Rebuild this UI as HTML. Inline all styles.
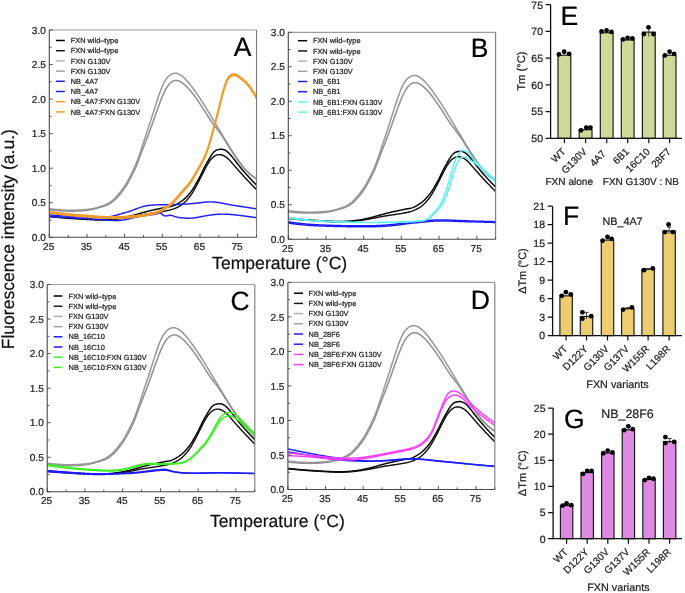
<!DOCTYPE html><html><head><meta charset="utf-8"><title>Figure</title><style>html,body{margin:0;padding:0;background:#fff;overflow:hidden}svg{display:block;filter:blur(0.35px)}text{font-family:"Liberation Sans",sans-serif;text-rendering:geometricPrecision;stroke-width:0.22px}</style></head><body>
<svg width="685" height="593" viewBox="0 0 685 593" font-family="Liberation Sans, sans-serif">
<rect width="685" height="593" fill="#fff"/>
<clipPath id="clipA"><rect x="49.3" y="30" width="207.2" height="207.3"/></clipPath>
<g clip-path="url(#clipA)">
<path d="M49.3,208.76 L50.05,208.85 L50.81,208.93 L51.56,209.01 L52.31,209.09 L53.07,209.18 L53.82,209.25 L54.57,209.33 L55.33,209.41 L56.08,209.48 L56.83,209.55 L57.59,209.62 L58.34,209.69 L59.09,209.75 L59.85,209.81 L60.6,209.87 L61.36,209.92 L62.11,209.97 L62.86,210.01 L63.62,210.05 L64.37,210.09 L65.12,210.12 L65.88,210.15 L66.63,210.17 L67.38,210.19 L68.14,210.21 L68.89,210.22 L69.64,210.23 L70.4,210.23 L71.15,210.24 L71.9,210.23 L72.66,210.23 L73.41,210.22 L74.16,210.21 L74.92,210.19 L75.67,210.17 L76.42,210.15 L77.18,210.12 L77.93,210.09 L78.68,210.06 L79.44,210.02 L80.19,209.98 L80.95,209.93 L81.7,209.89 L82.45,209.83 L83.21,209.78 L83.96,209.72 L84.71,209.66 L85.47,209.59 L86.22,209.53 L86.97,209.45 L87.73,209.38 L88.48,209.3 L89.23,209.21 L89.99,209.11 L90.74,209.01 L91.49,208.89 L92.25,208.76 L93,208.62 L93.75,208.46 L94.51,208.28 L95.26,208.08 L96.01,207.87 L96.77,207.65 L97.52,207.41 L98.27,207.17 L99.03,206.92 L99.78,206.67 L100.53,206.43 L101.29,206.18 L102.04,205.93 L102.8,205.68 L103.55,205.41 L104.3,205.13 L105.06,204.84 L105.81,204.52 L106.56,204.18 L107.32,203.8 L108.07,203.4 L108.82,202.97 L109.58,202.5 L110.33,202 L111.08,201.46 L111.84,200.89 L112.59,200.28 L113.34,199.64 L114.1,198.95 L114.85,198.22 L115.6,197.46 L116.36,196.66 L117.11,195.83 L117.86,194.96 L118.62,194.06 L119.37,193.14 L120.12,192.19 L120.88,191.22 L121.63,190.23 L122.39,189.21 L123.14,188.17 L123.89,187.09 L124.65,185.97 L125.4,184.81 L126.15,183.61 L126.91,182.34 L127.66,181.02 L128.41,179.65 L129.17,178.23 L129.92,176.78 L130.67,175.29 L131.43,173.79 L132.18,172.28 L132.93,170.75 L133.69,169.2 L134.44,167.59 L135.19,165.93 L135.95,164.18 L136.7,162.33 L137.45,160.37 L138.21,158.31 L138.96,156.17 L139.71,153.97 L140.47,151.72 L141.22,149.44 L141.97,147.14 L142.73,144.83 L143.48,142.52 L144.24,140.21 L144.99,137.92 L145.74,135.64 L146.5,133.36 L147.25,131.08 L148,128.8 L148.76,126.51 L149.51,124.22 L150.26,121.9 L151.02,119.57 L151.77,117.23 L152.52,114.87 L153.28,112.51 L154.03,110.16 L154.78,107.8 L155.54,105.46 L156.29,103.13 L157.04,100.83 L157.8,98.55 L158.55,96.31 L159.3,94.12 L160.06,92.01 L160.81,89.97 L161.56,88.04 L162.32,86.22 L163.07,84.52 L163.83,82.97 L164.58,81.57 L165.33,80.31 L166.09,79.18 L166.84,78.18 L167.59,77.29 L168.35,76.51 L169.1,75.83 L169.85,75.24 L170.61,74.72 L171.36,74.29 L172.11,73.92 L172.87,73.63 L173.62,73.42 L174.37,73.29 L175.13,73.23 L175.88,73.26 L176.63,73.36 L177.39,73.54 L178.14,73.79 L178.89,74.11 L179.65,74.5 L180.4,74.93 L181.15,75.43 L181.91,75.97 L182.66,76.57 L183.41,77.21 L184.17,77.89 L184.92,78.62 L185.68,79.38 L186.43,80.18 L187.18,81.02 L187.94,81.88 L188.69,82.77 L189.44,83.69 L190.2,84.64 L190.95,85.61 L191.7,86.6 L192.46,87.61 L193.21,88.63 L193.96,89.68 L194.72,90.73 L195.47,91.8 L196.22,92.88 L196.98,93.97 L197.73,95.07 L198.48,96.17 L199.24,97.29 L199.99,98.42 L200.74,99.55 L201.5,100.7 L202.25,101.86 L203,103.03 L203.76,104.22 L204.51,105.41 L205.27,106.62 L206.02,107.84 L206.77,109.07 L207.53,110.3 L208.28,111.55 L209.03,112.8 L209.79,114.05 L210.54,115.31 L211.29,116.56 L212.05,117.82 L212.8,119.08 L213.55,120.33 L214.31,121.58 L215.06,122.83 L215.81,124.09 L216.57,125.34 L217.32,126.59 L218.07,127.84 L218.83,129.09 L219.58,130.35 L220.33,131.61 L221.09,132.87 L221.84,134.13 L222.59,135.39 L223.35,136.66 L224.1,137.92 L224.85,139.18 L225.61,140.43 L226.36,141.68 L227.12,142.93 L227.87,144.17 L228.62,145.4 L229.38,146.62 L230.13,147.83 L230.88,149.03 L231.64,150.22 L232.39,151.4 L233.14,152.57 L233.9,153.73 L234.65,154.88 L235.4,156.02 L236.16,157.14 L236.91,158.25 L237.66,159.35 L238.42,160.43 L239.17,161.5 L239.92,162.55 L240.68,163.57 L241.43,164.58 L242.18,165.56 L242.94,166.51 L243.69,167.44 L244.44,168.33 L245.2,169.19 L245.95,170.01 L246.71,170.8 L247.46,171.55 L248.21,172.27 L248.97,172.95 L249.72,173.61 L250.47,174.24 L251.23,174.85 L251.98,175.43 L252.73,176 L253.49,176.56 L254.24,177.11 L254.99,177.64 L255.75,178.17 L256.5,178.7 L256.5,178.7" fill="none" stroke="#9a9a9a" stroke-width="1.55" stroke-linejoin="round" stroke-linecap="round"/>
<path d="M49.3,209.8 L50.05,209.88 L50.81,209.96 L51.56,210.04 L52.31,210.11 L53.07,210.19 L53.82,210.27 L54.57,210.34 L55.33,210.41 L56.08,210.48 L56.83,210.55 L57.59,210.61 L58.34,210.67 L59.09,210.73 L59.85,210.78 L60.6,210.83 L61.36,210.88 L62.11,210.92 L62.86,210.96 L63.62,210.99 L64.37,211.02 L65.12,211.05 L65.88,211.07 L66.63,211.09 L67.38,211.1 L68.14,211.12 L68.89,211.12 L69.64,211.13 L70.4,211.13 L71.15,211.13 L71.9,211.13 L72.66,211.12 L73.41,211.12 L74.16,211.11 L74.92,211.09 L75.67,211.08 L76.42,211.06 L77.18,211.04 L77.93,211.01 L78.68,210.98 L79.44,210.94 L80.19,210.91 L80.95,210.86 L81.7,210.81 L82.45,210.75 L83.21,210.69 L83.96,210.62 L84.71,210.55 L85.47,210.47 L86.22,210.38 L86.97,210.28 L87.73,210.18 L88.48,210.06 L89.23,209.94 L89.99,209.81 L90.74,209.67 L91.49,209.52 L92.25,209.37 L93,209.2 L93.75,209.02 L94.51,208.83 L95.26,208.63 L96.01,208.43 L96.77,208.21 L97.52,208 L98.27,207.78 L99.03,207.56 L99.78,207.35 L100.53,207.14 L101.29,206.93 L102.04,206.73 L102.8,206.52 L103.55,206.3 L104.3,206.07 L105.06,205.82 L105.81,205.55 L106.56,205.26 L107.32,204.93 L108.07,204.57 L108.82,204.18 L109.58,203.76 L110.33,203.3 L111.08,202.8 L111.84,202.27 L112.59,201.71 L113.34,201.11 L114.1,200.47 L114.85,199.8 L115.6,199.09 L116.36,198.34 L117.11,197.57 L117.86,196.76 L118.62,195.92 L119.37,195.04 L120.12,194.14 L120.88,193.21 L121.63,192.25 L122.39,191.26 L123.14,190.24 L123.89,189.18 L124.65,188.08 L125.4,186.95 L126.15,185.77 L126.91,184.55 L127.66,183.27 L128.41,181.95 L129.17,180.59 L129.92,179.2 L130.67,177.77 L131.43,176.33 L132.18,174.86 L132.93,173.37 L133.69,171.84 L134.44,170.26 L135.19,168.62 L135.95,166.9 L136.7,165.09 L137.45,163.18 L138.21,161.19 L138.96,159.15 L139.71,157.1 L140.47,155.05 L141.22,153.03 L141.97,151.07 L142.73,149.13 L143.48,147.22 L144.24,145.32 L144.99,143.43 L145.74,141.52 L146.5,139.59 L147.25,137.64 L148,135.66 L148.76,133.66 L149.51,131.63 L150.26,129.58 L151.02,127.51 L151.77,125.42 L152.52,123.31 L153.28,121.18 L154.03,119.04 L154.78,116.9 L155.54,114.75 L156.29,112.61 L157.04,110.48 L157.8,108.37 L158.55,106.3 L159.3,104.25 L160.06,102.25 L160.81,100.3 L161.56,98.4 L162.32,96.57 L163.07,94.82 L163.83,93.14 L164.58,91.56 L165.33,90.07 L166.09,88.69 L166.84,87.43 L167.59,86.28 L168.35,85.24 L169.1,84.32 L169.85,83.5 L170.61,82.79 L171.36,82.17 L172.11,81.65 L172.87,81.23 L173.62,80.9 L174.37,80.66 L175.13,80.51 L175.88,80.44 L176.63,80.46 L177.39,80.57 L178.14,80.74 L178.89,80.99 L179.65,81.3 L180.4,81.67 L181.15,82.1 L181.91,82.58 L182.66,83.1 L183.41,83.68 L184.17,84.3 L184.92,84.96 L185.68,85.66 L186.43,86.4 L187.18,87.17 L187.94,87.98 L188.69,88.81 L189.44,89.67 L190.2,90.55 L190.95,91.46 L191.7,92.39 L192.46,93.35 L193.21,94.32 L193.96,95.32 L194.72,96.33 L195.47,97.36 L196.22,98.41 L196.98,99.47 L197.73,100.55 L198.48,101.64 L199.24,102.74 L199.99,103.86 L200.74,104.99 L201.5,106.13 L202.25,107.28 L203,108.44 L203.76,109.62 L204.51,110.8 L205.27,111.99 L206.02,113.18 L206.77,114.38 L207.53,115.57 L208.28,116.75 L209.03,117.93 L209.79,119.08 L210.54,120.22 L211.29,121.33 L212.05,122.41 L212.8,123.46 L213.55,124.48 L214.31,125.47 L215.06,126.45 L215.81,127.42 L216.57,128.38 L217.32,129.35 L218.07,130.33 L218.83,131.32 L219.58,132.34 L220.33,133.38 L221.09,134.47 L221.84,135.59 L222.59,136.73 L223.35,137.91 L224.1,139.1 L224.85,140.32 L225.61,141.54 L226.36,142.76 L227.12,143.99 L227.87,145.22 L228.62,146.43 L229.38,147.64 L230.13,148.83 L230.88,150 L231.64,151.16 L232.39,152.31 L233.14,153.45 L233.9,154.57 L234.65,155.69 L235.4,156.79 L236.16,157.87 L236.91,158.95 L237.66,160.01 L238.42,161.07 L239.17,162.1 L239.92,163.12 L240.68,164.12 L241.43,165.11 L242.18,166.06 L242.94,166.99 L243.69,167.9 L244.44,168.78 L245.2,169.62 L245.95,170.43 L246.71,171.21 L247.46,171.95 L248.21,172.66 L248.97,173.34 L249.72,174 L250.47,174.63 L251.23,175.23 L251.98,175.82 L252.73,176.4 L253.49,176.96 L254.24,177.51 L254.99,178.05 L255.75,178.58 L256.5,179.12 L256.5,179.12" fill="none" stroke="#929292" stroke-width="1.55" stroke-linejoin="round" stroke-linecap="round"/>
<path d="M49.3,216.22 L50.05,216.3 L50.81,216.37 L51.56,216.44 L52.31,216.51 L53.07,216.58 L53.82,216.65 L54.57,216.72 L55.33,216.79 L56.08,216.86 L56.83,216.93 L57.59,216.99 L58.34,217.06 L59.09,217.13 L59.85,217.2 L60.6,217.26 L61.36,217.33 L62.11,217.39 L62.86,217.45 L63.62,217.52 L64.37,217.58 L65.12,217.64 L65.88,217.7 L66.63,217.76 L67.38,217.82 L68.14,217.88 L68.89,217.93 L69.64,217.99 L70.4,218.04 L71.15,218.1 L71.9,218.15 L72.66,218.2 L73.41,218.25 L74.16,218.3 L74.92,218.35 L75.67,218.4 L76.42,218.45 L77.18,218.5 L77.93,218.54 L78.68,218.59 L79.44,218.63 L80.19,218.68 L80.95,218.72 L81.7,218.76 L82.45,218.81 L83.21,218.85 L83.96,218.89 L84.71,218.93 L85.47,218.97 L86.22,219.02 L86.97,219.06 L87.73,219.1 L88.48,219.14 L89.23,219.18 L89.99,219.22 L90.74,219.26 L91.49,219.3 L92.25,219.33 L93,219.37 L93.75,219.4 L94.51,219.43 L95.26,219.46 L96.01,219.48 L96.77,219.5 L97.52,219.52 L98.27,219.53 L99.03,219.54 L99.78,219.54 L100.53,219.54 L101.29,219.54 L102.04,219.53 L102.8,219.52 L103.55,219.5 L104.3,219.48 L105.06,219.45 L105.81,219.42 L106.56,219.38 L107.32,219.34 L108.07,219.3 L108.82,219.25 L109.58,219.2 L110.33,219.14 L111.08,219.08 L111.84,219.01 L112.59,218.94 L113.34,218.87 L114.1,218.79 L114.85,218.7 L115.6,218.62 L116.36,218.53 L117.11,218.44 L117.86,218.34 L118.62,218.24 L119.37,218.13 L120.12,218.02 L120.88,217.91 L121.63,217.79 L122.39,217.67 L123.14,217.54 L123.89,217.4 L124.65,217.26 L125.4,217.11 L126.15,216.96 L126.91,216.8 L127.66,216.64 L128.41,216.47 L129.17,216.29 L129.92,216.11 L130.67,215.93 L131.43,215.74 L132.18,215.55 L132.93,215.35 L133.69,215.15 L134.44,214.95 L135.19,214.74 L135.95,214.54 L136.7,214.33 L137.45,214.12 L138.21,213.91 L138.96,213.69 L139.71,213.48 L140.47,213.27 L141.22,213.05 L141.97,212.84 L142.73,212.63 L143.48,212.42 L144.24,212.22 L144.99,212.01 L145.74,211.81 L146.5,211.61 L147.25,211.41 L148,211.22 L148.76,211.03 L149.51,210.84 L150.26,210.66 L151.02,210.48 L151.77,210.3 L152.52,210.13 L153.28,209.96 L154.03,209.79 L154.78,209.63 L155.54,209.47 L156.29,209.31 L157.04,209.15 L157.8,209 L158.55,208.84 L159.3,208.68 L160.06,208.52 L160.81,208.36 L161.56,208.2 L162.32,208.03 L163.07,207.86 L163.83,207.7 L164.58,207.54 L165.33,207.38 L166.09,207.23 L166.84,207.09 L167.59,206.96 L168.35,206.84 L169.1,206.73 L169.85,206.61 L170.61,206.49 L171.36,206.35 L172.11,206.17 L172.87,205.95 L173.62,205.69 L174.37,205.4 L175.13,205.06 L175.88,204.69 L176.63,204.3 L177.39,203.88 L178.14,203.44 L178.89,202.98 L179.65,202.51 L180.4,202.01 L181.15,201.48 L181.91,200.93 L182.66,200.35 L183.41,199.74 L184.17,199.09 L184.92,198.4 L185.68,197.68 L186.43,196.92 L187.18,196.13 L187.94,195.31 L188.69,194.46 L189.44,193.58 L190.2,192.67 L190.95,191.71 L191.7,190.7 L192.46,189.62 L193.21,188.47 L193.96,187.26 L194.72,186 L195.47,184.71 L196.22,183.4 L196.98,182.08 L197.73,180.74 L198.48,179.37 L199.24,177.96 L199.99,176.49 L200.74,174.97 L201.5,173.4 L202.25,171.82 L203,170.23 L203.76,168.67 L204.51,167.16 L205.27,165.72 L206.02,164.33 L206.77,162.99 L207.53,161.69 L208.28,160.42 L209.03,159.15 L209.79,157.9 L210.54,156.65 L211.29,155.45 L212.05,154.31 L212.8,153.27 L213.55,152.36 L214.31,151.6 L215.06,151 L215.81,150.53 L216.57,150.17 L217.32,149.9 L218.07,149.68 L218.83,149.51 L219.58,149.38 L220.33,149.29 L221.09,149.27 L221.84,149.3 L222.59,149.39 L223.35,149.56 L224.1,149.79 L224.85,150.1 L225.61,150.48 L226.36,150.94 L227.12,151.48 L227.87,152.1 L228.62,152.8 L229.38,153.57 L230.13,154.4 L230.88,155.28 L231.64,156.2 L232.39,157.14 L233.14,158.1 L233.9,159.07 L234.65,160.05 L235.4,161.03 L236.16,162.01 L236.91,162.98 L237.66,163.95 L238.42,164.9 L239.17,165.84 L239.92,166.77 L240.68,167.69 L241.43,168.6 L242.18,169.5 L242.94,170.39 L243.69,171.27 L244.44,172.14 L245.2,173.01 L245.95,173.86 L246.71,174.7 L247.46,175.54 L248.21,176.36 L248.97,177.18 L249.72,178 L250.47,178.8 L251.23,179.61 L251.98,180.4 L252.73,181.2 L253.49,181.99 L254.24,182.78 L254.99,183.56 L255.75,184.35 L256.5,185.13 L256.5,185.13" fill="none" stroke="#000000" stroke-width="1.45" stroke-linejoin="round" stroke-linecap="round"/>
<path d="M49.3,216.57 L50.05,216.65 L50.81,216.72 L51.56,216.8 L52.31,216.88 L53.07,216.95 L53.82,217.03 L54.57,217.1 L55.33,217.18 L56.08,217.25 L56.83,217.32 L57.59,217.4 L58.34,217.47 L59.09,217.54 L59.85,217.61 L60.6,217.68 L61.36,217.74 L62.11,217.81 L62.86,217.87 L63.62,217.94 L64.37,218 L65.12,218.06 L65.88,218.12 L66.63,218.18 L67.38,218.24 L68.14,218.3 L68.89,218.35 L69.64,218.41 L70.4,218.46 L71.15,218.52 L71.9,218.57 L72.66,218.62 L73.41,218.67 L74.16,218.72 L74.92,218.76 L75.67,218.81 L76.42,218.86 L77.18,218.9 L77.93,218.95 L78.68,218.99 L79.44,219.04 L80.19,219.08 L80.95,219.13 L81.7,219.17 L82.45,219.21 L83.21,219.26 L83.96,219.3 L84.71,219.34 L85.47,219.38 L86.22,219.43 L86.97,219.47 L87.73,219.52 L88.48,219.56 L89.23,219.6 L89.99,219.65 L90.74,219.69 L91.49,219.73 L92.25,219.77 L93,219.81 L93.75,219.85 L94.51,219.88 L95.26,219.91 L96.01,219.94 L96.77,219.97 L97.52,219.99 L98.27,220.01 L99.03,220.02 L99.78,220.03 L100.53,220.03 L101.29,220.03 L102.04,220.03 L102.8,220.02 L103.55,220.01 L104.3,219.99 L105.06,219.97 L105.81,219.94 L106.56,219.91 L107.32,219.88 L108.07,219.84 L108.82,219.8 L109.58,219.75 L110.33,219.7 L111.08,219.64 L111.84,219.58 L112.59,219.52 L113.34,219.45 L114.1,219.38 L114.85,219.3 L115.6,219.23 L116.36,219.14 L117.11,219.06 L117.86,218.97 L118.62,218.88 L119.37,218.78 L120.12,218.68 L120.88,218.58 L121.63,218.47 L122.39,218.36 L123.14,218.25 L123.89,218.14 L124.65,218.02 L125.4,217.9 L126.15,217.78 L126.91,217.66 L127.66,217.53 L128.41,217.4 L129.17,217.27 L129.92,217.14 L130.67,217 L131.43,216.87 L132.18,216.72 L132.93,216.58 L133.69,216.44 L134.44,216.29 L135.19,216.14 L135.95,215.99 L136.7,215.83 L137.45,215.68 L138.21,215.53 L138.96,215.37 L139.71,215.22 L140.47,215.07 L141.22,214.92 L141.97,214.78 L142.73,214.64 L143.48,214.5 L144.24,214.36 L144.99,214.23 L145.74,214.1 L146.5,213.98 L147.25,213.86 L148,213.74 L148.76,213.62 L149.51,213.51 L150.26,213.4 L151.02,213.28 L151.77,213.17 L152.52,213.06 L153.28,212.95 L154.03,212.84 L154.78,212.72 L155.54,212.61 L156.29,212.5 L157.04,212.38 L157.8,212.27 L158.55,212.15 L159.3,212.03 L160.06,211.91 L160.81,211.79 L161.56,211.67 L162.32,211.55 L163.07,211.42 L163.83,211.29 L164.58,211.15 L165.33,211.02 L166.09,210.87 L166.84,210.72 L167.59,210.57 L168.35,210.41 L169.1,210.24 L169.85,210.06 L170.61,209.87 L171.36,209.66 L172.11,209.43 L172.87,209.19 L173.62,208.92 L174.37,208.64 L175.13,208.33 L175.88,208 L176.63,207.65 L177.39,207.29 L178.14,206.9 L178.89,206.49 L179.65,206.05 L180.4,205.59 L181.15,205.1 L181.91,204.57 L182.66,204.01 L183.41,203.4 L184.17,202.75 L184.92,202.05 L185.68,201.31 L186.43,200.52 L187.18,199.69 L187.94,198.82 L188.69,197.91 L189.44,196.97 L190.2,195.99 L190.95,194.96 L191.7,193.88 L192.46,192.73 L193.21,191.52 L193.96,190.24 L194.72,188.92 L195.47,187.56 L196.22,186.17 L196.98,184.75 L197.73,183.32 L198.48,181.86 L199.24,180.4 L199.99,178.91 L200.74,177.41 L201.5,175.9 L202.25,174.4 L203,172.89 L203.76,171.4 L204.51,169.93 L205.27,168.48 L206.02,167.07 L206.77,165.7 L207.53,164.4 L208.28,163.16 L209.03,162 L209.79,160.92 L210.54,159.92 L211.29,159 L212.05,158.18 L212.8,157.45 L213.55,156.81 L214.31,156.26 L215.06,155.8 L215.81,155.42 L216.57,155.11 L217.32,154.88 L218.07,154.73 L218.83,154.64 L219.58,154.63 L220.33,154.7 L221.09,154.82 L221.84,155.02 L222.59,155.27 L223.35,155.59 L224.1,155.95 L224.85,156.37 L225.61,156.84 L226.36,157.37 L227.12,157.95 L227.87,158.6 L228.62,159.29 L229.38,160.04 L230.13,160.83 L230.88,161.65 L231.64,162.5 L232.39,163.36 L233.14,164.23 L233.9,165.11 L234.65,165.98 L235.4,166.86 L236.16,167.74 L236.91,168.61 L237.66,169.47 L238.42,170.33 L239.17,171.17 L239.92,172.02 L240.68,172.86 L241.43,173.69 L242.18,174.51 L242.94,175.34 L243.69,176.15 L244.44,176.96 L245.2,177.77 L245.95,178.58 L246.71,179.38 L247.46,180.18 L248.21,180.98 L248.97,181.77 L249.72,182.56 L250.47,183.35 L251.23,184.14 L251.98,184.92 L252.73,185.71 L253.49,186.49 L254.24,187.28 L254.99,188.06 L255.75,188.84 L256.5,189.62 L256.5,189.62" fill="none" stroke="#111111" stroke-width="1.45" stroke-linejoin="round" stroke-linecap="round"/>
<path d="M49.3,214.84 L50.05,214.9 L50.81,214.96 L51.56,215.02 L52.31,215.08 L53.07,215.13 L53.82,215.19 L54.57,215.25 L55.33,215.31 L56.08,215.36 L56.83,215.42 L57.59,215.48 L58.34,215.53 L59.09,215.59 L59.85,215.65 L60.6,215.7 L61.36,215.76 L62.11,215.81 L62.86,215.86 L63.62,215.92 L64.37,215.97 L65.12,216.02 L65.88,216.07 L66.63,216.12 L67.38,216.17 L68.14,216.22 L68.89,216.27 L69.64,216.32 L70.4,216.37 L71.15,216.42 L71.9,216.46 L72.66,216.51 L73.41,216.55 L74.16,216.6 L74.92,216.64 L75.67,216.68 L76.42,216.72 L77.18,216.77 L77.93,216.81 L78.68,216.85 L79.44,216.89 L80.19,216.93 L80.95,216.97 L81.7,217 L82.45,217.04 L83.21,217.08 L83.96,217.12 L84.71,217.15 L85.47,217.19 L86.22,217.23 L86.97,217.26 L87.73,217.3 L88.48,217.33 L89.23,217.36 L89.99,217.4 L90.74,217.43 L91.49,217.46 L92.25,217.48 L93,217.51 L93.75,217.53 L94.51,217.55 L95.26,217.57 L96.01,217.58 L96.77,217.59 L97.52,217.6 L98.27,217.61 L99.03,217.61 L99.78,217.6 L100.53,217.59 L101.29,217.57 L102.04,217.55 L102.8,217.52 L103.55,217.48 L104.3,217.43 L105.06,217.38 L105.81,217.31 L106.56,217.23 L107.32,217.14 L108.07,217.03 L108.82,216.92 L109.58,216.78 L110.33,216.64 L111.08,216.49 L111.84,216.32 L112.59,216.14 L113.34,215.96 L114.1,215.77 L114.85,215.57 L115.6,215.36 L116.36,215.15 L117.11,214.94 L117.86,214.73 L118.62,214.51 L119.37,214.3 L120.12,214.08 L120.88,213.87 L121.63,213.66 L122.39,213.45 L123.14,213.24 L123.89,213.03 L124.65,212.81 L125.4,212.6 L126.15,212.38 L126.91,212.16 L127.66,211.93 L128.41,211.69 L129.17,211.46 L129.92,211.21 L130.67,210.96 L131.43,210.69 L132.18,210.42 L132.93,210.14 L133.69,209.85 L134.44,209.56 L135.19,209.27 L135.95,208.98 L136.7,208.69 L137.45,208.4 L138.21,208.12 L138.96,207.85 L139.71,207.59 L140.47,207.34 L141.22,207.1 L141.97,206.88 L142.73,206.67 L143.48,206.47 L144.24,206.28 L144.99,206.11 L145.74,205.95 L146.5,205.8 L147.25,205.66 L148,205.54 L148.76,205.43 L149.51,205.33 L150.26,205.24 L151.02,205.16 L151.77,205.1 L152.52,205.04 L153.28,204.99 L154.03,204.95 L154.78,204.92 L155.54,204.89 L156.29,204.87 L157.04,204.85 L157.8,204.83 L158.55,204.82 L159.3,204.81 L160.06,204.81 L160.81,204.8 L161.56,204.79 L162.32,204.79 L163.07,204.79 L163.83,204.78 L164.58,204.78 L165.33,204.77 L166.09,204.76 L166.84,204.75 L167.59,204.74 L168.35,204.73 L169.1,204.72 L169.85,204.7 L170.61,204.68 L171.36,204.66 L172.11,204.64 L172.87,204.62 L173.62,204.6 L174.37,204.57 L175.13,204.54 L175.88,204.51 L176.63,204.48 L177.39,204.45 L178.14,204.42 L178.89,204.38 L179.65,204.35 L180.4,204.31 L181.15,204.27 L181.91,204.23 L182.66,204.19 L183.41,204.15 L184.17,204.1 L184.92,204.06 L185.68,204.01 L186.43,203.96 L187.18,203.91 L187.94,203.86 L188.69,203.8 L189.44,203.75 L190.2,203.69 L190.95,203.63 L191.7,203.57 L192.46,203.5 L193.21,203.44 L193.96,203.37 L194.72,203.3 L195.47,203.23 L196.22,203.16 L196.98,203.08 L197.73,203 L198.48,202.92 L199.24,202.84 L199.99,202.75 L200.74,202.66 L201.5,202.57 L202.25,202.48 L203,202.39 L203.76,202.31 L204.51,202.23 L205.27,202.15 L206.02,202.08 L206.77,202.01 L207.53,201.96 L208.28,201.91 L209.03,201.88 L209.79,201.86 L210.54,201.85 L211.29,201.85 L212.05,201.87 L212.8,201.91 L213.55,201.96 L214.31,202.02 L215.06,202.1 L215.81,202.18 L216.57,202.28 L217.32,202.39 L218.07,202.5 L218.83,202.62 L219.58,202.75 L220.33,202.89 L221.09,203.03 L221.84,203.17 L222.59,203.32 L223.35,203.47 L224.1,203.61 L224.85,203.76 L225.61,203.91 L226.36,204.06 L227.12,204.2 L227.87,204.34 L228.62,204.48 L229.38,204.62 L230.13,204.75 L230.88,204.88 L231.64,205.01 L232.39,205.14 L233.14,205.26 L233.9,205.38 L234.65,205.51 L235.4,205.63 L236.16,205.74 L236.91,205.86 L237.66,205.98 L238.42,206.09 L239.17,206.21 L239.92,206.32 L240.68,206.44 L241.43,206.55 L242.18,206.66 L242.94,206.78 L243.69,206.89 L244.44,207.01 L245.2,207.12 L245.95,207.23 L246.71,207.35 L247.46,207.46 L248.21,207.58 L248.97,207.69 L249.72,207.8 L250.47,207.92 L251.23,208.03 L251.98,208.15 L252.73,208.26 L253.49,208.37 L254.24,208.49 L254.99,208.6 L255.75,208.72 L256.5,208.83 L256.5,208.83" fill="none" stroke="#1c1cff" stroke-width="1.45" stroke-linejoin="round" stroke-linecap="round"/>
<path d="M49.3,216.57 L50.05,216.61 L50.81,216.65 L51.56,216.69 L52.31,216.73 L53.07,216.77 L53.82,216.81 L54.57,216.85 L55.33,216.89 L56.08,216.93 L56.83,216.97 L57.59,217.01 L58.34,217.05 L59.09,217.09 L59.85,217.14 L60.6,217.18 L61.36,217.22 L62.11,217.26 L62.86,217.3 L63.62,217.35 L64.37,217.39 L65.12,217.43 L65.88,217.47 L66.63,217.52 L67.38,217.56 L68.14,217.61 L68.89,217.65 L69.64,217.7 L70.4,217.74 L71.15,217.79 L71.9,217.83 L72.66,217.88 L73.41,217.93 L74.16,217.97 L74.92,218.02 L75.67,218.07 L76.42,218.11 L77.18,218.16 L77.93,218.21 L78.68,218.26 L79.44,218.3 L80.19,218.35 L80.95,218.4 L81.7,218.45 L82.45,218.5 L83.21,218.54 L83.96,218.59 L84.71,218.64 L85.47,218.69 L86.22,218.73 L86.97,218.78 L87.73,218.83 L88.48,218.88 L89.23,218.92 L89.99,218.97 L90.74,219.02 L91.49,219.06 L92.25,219.11 L93,219.16 L93.75,219.21 L94.51,219.25 L95.26,219.3 L96.01,219.35 L96.77,219.4 L97.52,219.45 L98.27,219.5 L99.03,219.55 L99.78,219.6 L100.53,219.65 L101.29,219.7 L102.04,219.75 L102.8,219.81 L103.55,219.86 L104.3,219.91 L105.06,219.97 L105.81,220.03 L106.56,220.08 L107.32,220.14 L108.07,220.19 L108.82,220.25 L109.58,220.3 L110.33,220.35 L111.08,220.4 L111.84,220.44 L112.59,220.47 L113.34,220.5 L114.1,220.53 L114.85,220.54 L115.6,220.55 L116.36,220.55 L117.11,220.53 L117.86,220.51 L118.62,220.48 L119.37,220.43 L120.12,220.37 L120.88,220.3 L121.63,220.21 L122.39,220.11 L123.14,220 L123.89,219.88 L124.65,219.75 L125.4,219.61 L126.15,219.47 L126.91,219.31 L127.66,219.15 L128.41,218.99 L129.17,218.82 L129.92,218.64 L130.67,218.47 L131.43,218.29 L132.18,218.11 L132.93,217.93 L133.69,217.75 L134.44,217.58 L135.19,217.41 L135.95,217.24 L136.7,217.07 L137.45,216.92 L138.21,216.76 L138.96,216.62 L139.71,216.48 L140.47,216.35 L141.22,216.22 L141.97,216.1 L142.73,215.98 L143.48,215.86 L144.24,215.75 L144.99,215.64 L145.74,215.53 L146.5,215.43 L147.25,215.33 L148,215.23 L148.76,215.13 L149.51,215.03 L150.26,214.93 L151.02,214.83 L151.77,214.74 L152.52,214.64 L153.28,214.53 L154.03,214.42 L154.78,214.29 L155.54,214.14 L156.29,213.96 L157.04,213.73 L157.8,213.46 L158.55,213.16 L159.3,212.92 L160.06,212.88 L160.81,213.16 L161.56,213.72 L162.32,214.41 L163.07,215.05 L163.83,215.51 L164.58,215.78 L165.33,215.9 L166.09,215.9 L166.84,215.82 L167.59,215.69 L168.35,215.55 L169.1,215.42 L169.85,215.34 L170.61,215.34 L171.36,215.43 L172.11,215.6 L172.87,215.82 L173.62,216.07 L174.37,216.34 L175.13,216.6 L175.88,216.85 L176.63,217.05 L177.39,217.22 L178.14,217.36 L178.89,217.48 L179.65,217.58 L180.4,217.67 L181.15,217.74 L181.91,217.82 L182.66,217.9 L183.41,217.97 L184.17,218.03 L184.92,218.09 L185.68,218.14 L186.43,218.18 L187.18,218.21 L187.94,218.23 L188.69,218.23 L189.44,218.22 L190.2,218.19 L190.95,218.15 L191.7,218.1 L192.46,218.03 L193.21,217.95 L193.96,217.86 L194.72,217.76 L195.47,217.65 L196.22,217.53 L196.98,217.41 L197.73,217.28 L198.48,217.14 L199.24,217.01 L199.99,216.87 L200.74,216.72 L201.5,216.58 L202.25,216.44 L203,216.29 L203.76,216.15 L204.51,216.02 L205.27,215.88 L206.02,215.75 L206.77,215.62 L207.53,215.5 L208.28,215.38 L209.03,215.26 L209.79,215.15 L210.54,215.04 L211.29,214.94 L212.05,214.84 L212.8,214.75 L213.55,214.66 L214.31,214.58 L215.06,214.51 L215.81,214.44 L216.57,214.37 L217.32,214.32 L218.07,214.27 L218.83,214.23 L219.58,214.19 L220.33,214.16 L221.09,214.14 L221.84,214.13 L222.59,214.13 L223.35,214.13 L224.1,214.14 L224.85,214.15 L225.61,214.17 L226.36,214.2 L227.12,214.24 L227.87,214.28 L228.62,214.32 L229.38,214.37 L230.13,214.42 L230.88,214.48 L231.64,214.55 L232.39,214.61 L233.14,214.68 L233.9,214.76 L234.65,214.84 L235.4,214.92 L236.16,215 L236.91,215.08 L237.66,215.17 L238.42,215.26 L239.17,215.35 L239.92,215.44 L240.68,215.53 L241.43,215.62 L242.18,215.72 L242.94,215.82 L243.69,215.91 L244.44,216.01 L245.2,216.11 L245.95,216.21 L246.71,216.31 L247.46,216.41 L248.21,216.52 L248.97,216.62 L249.72,216.72 L250.47,216.83 L251.23,216.93 L251.98,217.04 L252.73,217.14 L253.49,217.25 L254.24,217.36 L254.99,217.46 L255.75,217.57 L256.5,217.68 L256.5,217.68" fill="none" stroke="#1c1cff" stroke-width="1.45" stroke-linejoin="round" stroke-linecap="round"/>
<path d="M49.3,211.73 L50.05,211.83 L50.81,211.92 L51.56,212.02 L52.31,212.11 L53.07,212.21 L53.82,212.3 L54.57,212.39 L55.33,212.49 L56.08,212.58 L56.83,212.67 L57.59,212.76 L58.34,212.85 L59.09,212.94 L59.85,213.03 L60.6,213.12 L61.36,213.21 L62.11,213.3 L62.86,213.38 L63.62,213.47 L64.37,213.55 L65.12,213.63 L65.88,213.71 L66.63,213.79 L67.38,213.87 L68.14,213.94 L68.89,214.02 L69.64,214.09 L70.4,214.16 L71.15,214.23 L71.9,214.3 L72.66,214.37 L73.41,214.44 L74.16,214.5 L74.92,214.57 L75.67,214.63 L76.42,214.7 L77.18,214.76 L77.93,214.82 L78.68,214.88 L79.44,214.94 L80.19,215 L80.95,215.06 L81.7,215.12 L82.45,215.18 L83.21,215.24 L83.96,215.3 L84.71,215.36 L85.47,215.41 L86.22,215.47 L86.97,215.53 L87.73,215.59 L88.48,215.65 L89.23,215.71 L89.99,215.77 L90.74,215.83 L91.49,215.89 L92.25,215.95 L93,216.01 L93.75,216.07 L94.51,216.12 L95.26,216.18 L96.01,216.23 L96.77,216.28 L97.52,216.34 L98.27,216.39 L99.03,216.44 L99.78,216.48 L100.53,216.53 L101.29,216.57 L102.04,216.61 L102.8,216.65 L103.55,216.69 L104.3,216.72 L105.06,216.75 L105.81,216.78 L106.56,216.8 L107.32,216.82 L108.07,216.84 L108.82,216.86 L109.58,216.87 L110.33,216.88 L111.08,216.89 L111.84,216.9 L112.59,216.9 L113.34,216.9 L114.1,216.9 L114.85,216.89 L115.6,216.88 L116.36,216.87 L117.11,216.86 L117.86,216.84 L118.62,216.82 L119.37,216.8 L120.12,216.77 L120.88,216.75 L121.63,216.72 L122.39,216.68 L123.14,216.65 L123.89,216.61 L124.65,216.57 L125.4,216.53 L126.15,216.48 L126.91,216.43 L127.66,216.38 L128.41,216.33 L129.17,216.27 L129.92,216.22 L130.67,216.15 L131.43,216.09 L132.18,216.02 L132.93,215.95 L133.69,215.88 L134.44,215.8 L135.19,215.72 L135.95,215.64 L136.7,215.56 L137.45,215.47 L138.21,215.38 L138.96,215.28 L139.71,215.18 L140.47,215.08 L141.22,214.97 L141.97,214.86 L142.73,214.75 L143.48,214.64 L144.24,214.52 L144.99,214.39 L145.74,214.26 L146.5,214.13 L147.25,213.99 L148,213.85 L148.76,213.7 L149.51,213.55 L150.26,213.39 L151.02,213.22 L151.77,213.04 L152.52,212.86 L153.28,212.67 L154.03,212.48 L154.78,212.27 L155.54,212.05 L156.29,211.81 L157.04,211.55 L157.8,211.28 L158.55,210.98 L159.3,210.66 L160.06,210.31 L160.81,209.94 L161.56,209.53 L162.32,209.1 L163.07,208.64 L163.83,208.17 L164.58,207.69 L165.33,207.2 L166.09,206.7 L166.84,206.21 L167.59,205.71 L168.35,205.22 L169.1,204.71 L169.85,204.18 L170.61,203.63 L171.36,203.04 L172.11,202.4 L172.87,201.71 L173.62,200.96 L174.37,200.17 L175.13,199.35 L175.88,198.49 L176.63,197.62 L177.39,196.73 L178.14,195.84 L178.89,194.95 L179.65,194.07 L180.4,193.2 L181.15,192.33 L181.91,191.47 L182.66,190.62 L183.41,189.77 L184.17,188.93 L184.92,188.1 L185.68,187.26 L186.43,186.41 L187.18,185.55 L187.94,184.64 L188.69,183.7 L189.44,182.71 L190.2,181.66 L190.95,180.55 L191.7,179.4 L192.46,178.2 L193.21,176.97 L193.96,175.71 L194.72,174.42 L195.47,173.11 L196.22,171.79 L196.98,170.46 L197.73,169.12 L198.48,167.77 L199.24,166.43 L199.99,165.09 L200.74,163.75 L201.5,162.41 L202.25,161.03 L203,159.6 L203.76,158.1 L204.51,156.52 L205.27,154.83 L206.02,153.02 L206.77,151.06 L207.53,148.95 L208.28,146.67 L209.03,144.26 L209.79,141.72 L210.54,139.09 L211.29,136.38 L212.05,133.61 L212.8,130.8 L213.55,127.98 L214.31,125.17 L215.06,122.34 L215.81,119.51 L216.57,116.66 L217.32,113.78 L218.07,110.87 L218.83,107.92 L219.58,104.92 L220.33,101.88 L221.09,98.85 L221.84,95.86 L222.59,92.96 L223.35,90.19 L224.1,87.57 L224.85,85.16 L225.61,82.97 L226.36,81.04 L227.12,79.41 L227.87,78.08 L228.62,77.02 L229.38,76.19 L230.13,75.54 L230.88,75.01 L231.64,74.59 L232.39,74.28 L233.14,74.09 L233.9,74.02 L234.65,74.07 L235.4,74.24 L236.16,74.5 L236.91,74.85 L237.66,75.27 L238.42,75.75 L239.17,76.28 L239.92,76.83 L240.68,77.4 L241.43,77.98 L242.18,78.56 L242.94,79.16 L243.69,79.79 L244.44,80.44 L245.2,81.13 L245.95,81.86 L246.71,82.64 L247.46,83.48 L248.21,84.39 L248.97,85.35 L249.72,86.36 L250.47,87.43 L251.23,88.53 L251.98,89.68 L252.73,90.85 L253.49,92.06 L254.24,93.28 L254.99,94.52 L255.75,95.77 L256.5,97.03 L256.5,97.03" fill="none" stroke="#f29b26" stroke-width="1.7" stroke-linejoin="round" stroke-linecap="round"/>
<path d="M49.3,213.12 L50.05,213.21 L50.81,213.3 L51.56,213.4 L52.31,213.49 L53.07,213.59 L53.82,213.68 L54.57,213.78 L55.33,213.87 L56.08,213.96 L56.83,214.05 L57.59,214.15 L58.34,214.24 L59.09,214.33 L59.85,214.42 L60.6,214.5 L61.36,214.59 L62.11,214.68 L62.86,214.76 L63.62,214.85 L64.37,214.93 L65.12,215.01 L65.88,215.09 L66.63,215.17 L67.38,215.25 L68.14,215.33 L68.89,215.4 L69.64,215.47 L70.4,215.55 L71.15,215.62 L71.9,215.69 L72.66,215.75 L73.41,215.82 L74.16,215.89 L74.92,215.95 L75.67,216.01 L76.42,216.08 L77.18,216.14 L77.93,216.2 L78.68,216.26 L79.44,216.32 L80.19,216.38 L80.95,216.44 L81.7,216.5 L82.45,216.56 L83.21,216.62 L83.96,216.68 L84.71,216.74 L85.47,216.8 L86.22,216.86 L86.97,216.92 L87.73,216.98 L88.48,217.03 L89.23,217.09 L89.99,217.15 L90.74,217.21 L91.49,217.27 L92.25,217.33 L93,217.39 L93.75,217.45 L94.51,217.5 L95.26,217.56 L96.01,217.61 L96.77,217.67 L97.52,217.72 L98.27,217.77 L99.03,217.82 L99.78,217.86 L100.53,217.91 L101.29,217.95 L102.04,217.99 L102.8,218.03 L103.55,218.07 L104.3,218.1 L105.06,218.13 L105.81,218.16 L106.56,218.18 L107.32,218.21 L108.07,218.23 L108.82,218.24 L109.58,218.26 L110.33,218.27 L111.08,218.27 L111.84,218.28 L112.59,218.28 L113.34,218.28 L114.1,218.28 L114.85,218.27 L115.6,218.26 L116.36,218.25 L117.11,218.24 L117.86,218.22 L118.62,218.2 L119.37,218.18 L120.12,218.15 L120.88,218.13 L121.63,218.1 L122.39,218.06 L123.14,218.03 L123.89,217.99 L124.65,217.95 L125.4,217.91 L126.15,217.86 L126.91,217.82 L127.66,217.77 L128.41,217.71 L129.17,217.66 L129.92,217.6 L130.67,217.54 L131.43,217.47 L132.18,217.41 L132.93,217.34 L133.69,217.26 L134.44,217.19 L135.19,217.11 L135.95,217.02 L136.7,216.94 L137.45,216.85 L138.21,216.76 L138.96,216.66 L139.71,216.56 L140.47,216.46 L141.22,216.36 L141.97,216.25 L142.73,216.13 L143.48,216.02 L144.24,215.9 L144.99,215.77 L145.74,215.65 L146.5,215.51 L147.25,215.37 L148,215.23 L148.76,215.08 L149.51,214.93 L150.26,214.77 L151.02,214.6 L151.77,214.43 L152.52,214.24 L153.28,214.06 L154.03,213.86 L154.78,213.65 L155.54,213.43 L156.29,213.19 L157.04,212.93 L157.8,212.66 L158.55,212.36 L159.3,212.04 L160.06,211.69 L160.81,211.32 L161.56,210.91 L162.32,210.48 L163.07,210.03 L163.83,209.56 L164.58,209.07 L165.33,208.58 L166.09,208.08 L166.84,207.59 L167.59,207.09 L168.35,206.6 L169.1,206.09 L169.85,205.57 L170.61,205.01 L171.36,204.42 L172.11,203.78 L172.87,203.09 L173.62,202.34 L174.37,201.55 L175.13,200.73 L175.88,199.87 L176.63,199 L177.39,198.11 L178.14,197.22 L178.89,196.34 L179.65,195.46 L180.4,194.58 L181.15,193.71 L181.91,192.85 L182.66,192 L183.41,191.15 L184.17,190.31 L184.92,189.48 L185.68,188.64 L186.43,187.8 L187.18,186.93 L187.94,186.03 L188.69,185.09 L189.44,184.09 L190.2,183.04 L190.95,181.94 L191.7,180.78 L192.46,179.59 L193.21,178.35 L193.96,177.09 L194.72,175.8 L195.47,174.49 L196.22,173.17 L196.98,171.84 L197.73,170.5 L198.48,169.16 L199.24,167.81 L199.99,166.47 L200.74,165.14 L201.5,163.79 L202.25,162.41 L203,160.98 L203.76,159.48 L204.51,157.9 L205.27,156.21 L206.02,154.4 L206.77,152.45 L207.53,150.33 L208.28,148.05 L209.03,145.64 L209.79,143.1 L210.54,140.47 L211.29,137.76 L212.05,134.99 L212.8,132.19 L213.55,129.37 L214.31,126.55 L215.06,123.73 L215.81,120.89 L216.57,118.04 L217.32,115.17 L218.07,112.26 L218.83,109.3 L219.58,106.3 L220.33,103.26 L221.09,100.23 L221.84,97.24 L222.59,94.34 L223.35,91.57 L224.1,88.96 L224.85,86.54 L225.61,84.35 L226.36,82.43 L227.12,80.79 L227.87,79.46 L228.62,78.4 L229.38,77.57 L230.13,76.92 L230.88,76.39 L231.64,75.97 L232.39,75.66 L233.14,75.47 L233.9,75.4 L234.65,75.45 L235.4,75.62 L236.16,75.88 L236.91,76.23 L237.66,76.66 L238.42,77.14 L239.17,77.66 L239.92,78.21 L240.68,78.78 L241.43,79.36 L242.18,79.94 L242.94,80.54 L243.69,81.17 L244.44,81.82 L245.2,82.51 L245.95,83.24 L246.71,84.02 L247.46,84.87 L248.21,85.77 L248.97,86.73 L249.72,87.75 L250.47,88.81 L251.23,89.91 L251.98,91.06 L252.73,92.23 L253.49,93.44 L254.24,94.66 L254.99,95.9 L255.75,97.15 L256.5,98.41 L256.5,98.41" fill="none" stroke="#f29b26" stroke-width="1.7" stroke-linejoin="round" stroke-linecap="round"/>
</g>
<path d="M49.3,30 H256.5" fill="none" stroke="#9c9c9c" stroke-width="1.15"/>
<path d="M256.5,30 V237.3" fill="none" stroke="#7a7a7a" stroke-width="1.1"/>
<path d="M49.3,30 V237.3 H256.5" fill="none" stroke="#484848" stroke-width="1.1"/>
<path d="M49.3,237.3 v-3.5 M68.14,237.3 v-2.2 M86.97,237.3 v-3.5 M105.81,237.3 v-2.2 M124.65,237.3 v-3.5 M143.48,237.3 v-2.2 M162.32,237.3 v-3.5 M181.15,237.3 v-2.2 M199.99,237.3 v-3.5 M218.83,237.3 v-2.2 M237.66,237.3 v-3.5 M256.5,237.3 v-2.2 M49.3,237.3 h3.5 M49.3,220.03 h2.2 M49.3,202.75 h3.5 M49.3,185.48 h2.2 M49.3,168.2 h3.5 M49.3,150.93 h2.2 M49.3,133.65 h3.5 M49.3,116.38 h2.2 M49.3,99.1 h3.5 M49.3,81.82 h2.2 M49.3,64.55 h3.5 M49.3,47.27 h2.2 M49.3,30 h3.5" stroke="#444" stroke-width="0.9" fill="none"/>
<text x="48.7" y="249.7" text-anchor="middle" font-size="10.1" fill="#222" stroke="#222">25</text>
<text x="86.37" y="249.7" text-anchor="middle" font-size="10.1" fill="#222" stroke="#222">35</text>
<text x="124.05" y="249.7" text-anchor="middle" font-size="10.1" fill="#222" stroke="#222">45</text>
<text x="161.72" y="249.7" text-anchor="middle" font-size="10.1" fill="#222" stroke="#222">55</text>
<text x="199.39" y="249.7" text-anchor="middle" font-size="10.1" fill="#222" stroke="#222">65</text>
<text x="237.06" y="249.7" text-anchor="middle" font-size="10.1" fill="#222" stroke="#222">75</text>
<text x="45.9" y="240.9" text-anchor="end" font-size="10.1" fill="#222" stroke="#222">0.0</text>
<text x="45.9" y="206.35" text-anchor="end" font-size="10.1" fill="#222" stroke="#222">0.5</text>
<text x="45.9" y="171.8" text-anchor="end" font-size="10.1" fill="#222" stroke="#222">1.0</text>
<text x="45.9" y="137.25" text-anchor="end" font-size="10.1" fill="#222" stroke="#222">1.5</text>
<text x="45.9" y="102.7" text-anchor="end" font-size="10.1" fill="#222" stroke="#222">2.0</text>
<text x="45.9" y="68.15" text-anchor="end" font-size="10.1" fill="#222" stroke="#222">2.5</text>
<text x="45.9" y="33.6" text-anchor="end" font-size="10.1" fill="#222" stroke="#222">3.0</text>
<text x="233.7" y="55.9" font-size="26.5" fill="#000" stroke="#000">A</text>
<path d="M55.9,40.5 H64.8" stroke="#000" stroke-width="1.5"/>
<text x="70.7" y="43.1" font-size="7.4" fill="#222" stroke="#222">FXN wild–type</text>
<path d="M55.9,50.7 H64.8" stroke="#1a1a1a" stroke-width="1.5"/>
<text x="70.7" y="53.3" font-size="7.4" fill="#222" stroke="#222">FXN wild–type</text>
<path d="M55.9,60.9 H64.8" stroke="#b0b0b0" stroke-width="1.5"/>
<text x="70.7" y="63.5" font-size="7.4" fill="#222" stroke="#222">FXN G130V</text>
<path d="M55.9,71.1 H64.8" stroke="#a0a0a0" stroke-width="1.5"/>
<text x="70.7" y="73.7" font-size="7.4" fill="#222" stroke="#222">FXN G130V</text>
<path d="M55.9,81.3 H64.8" stroke="#1c1cff" stroke-width="1.5"/>
<text x="70.7" y="83.9" font-size="7.4" fill="#222" stroke="#222">NB_4A7</text>
<path d="M55.9,91.5 H64.8" stroke="#1c1cff" stroke-width="1.5"/>
<text x="70.7" y="94.1" font-size="7.4" fill="#222" stroke="#222">NB_4A7</text>
<path d="M55.9,101.7 H64.8" stroke="#f29b26" stroke-width="1.5"/>
<text x="70.7" y="104.3" font-size="7.4" fill="#222" stroke="#222">NB_4A7:FXN G130V</text>
<path d="M55.9,111.9 H64.8" stroke="#f29b26" stroke-width="1.5"/>
<text x="70.7" y="114.5" font-size="7.4" fill="#222" stroke="#222">NB_4A7:FXN G130V</text>
<clipPath id="clipB"><rect x="288.3" y="32.3" width="207.3" height="206.9"/></clipPath>
<g clip-path="url(#clipB)">
<path d="M288.3,210.72 L289.05,210.8 L289.81,210.88 L290.56,210.97 L291.32,211.05 L292.07,211.13 L292.82,211.21 L293.58,211.29 L294.33,211.36 L295.08,211.44 L295.84,211.51 L296.59,211.58 L297.35,211.64 L298.1,211.71 L298.85,211.76 L299.61,211.82 L300.36,211.87 L301.11,211.92 L301.87,211.96 L302.62,212 L303.38,212.04 L304.13,212.07 L304.88,212.1 L305.64,212.12 L306.39,212.14 L307.15,212.16 L307.9,212.17 L308.65,212.18 L309.41,212.19 L310.16,212.19 L310.91,212.19 L311.67,212.18 L312.42,212.17 L313.18,212.16 L313.93,212.14 L314.68,212.12 L315.44,212.1 L316.19,212.07 L316.95,212.04 L317.7,212.01 L318.45,211.97 L319.21,211.93 L319.96,211.89 L320.71,211.84 L321.47,211.79 L322.22,211.73 L322.98,211.67 L323.73,211.61 L324.48,211.55 L325.24,211.48 L325.99,211.41 L326.74,211.33 L327.5,211.25 L328.25,211.16 L329.01,211.07 L329.76,210.96 L330.51,210.84 L331.27,210.71 L332.02,210.57 L332.78,210.41 L333.53,210.23 L334.28,210.04 L335.04,209.83 L335.79,209.6 L336.54,209.37 L337.3,209.13 L338.05,208.88 L338.81,208.63 L339.56,208.39 L340.31,208.14 L341.07,207.89 L341.82,207.64 L342.57,207.37 L343.33,207.09 L344.08,206.8 L344.84,206.48 L345.59,206.14 L346.34,205.77 L347.1,205.37 L347.85,204.93 L348.61,204.47 L349.36,203.97 L350.11,203.43 L350.87,202.86 L351.62,202.25 L352.37,201.61 L353.13,200.92 L353.88,200.2 L354.64,199.44 L355.39,198.64 L356.14,197.81 L356.9,196.94 L357.65,196.05 L358.41,195.13 L359.16,194.18 L359.91,193.21 L360.67,192.22 L361.42,191.2 L362.17,190.16 L362.93,189.09 L363.68,187.97 L364.44,186.82 L365.19,185.61 L365.94,184.35 L366.7,183.03 L367.45,181.66 L368.2,180.24 L368.96,178.79 L369.71,177.31 L370.47,175.81 L371.22,174.31 L371.97,172.78 L372.73,171.23 L373.48,169.63 L374.24,167.96 L374.99,166.22 L375.74,164.37 L376.5,162.42 L377.25,160.36 L378,158.23 L378.76,156.03 L379.51,153.78 L380.27,151.51 L381.02,149.21 L381.77,146.91 L382.53,144.6 L383.28,142.3 L384.03,140.01 L384.79,137.73 L385.54,135.46 L386.3,133.19 L387.05,130.91 L387.8,128.63 L388.56,126.33 L389.31,124.03 L390.07,121.7 L390.82,119.36 L391.57,117.01 L392.33,114.65 L393.08,112.3 L393.83,109.95 L394.59,107.62 L395.34,105.29 L396.1,102.99 L396.85,100.72 L397.6,98.48 L398.36,96.3 L399.11,94.19 L399.87,92.16 L400.62,90.23 L401.37,88.41 L402.13,86.72 L402.88,85.17 L403.63,83.77 L404.39,82.51 L405.14,81.39 L405.9,80.39 L406.65,79.5 L407.4,78.72 L408.16,78.04 L408.91,77.45 L409.66,76.94 L410.42,76.5 L411.17,76.14 L411.93,75.85 L412.68,75.64 L413.43,75.5 L414.19,75.45 L414.94,75.47 L415.7,75.58 L416.45,75.76 L417.2,76.01 L417.96,76.33 L418.71,76.71 L419.46,77.15 L420.22,77.64 L420.97,78.18 L421.73,78.78 L422.48,79.42 L423.23,80.1 L423.99,80.82 L424.74,81.59 L425.49,82.38 L426.25,83.22 L427,84.08 L427.76,84.97 L428.51,85.89 L429.26,86.83 L430.02,87.8 L430.77,88.79 L431.53,89.8 L432.28,90.82 L433.03,91.86 L433.79,92.92 L434.54,93.98 L435.29,95.06 L436.05,96.15 L436.8,97.24 L437.56,98.35 L438.31,99.46 L439.06,100.58 L439.82,101.72 L440.57,102.87 L441.33,104.02 L442.08,105.19 L442.83,106.37 L443.59,107.57 L444.34,108.77 L445.09,109.99 L445.85,111.21 L446.6,112.45 L447.36,113.69 L448.11,114.94 L448.86,116.19 L449.62,117.44 L450.37,118.7 L451.12,119.95 L451.88,121.2 L452.63,122.46 L453.39,123.71 L454.14,124.95 L454.89,126.2 L455.65,127.45 L456.4,128.7 L457.16,129.95 L457.91,131.2 L458.66,132.46 L459.42,133.71 L460.17,134.97 L460.92,136.23 L461.68,137.49 L462.43,138.75 L463.19,140.01 L463.94,141.27 L464.69,142.52 L465.45,143.77 L466.2,145.01 L466.95,146.25 L467.71,147.47 L468.46,148.69 L469.22,149.9 L469.97,151.1 L470.72,152.29 L471.48,153.47 L472.23,154.64 L472.99,155.79 L473.74,156.94 L474.49,158.07 L475.25,159.19 L476,160.3 L476.75,161.4 L477.51,162.48 L478.26,163.54 L479.02,164.59 L479.77,165.62 L480.52,166.62 L481.28,167.6 L482.03,168.55 L482.79,169.47 L483.54,170.36 L484.29,171.22 L485.05,172.04 L485.8,172.83 L486.55,173.58 L487.31,174.29 L488.06,174.98 L488.82,175.63 L489.57,176.26 L490.32,176.87 L491.08,177.45 L491.83,178.02 L492.58,178.58 L493.34,179.12 L494.09,179.66 L494.85,180.19 L495.6,180.72 L495.6,180.72" fill="none" stroke="#9a9a9a" stroke-width="1.55" stroke-linejoin="round" stroke-linecap="round"/>
<path d="M288.3,211.75 L289.05,211.83 L289.81,211.91 L290.56,211.99 L291.32,212.07 L292.07,212.14 L292.82,212.22 L293.58,212.29 L294.33,212.36 L295.08,212.43 L295.84,212.5 L296.59,212.56 L297.35,212.63 L298.1,212.68 L298.85,212.74 L299.61,212.79 L300.36,212.83 L301.11,212.87 L301.87,212.91 L302.62,212.94 L303.38,212.97 L304.13,213 L304.88,213.02 L305.64,213.04 L306.39,213.05 L307.15,213.07 L307.9,213.07 L308.65,213.08 L309.41,213.08 L310.16,213.08 L310.91,213.08 L311.67,213.07 L312.42,213.07 L313.18,213.06 L313.93,213.04 L314.68,213.03 L315.44,213.01 L316.19,212.99 L316.95,212.96 L317.7,212.93 L318.45,212.9 L319.21,212.86 L319.96,212.81 L320.71,212.76 L321.47,212.71 L322.22,212.64 L322.98,212.58 L323.73,212.5 L324.48,212.42 L325.24,212.33 L325.99,212.23 L326.74,212.13 L327.5,212.02 L328.25,211.9 L329.01,211.76 L329.76,211.63 L330.51,211.48 L331.27,211.32 L332.02,211.15 L332.78,210.97 L333.53,210.79 L334.28,210.59 L335.04,210.38 L335.79,210.17 L336.54,209.95 L337.3,209.73 L338.05,209.52 L338.81,209.3 L339.56,209.1 L340.31,208.89 L341.07,208.69 L341.82,208.48 L342.57,208.26 L343.33,208.03 L344.08,207.78 L344.84,207.52 L345.59,207.22 L346.34,206.89 L347.1,206.54 L347.85,206.15 L348.61,205.72 L349.36,205.26 L350.11,204.77 L350.87,204.24 L351.62,203.68 L352.37,203.08 L353.13,202.44 L353.88,201.77 L354.64,201.06 L355.39,200.32 L356.14,199.54 L356.9,198.74 L357.65,197.9 L358.41,197.02 L359.16,196.12 L359.91,195.19 L360.67,194.23 L361.42,193.25 L362.17,192.23 L362.93,191.17 L363.68,190.08 L364.44,188.95 L365.19,187.77 L365.94,186.55 L366.7,185.28 L367.45,183.96 L368.2,182.6 L368.96,181.21 L369.71,179.79 L370.47,178.34 L371.22,176.88 L371.97,175.39 L372.73,173.87 L373.48,172.29 L374.24,170.65 L374.99,168.94 L375.74,167.13 L376.5,165.22 L377.25,163.24 L378,161.2 L378.76,159.15 L379.51,157.11 L380.27,155.1 L381.02,153.13 L381.77,151.2 L382.53,149.3 L383.28,147.4 L384.03,145.51 L384.79,143.61 L385.54,141.68 L386.3,139.73 L387.05,137.76 L387.8,135.76 L388.56,133.73 L389.31,131.69 L390.07,129.62 L390.82,127.53 L391.57,125.43 L392.33,123.31 L393.08,121.17 L393.83,119.03 L394.59,116.88 L395.34,114.75 L396.1,112.63 L396.85,110.52 L397.6,108.45 L398.36,106.41 L399.11,104.41 L399.87,102.46 L400.62,100.57 L401.37,98.74 L402.13,96.99 L402.88,95.32 L403.63,93.74 L404.39,92.26 L405.14,90.88 L405.9,89.62 L406.65,88.47 L407.4,87.44 L408.16,86.51 L408.91,85.7 L409.66,84.98 L410.42,84.37 L411.17,83.85 L411.93,83.43 L412.68,83.1 L413.43,82.86 L414.19,82.71 L414.94,82.65 L415.7,82.67 L416.45,82.77 L417.2,82.95 L417.96,83.19 L418.71,83.5 L419.46,83.87 L420.22,84.3 L420.97,84.77 L421.73,85.3 L422.48,85.88 L423.23,86.5 L423.99,87.16 L424.74,87.86 L425.49,88.59 L426.25,89.36 L427,90.17 L427.76,91 L428.51,91.85 L429.26,92.73 L430.02,93.64 L430.77,94.57 L431.53,95.52 L432.28,96.5 L433.03,97.49 L433.79,98.5 L434.54,99.53 L435.29,100.58 L436.05,101.64 L436.8,102.71 L437.56,103.8 L438.31,104.9 L439.06,106.02 L439.82,107.14 L440.57,108.28 L441.33,109.43 L442.08,110.59 L442.83,111.76 L443.59,112.94 L444.34,114.13 L445.09,115.32 L445.85,116.52 L446.6,117.71 L447.36,118.89 L448.11,120.06 L448.86,121.21 L449.62,122.34 L450.37,123.45 L451.12,124.53 L451.88,125.58 L452.63,126.6 L453.39,127.59 L454.14,128.57 L454.89,129.53 L455.65,130.49 L456.4,131.46 L457.16,132.43 L457.91,133.42 L458.66,134.44 L459.42,135.48 L460.17,136.56 L460.92,137.68 L461.68,138.83 L462.43,140 L463.19,141.19 L463.94,142.4 L464.69,143.62 L465.45,144.85 L466.2,146.07 L466.95,147.3 L467.71,148.51 L468.46,149.71 L469.22,150.9 L469.97,152.07 L470.72,153.23 L471.48,154.38 L472.23,155.51 L472.99,156.63 L473.74,157.74 L474.49,158.84 L475.25,159.93 L476,161 L476.75,162.06 L477.51,163.11 L478.26,164.15 L479.02,165.17 L479.77,166.17 L480.52,167.14 L481.28,168.1 L482.03,169.03 L482.79,169.93 L483.54,170.81 L484.29,171.65 L485.05,172.46 L485.8,173.24 L486.55,173.98 L487.31,174.69 L488.06,175.37 L488.82,176.02 L489.57,176.65 L490.32,177.25 L491.08,177.84 L491.83,178.42 L492.58,178.97 L493.34,179.52 L494.09,180.06 L494.85,180.6 L495.6,181.13 L495.6,181.13" fill="none" stroke="#929292" stroke-width="1.55" stroke-linejoin="round" stroke-linecap="round"/>
<path d="M288.3,218.17 L289.05,218.24 L289.81,218.31 L290.56,218.38 L291.32,218.45 L292.07,218.52 L292.82,218.59 L293.58,218.66 L294.33,218.73 L295.08,218.8 L295.84,218.86 L296.59,218.93 L297.35,219 L298.1,219.07 L298.85,219.13 L299.61,219.2 L300.36,219.26 L301.11,219.33 L301.87,219.39 L302.62,219.45 L303.38,219.52 L304.13,219.58 L304.88,219.64 L305.64,219.7 L306.39,219.76 L307.15,219.81 L307.9,219.87 L308.65,219.93 L309.41,219.98 L310.16,220.03 L310.91,220.09 L311.67,220.14 L312.42,220.19 L313.18,220.24 L313.93,220.29 L314.68,220.34 L315.44,220.39 L316.19,220.43 L316.95,220.48 L317.7,220.52 L318.45,220.57 L319.21,220.61 L319.96,220.66 L320.71,220.7 L321.47,220.74 L322.22,220.78 L322.98,220.83 L323.73,220.87 L324.48,220.91 L325.24,220.95 L325.99,220.99 L326.74,221.03 L327.5,221.08 L328.25,221.12 L329.01,221.16 L329.76,221.2 L330.51,221.23 L331.27,221.27 L332.02,221.3 L332.78,221.33 L333.53,221.36 L334.28,221.39 L335.04,221.41 L335.79,221.43 L336.54,221.45 L337.3,221.46 L338.05,221.47 L338.81,221.48 L339.56,221.48 L340.31,221.47 L341.07,221.46 L341.82,221.45 L342.57,221.43 L343.33,221.41 L344.08,221.38 L344.84,221.35 L345.59,221.32 L346.34,221.28 L347.1,221.23 L347.85,221.18 L348.61,221.13 L349.36,221.07 L350.11,221.01 L350.87,220.95 L351.62,220.88 L352.37,220.8 L353.13,220.72 L353.88,220.64 L354.64,220.55 L355.39,220.47 L356.14,220.37 L356.9,220.28 L357.65,220.17 L358.41,220.07 L359.16,219.96 L359.91,219.85 L360.67,219.73 L361.42,219.61 L362.17,219.48 L362.93,219.34 L363.68,219.2 L364.44,219.05 L365.19,218.9 L365.94,218.74 L366.7,218.58 L367.45,218.41 L368.2,218.23 L368.96,218.05 L369.71,217.87 L370.47,217.68 L371.22,217.49 L371.97,217.29 L372.73,217.09 L373.48,216.89 L374.24,216.69 L374.99,216.48 L375.74,216.27 L376.5,216.06 L377.25,215.85 L378,215.64 L378.76,215.43 L379.51,215.21 L380.27,215 L381.02,214.79 L381.77,214.58 L382.53,214.37 L383.28,214.17 L384.03,213.96 L384.79,213.76 L385.54,213.56 L386.3,213.36 L387.05,213.17 L387.8,212.98 L388.56,212.79 L389.31,212.61 L390.07,212.43 L390.82,212.25 L391.57,212.08 L392.33,211.91 L393.08,211.75 L393.83,211.58 L394.59,211.42 L395.34,211.27 L396.1,211.11 L396.85,210.95 L397.6,210.79 L398.36,210.64 L399.11,210.48 L399.87,210.32 L400.62,210.15 L401.37,209.99 L402.13,209.82 L402.88,209.65 L403.63,209.49 L404.39,209.34 L405.14,209.19 L405.9,209.05 L406.65,208.92 L407.4,208.8 L408.16,208.69 L408.91,208.57 L409.66,208.45 L410.42,208.3 L411.17,208.13 L411.93,207.91 L412.68,207.66 L413.43,207.36 L414.19,207.02 L414.94,206.66 L415.7,206.26 L416.45,205.84 L417.2,205.41 L417.96,204.95 L418.71,204.47 L419.46,203.98 L420.22,203.45 L420.97,202.9 L421.73,202.32 L422.48,201.71 L423.23,201.06 L423.99,200.38 L424.74,199.65 L425.49,198.9 L426.25,198.11 L427,197.29 L427.76,196.44 L428.51,195.57 L429.26,194.66 L430.02,193.7 L430.77,192.69 L431.53,191.61 L432.28,190.47 L433.03,189.26 L433.79,188 L434.54,186.71 L435.29,185.41 L436.05,184.09 L436.8,182.75 L437.56,181.38 L438.31,179.97 L439.06,178.51 L439.82,176.99 L440.57,175.42 L441.33,173.84 L442.08,172.26 L442.83,170.71 L443.59,169.2 L444.34,167.76 L445.09,166.37 L445.85,165.04 L446.6,163.74 L447.36,162.46 L448.11,161.21 L448.86,159.95 L449.62,158.71 L450.37,157.51 L451.12,156.37 L451.88,155.34 L452.63,154.43 L453.39,153.67 L454.14,153.07 L454.89,152.6 L455.65,152.24 L456.4,151.96 L457.16,151.75 L457.91,151.58 L458.66,151.45 L459.42,151.36 L460.17,151.34 L460.92,151.37 L461.68,151.46 L462.43,151.63 L463.19,151.86 L463.94,152.17 L464.69,152.55 L465.45,153.01 L466.2,153.55 L466.95,154.16 L467.71,154.86 L468.46,155.63 L469.22,156.46 L469.97,157.34 L470.72,158.26 L471.48,159.2 L472.23,160.16 L472.99,161.13 L473.74,162.1 L474.49,163.08 L475.25,164.06 L476,165.03 L476.75,165.99 L477.51,166.94 L478.26,167.88 L479.02,168.81 L479.77,169.72 L480.52,170.63 L481.28,171.53 L482.03,172.42 L482.79,173.3 L483.54,174.17 L484.29,175.03 L485.05,175.88 L485.8,176.72 L486.55,177.56 L487.31,178.38 L488.06,179.2 L488.82,180.01 L489.57,180.82 L490.32,181.62 L491.08,182.41 L491.83,183.21 L492.58,183.99 L493.34,184.78 L494.09,185.57 L494.85,186.35 L495.6,187.13 L495.6,187.13" fill="none" stroke="#000000" stroke-width="1.45" stroke-linejoin="round" stroke-linecap="round"/>
<path d="M288.3,218.51 L289.05,218.59 L289.81,218.66 L290.56,218.74 L291.32,218.82 L292.07,218.89 L292.82,218.97 L293.58,219.04 L294.33,219.12 L295.08,219.19 L295.84,219.26 L296.59,219.33 L297.35,219.41 L298.1,219.48 L298.85,219.55 L299.61,219.61 L300.36,219.68 L301.11,219.75 L301.87,219.81 L302.62,219.88 L303.38,219.94 L304.13,220 L304.88,220.06 L305.64,220.12 L306.39,220.18 L307.15,220.23 L307.9,220.29 L308.65,220.34 L309.41,220.4 L310.16,220.45 L310.91,220.5 L311.67,220.55 L312.42,220.6 L313.18,220.65 L313.93,220.7 L314.68,220.75 L315.44,220.79 L316.19,220.84 L316.95,220.88 L317.7,220.93 L318.45,220.97 L319.21,221.02 L319.96,221.06 L320.71,221.1 L321.47,221.15 L322.22,221.19 L322.98,221.23 L323.73,221.28 L324.48,221.32 L325.24,221.36 L325.99,221.41 L326.74,221.45 L327.5,221.49 L328.25,221.54 L329.01,221.58 L329.76,221.62 L330.51,221.67 L331.27,221.71 L332.02,221.74 L332.78,221.78 L333.53,221.81 L334.28,221.85 L335.04,221.87 L335.79,221.9 L336.54,221.92 L337.3,221.94 L338.05,221.95 L338.81,221.96 L339.56,221.97 L340.31,221.97 L341.07,221.96 L341.82,221.95 L342.57,221.94 L343.33,221.92 L344.08,221.9 L344.84,221.88 L345.59,221.85 L346.34,221.81 L347.1,221.77 L347.85,221.73 L348.61,221.68 L349.36,221.63 L350.11,221.58 L350.87,221.52 L351.62,221.45 L352.37,221.39 L353.13,221.31 L353.88,221.24 L354.64,221.16 L355.39,221.08 L356.14,220.99 L356.9,220.9 L357.65,220.81 L358.41,220.71 L359.16,220.62 L359.91,220.51 L360.67,220.41 L361.42,220.3 L362.17,220.19 L362.93,220.07 L363.68,219.96 L364.44,219.84 L365.19,219.72 L365.94,219.6 L366.7,219.47 L367.45,219.34 L368.2,219.21 L368.96,219.08 L369.71,218.94 L370.47,218.8 L371.22,218.66 L371.97,218.52 L372.73,218.38 L373.48,218.23 L374.24,218.08 L374.99,217.93 L375.74,217.78 L376.5,217.62 L377.25,217.47 L378,217.32 L378.76,217.16 L379.51,217.01 L380.27,216.87 L381.02,216.72 L381.77,216.58 L382.53,216.44 L383.28,216.31 L384.03,216.18 L384.79,216.05 L385.54,215.93 L386.3,215.8 L387.05,215.69 L387.8,215.57 L388.56,215.46 L389.31,215.34 L390.07,215.23 L390.82,215.12 L391.57,215.01 L392.33,214.89 L393.08,214.78 L393.83,214.67 L394.59,214.56 L395.34,214.44 L396.1,214.33 L396.85,214.22 L397.6,214.1 L398.36,213.98 L399.11,213.86 L399.87,213.74 L400.62,213.62 L401.37,213.5 L402.13,213.37 L402.88,213.24 L403.63,213.11 L404.39,212.97 L405.14,212.82 L405.9,212.68 L406.65,212.52 L407.4,212.36 L408.16,212.19 L408.91,212.01 L409.66,211.82 L410.42,211.61 L411.17,211.39 L411.93,211.14 L412.68,210.88 L413.43,210.59 L414.19,210.29 L414.94,209.96 L415.7,209.61 L416.45,209.24 L417.2,208.85 L417.96,208.45 L418.71,208.01 L419.46,207.55 L420.22,207.06 L420.97,206.54 L421.73,205.97 L422.48,205.37 L423.23,204.72 L423.99,204.02 L424.74,203.28 L425.49,202.49 L426.25,201.66 L427,200.79 L427.76,199.89 L428.51,198.95 L429.26,197.97 L430.02,196.94 L430.77,195.86 L431.53,194.72 L432.28,193.51 L433.03,192.24 L433.79,190.91 L434.54,189.55 L435.29,188.16 L436.05,186.75 L436.8,185.32 L437.56,183.87 L438.31,182.41 L439.06,180.92 L439.82,179.43 L440.57,177.92 L441.33,176.42 L442.08,174.92 L442.83,173.43 L443.59,171.96 L444.34,170.51 L445.09,169.1 L445.85,167.74 L446.6,166.44 L447.36,165.21 L448.11,164.05 L448.86,162.97 L449.62,161.97 L450.37,161.05 L451.12,160.23 L451.88,159.51 L452.63,158.87 L453.39,158.32 L454.14,157.86 L454.89,157.47 L455.65,157.17 L456.4,156.94 L457.16,156.79 L457.91,156.7 L458.66,156.69 L459.42,156.76 L460.17,156.88 L460.92,157.08 L461.68,157.33 L462.43,157.64 L463.19,158.01 L463.94,158.43 L464.69,158.9 L465.45,159.42 L466.2,160.01 L466.95,160.65 L467.71,161.34 L468.46,162.09 L469.22,162.88 L469.97,163.7 L470.72,164.55 L471.48,165.41 L472.23,166.27 L472.99,167.15 L473.74,168.02 L474.49,168.9 L475.25,169.77 L476,170.64 L476.75,171.5 L477.51,172.35 L478.26,173.2 L479.02,174.04 L479.77,174.88 L480.52,175.71 L481.28,176.53 L482.03,177.35 L482.79,178.17 L483.54,178.98 L484.29,179.79 L485.05,180.59 L485.8,181.39 L486.55,182.19 L487.31,182.98 L488.06,183.78 L488.82,184.57 L489.57,185.35 L490.32,186.14 L491.08,186.93 L491.83,187.71 L492.58,188.49 L493.34,189.27 L494.09,190.05 L494.85,190.83 L495.6,191.61 L495.6,191.61" fill="none" stroke="#111111" stroke-width="1.45" stroke-linejoin="round" stroke-linecap="round"/>
<path d="M288.3,221.96 L289.05,222.05 L289.81,222.15 L290.56,222.25 L291.32,222.34 L292.07,222.44 L292.82,222.53 L293.58,222.63 L294.33,222.72 L295.08,222.81 L295.84,222.9 L296.59,222.99 L297.35,223.08 L298.1,223.17 L298.85,223.26 L299.61,223.34 L300.36,223.43 L301.11,223.51 L301.87,223.59 L302.62,223.67 L303.38,223.75 L304.13,223.82 L304.88,223.89 L305.64,223.96 L306.39,224.03 L307.15,224.1 L307.9,224.16 L308.65,224.22 L309.41,224.28 L310.16,224.33 L310.91,224.39 L311.67,224.44 L312.42,224.49 L313.18,224.54 L313.93,224.58 L314.68,224.63 L315.44,224.67 L316.19,224.71 L316.95,224.75 L317.7,224.79 L318.45,224.82 L319.21,224.86 L319.96,224.89 L320.71,224.92 L321.47,224.96 L322.22,224.99 L322.98,225.02 L323.73,225.05 L324.48,225.08 L325.24,225.1 L325.99,225.13 L326.74,225.16 L327.5,225.18 L328.25,225.21 L329.01,225.24 L329.76,225.26 L330.51,225.29 L331.27,225.31 L332.02,225.34 L332.78,225.36 L333.53,225.38 L334.28,225.4 L335.04,225.43 L335.79,225.45 L336.54,225.47 L337.3,225.49 L338.05,225.51 L338.81,225.53 L339.56,225.55 L340.31,225.57 L341.07,225.59 L341.82,225.6 L342.57,225.62 L343.33,225.64 L344.08,225.65 L344.84,225.67 L345.59,225.68 L346.34,225.7 L347.1,225.71 L347.85,225.72 L348.61,225.73 L349.36,225.75 L350.11,225.76 L350.87,225.77 L351.62,225.78 L352.37,225.79 L353.13,225.79 L353.88,225.8 L354.64,225.81 L355.39,225.81 L356.14,225.82 L356.9,225.83 L357.65,225.83 L358.41,225.83 L359.16,225.84 L359.91,225.84 L360.67,225.84 L361.42,225.84 L362.17,225.84 L362.93,225.84 L363.68,225.83 L364.44,225.83 L365.19,225.82 L365.94,225.82 L366.7,225.81 L367.45,225.8 L368.2,225.79 L368.96,225.78 L369.71,225.76 L370.47,225.75 L371.22,225.73 L371.97,225.71 L372.73,225.69 L373.48,225.67 L374.24,225.65 L374.99,225.62 L375.74,225.6 L376.5,225.57 L377.25,225.54 L378,225.51 L378.76,225.47 L379.51,225.44 L380.27,225.4 L381.02,225.36 L381.77,225.31 L382.53,225.27 L383.28,225.22 L384.03,225.17 L384.79,225.12 L385.54,225.07 L386.3,225.01 L387.05,224.95 L387.8,224.89 L388.56,224.83 L389.31,224.77 L390.07,224.7 L390.82,224.63 L391.57,224.56 L392.33,224.49 L393.08,224.41 L393.83,224.34 L394.59,224.26 L395.34,224.18 L396.1,224.1 L396.85,224.01 L397.6,223.93 L398.36,223.84 L399.11,223.75 L399.87,223.66 L400.62,223.57 L401.37,223.47 L402.13,223.38 L402.88,223.28 L403.63,223.19 L404.39,223.09 L405.14,223 L405.9,222.9 L406.65,222.81 L407.4,222.72 L408.16,222.63 L408.91,222.54 L409.66,222.46 L410.42,222.37 L411.17,222.29 L411.93,222.21 L412.68,222.12 L413.43,222.04 L414.19,221.96 L414.94,221.88 L415.7,221.81 L416.45,221.73 L417.2,221.65 L417.96,221.57 L418.71,221.49 L419.46,221.42 L420.22,221.34 L420.97,221.26 L421.73,221.18 L422.48,221.1 L423.23,221.03 L423.99,220.95 L424.74,220.87 L425.49,220.8 L426.25,220.72 L427,220.65 L427.76,220.58 L428.51,220.52 L429.26,220.45 L430.02,220.39 L430.77,220.33 L431.53,220.27 L432.28,220.21 L433.03,220.16 L433.79,220.12 L434.54,220.07 L435.29,220.04 L436.05,220 L436.8,219.97 L437.56,219.95 L438.31,219.93 L439.06,219.91 L439.82,219.9 L440.57,219.89 L441.33,219.89 L442.08,219.89 L442.83,219.9 L443.59,219.91 L444.34,219.92 L445.09,219.93 L445.85,219.95 L446.6,219.97 L447.36,219.99 L448.11,220.02 L448.86,220.04 L449.62,220.07 L450.37,220.1 L451.12,220.13 L451.88,220.16 L452.63,220.2 L453.39,220.23 L454.14,220.27 L454.89,220.3 L455.65,220.34 L456.4,220.37 L457.16,220.41 L457.91,220.44 L458.66,220.47 L459.42,220.51 L460.17,220.54 L460.92,220.57 L461.68,220.6 L462.43,220.63 L463.19,220.66 L463.94,220.69 L464.69,220.72 L465.45,220.75 L466.2,220.78 L466.95,220.81 L467.71,220.83 L468.46,220.86 L469.22,220.89 L469.97,220.91 L470.72,220.94 L471.48,220.96 L472.23,220.99 L472.99,221.01 L473.74,221.04 L474.49,221.06 L475.25,221.08 L476,221.11 L476.75,221.13 L477.51,221.15 L478.26,221.18 L479.02,221.2 L479.77,221.22 L480.52,221.25 L481.28,221.27 L482.03,221.29 L482.79,221.31 L483.54,221.34 L484.29,221.36 L485.05,221.38 L485.8,221.4 L486.55,221.42 L487.31,221.45 L488.06,221.47 L488.82,221.49 L489.57,221.51 L490.32,221.53 L491.08,221.55 L491.83,221.58 L492.58,221.6 L493.34,221.62 L494.09,221.64 L494.85,221.66 L495.6,221.68 L495.6,221.68" fill="none" stroke="#1c1cff" stroke-width="1.45" stroke-linejoin="round" stroke-linecap="round"/>
<path d="M288.3,223.2 L289.05,223.29 L289.81,223.38 L290.56,223.47 L291.32,223.56 L292.07,223.65 L292.82,223.74 L293.58,223.82 L294.33,223.91 L295.08,224 L295.84,224.08 L296.59,224.17 L297.35,224.25 L298.1,224.33 L298.85,224.41 L299.61,224.49 L300.36,224.57 L301.11,224.65 L301.87,224.73 L302.62,224.8 L303.38,224.87 L304.13,224.94 L304.88,225.01 L305.64,225.07 L306.39,225.14 L307.15,225.2 L307.9,225.26 L308.65,225.32 L309.41,225.37 L310.16,225.42 L310.91,225.47 L311.67,225.52 L312.42,225.57 L313.18,225.61 L313.93,225.66 L314.68,225.7 L315.44,225.74 L316.19,225.78 L316.95,225.81 L317.7,225.85 L318.45,225.88 L319.21,225.91 L319.96,225.95 L320.71,225.98 L321.47,226.01 L322.22,226.03 L322.98,226.06 L323.73,226.09 L324.48,226.11 L325.24,226.14 L325.99,226.17 L326.74,226.19 L327.5,226.21 L328.25,226.24 L329.01,226.26 L329.76,226.28 L330.51,226.31 L331.27,226.33 L332.02,226.35 L332.78,226.37 L333.53,226.39 L334.28,226.41 L335.04,226.43 L335.79,226.45 L336.54,226.47 L337.3,226.48 L338.05,226.5 L338.81,226.52 L339.56,226.53 L340.31,226.55 L341.07,226.57 L341.82,226.58 L342.57,226.6 L343.33,226.61 L344.08,226.62 L344.84,226.64 L345.59,226.65 L346.34,226.66 L347.1,226.67 L347.85,226.69 L348.61,226.7 L349.36,226.71 L350.11,226.72 L350.87,226.73 L351.62,226.74 L352.37,226.75 L353.13,226.76 L353.88,226.76 L354.64,226.77 L355.39,226.78 L356.14,226.79 L356.9,226.79 L357.65,226.8 L358.41,226.8 L359.16,226.81 L359.91,226.81 L360.67,226.82 L361.42,226.82 L362.17,226.82 L362.93,226.82 L363.68,226.82 L364.44,226.82 L365.19,226.82 L365.94,226.82 L366.7,226.81 L367.45,226.81 L368.2,226.8 L368.96,226.8 L369.71,226.79 L370.47,226.78 L371.22,226.76 L371.97,226.75 L372.73,226.74 L373.48,226.72 L374.24,226.7 L374.99,226.68 L375.74,226.66 L376.5,226.63 L377.25,226.61 L378,226.58 L378.76,226.55 L379.51,226.52 L380.27,226.49 L381.02,226.45 L381.77,226.41 L382.53,226.37 L383.28,226.33 L384.03,226.28 L384.79,226.24 L385.54,226.19 L386.3,226.13 L387.05,226.08 L387.8,226.02 L388.56,225.96 L389.31,225.9 L390.07,225.84 L390.82,225.77 L391.57,225.7 L392.33,225.63 L393.08,225.55 L393.83,225.48 L394.59,225.4 L395.34,225.31 L396.1,225.23 L396.85,225.14 L397.6,225.05 L398.36,224.96 L399.11,224.86 L399.87,224.77 L400.62,224.67 L401.37,224.56 L402.13,224.46 L402.88,224.35 L403.63,224.25 L404.39,224.14 L405.14,224.04 L405.9,223.94 L406.65,223.84 L407.4,223.74 L408.16,223.65 L408.91,223.56 L409.66,223.47 L410.42,223.39 L411.17,223.3 L411.93,223.22 L412.68,223.14 L413.43,223.06 L414.19,222.98 L414.94,222.9 L415.7,222.83 L416.45,222.75 L417.2,222.67 L417.96,222.6 L418.71,222.52 L419.46,222.45 L420.22,222.37 L420.97,222.3 L421.73,222.22 L422.48,222.14 L423.23,222.07 L423.99,221.99 L424.74,221.92 L425.49,221.84 L426.25,221.77 L427,221.7 L427.76,221.63 L428.51,221.56 L429.26,221.49 L430.02,221.43 L430.77,221.37 L431.53,221.31 L432.28,221.26 L433.03,221.2 L433.79,221.16 L434.54,221.11 L435.29,221.07 L436.05,221.04 L436.8,221.01 L437.56,220.98 L438.31,220.96 L439.06,220.94 L439.82,220.93 L440.57,220.92 L441.33,220.92 L442.08,220.92 L442.83,220.92 L443.59,220.93 L444.34,220.94 L445.09,220.95 L445.85,220.97 L446.6,220.98 L447.36,221 L448.11,221.03 L448.86,221.05 L449.62,221.08 L450.37,221.1 L451.12,221.13 L451.88,221.16 L452.63,221.19 L453.39,221.22 L454.14,221.25 L454.89,221.29 L455.65,221.32 L456.4,221.35 L457.16,221.38 L457.91,221.41 L458.66,221.44 L459.42,221.46 L460.17,221.49 L460.92,221.52 L461.68,221.54 L462.43,221.57 L463.19,221.59 L463.94,221.61 L464.69,221.64 L465.45,221.66 L466.2,221.68 L466.95,221.7 L467.71,221.72 L468.46,221.74 L469.22,221.76 L469.97,221.78 L470.72,221.8 L471.48,221.82 L472.23,221.84 L472.99,221.86 L473.74,221.88 L474.49,221.9 L475.25,221.92 L476,221.94 L476.75,221.96 L477.51,221.98 L478.26,222 L479.02,222.02 L479.77,222.04 L480.52,222.06 L481.28,222.08 L482.03,222.1 L482.79,222.13 L483.54,222.15 L484.29,222.17 L485.05,222.19 L485.8,222.21 L486.55,222.24 L487.31,222.26 L488.06,222.28 L488.82,222.3 L489.57,222.33 L490.32,222.35 L491.08,222.37 L491.83,222.39 L492.58,222.42 L493.34,222.44 L494.09,222.46 L494.85,222.49 L495.6,222.51 L495.6,222.51" fill="none" stroke="#1c1cff" stroke-width="1.45" stroke-linejoin="round" stroke-linecap="round"/>
<path d="M288.3,217.34 L289.05,217.45 L289.81,217.57 L290.56,217.68 L291.32,217.8 L292.07,217.91 L292.82,218.02 L293.58,218.14 L294.33,218.25 L295.08,218.36 L295.84,218.47 L296.59,218.58 L297.35,218.68 L298.1,218.79 L298.85,218.89 L299.61,218.99 L300.36,219.09 L301.11,219.19 L301.87,219.29 L302.62,219.38 L303.38,219.47 L304.13,219.56 L304.88,219.65 L305.64,219.73 L306.39,219.81 L307.15,219.89 L307.9,219.96 L308.65,220.04 L309.41,220.1 L310.16,220.17 L310.91,220.23 L311.67,220.29 L312.42,220.35 L313.18,220.41 L313.93,220.46 L314.68,220.52 L315.44,220.57 L316.19,220.61 L316.95,220.66 L317.7,220.71 L318.45,220.75 L319.21,220.79 L319.96,220.83 L320.71,220.87 L321.47,220.91 L322.22,220.95 L322.98,220.99 L323.73,221.02 L324.48,221.06 L325.24,221.1 L325.99,221.13 L326.74,221.17 L327.5,221.2 L328.25,221.24 L329.01,221.27 L329.76,221.31 L330.51,221.34 L331.27,221.37 L332.02,221.41 L332.78,221.44 L333.53,221.48 L334.28,221.51 L335.04,221.54 L335.79,221.57 L336.54,221.6 L337.3,221.64 L338.05,221.67 L338.81,221.7 L339.56,221.73 L340.31,221.76 L341.07,221.79 L341.82,221.81 L342.57,221.84 L343.33,221.87 L344.08,221.9 L344.84,221.92 L345.59,221.95 L346.34,221.97 L347.1,222 L347.85,222.02 L348.61,222.05 L349.36,222.07 L350.11,222.09 L350.87,222.11 L351.62,222.13 L352.37,222.15 L353.13,222.17 L353.88,222.19 L354.64,222.2 L355.39,222.22 L356.14,222.23 L356.9,222.25 L357.65,222.26 L358.41,222.27 L359.16,222.29 L359.91,222.3 L360.67,222.31 L361.42,222.32 L362.17,222.32 L362.93,222.33 L363.68,222.34 L364.44,222.35 L365.19,222.35 L365.94,222.36 L366.7,222.36 L367.45,222.36 L368.2,222.37 L368.96,222.37 L369.71,222.37 L370.47,222.37 L371.22,222.37 L371.97,222.37 L372.73,222.37 L373.48,222.37 L374.24,222.36 L374.99,222.36 L375.74,222.36 L376.5,222.35 L377.25,222.35 L378,222.34 L378.76,222.34 L379.51,222.33 L380.27,222.33 L381.02,222.32 L381.77,222.31 L382.53,222.3 L383.28,222.29 L384.03,222.29 L384.79,222.28 L385.54,222.27 L386.3,222.26 L387.05,222.25 L387.8,222.24 L388.56,222.22 L389.31,222.21 L390.07,222.2 L390.82,222.19 L391.57,222.17 L392.33,222.16 L393.08,222.14 L393.83,222.13 L394.59,222.11 L395.34,222.09 L396.1,222.07 L396.85,222.05 L397.6,222.03 L398.36,222.01 L399.11,221.99 L399.87,221.97 L400.62,221.95 L401.37,221.92 L402.13,221.9 L402.88,221.87 L403.63,221.84 L404.39,221.82 L405.14,221.79 L405.9,221.75 L406.65,221.72 L407.4,221.69 L408.16,221.65 L408.91,221.62 L409.66,221.58 L410.42,221.54 L411.17,221.5 L411.93,221.45 L412.68,221.41 L413.43,221.36 L414.19,221.31 L414.94,221.26 L415.7,221.2 L416.45,221.14 L417.2,221.08 L417.96,221.02 L418.71,220.95 L419.46,220.87 L420.22,220.8 L420.97,220.71 L421.73,220.63 L422.48,220.53 L423.23,220.42 L423.99,220.29 L424.74,220.11 L425.49,219.88 L426.25,219.58 L427,219.2 L427.76,218.72 L428.51,218.16 L429.26,217.52 L430.02,216.82 L430.77,216.06 L431.53,215.27 L432.28,214.44 L433.03,213.6 L433.79,212.74 L434.54,211.87 L435.29,211.01 L436.05,210.15 L436.8,209.29 L437.56,208.4 L438.31,207.44 L439.06,206.39 L439.82,205.22 L440.57,203.9 L441.33,202.46 L442.08,200.88 L442.83,199.18 L443.59,197.36 L444.34,195.42 L445.09,193.37 L445.85,191.21 L446.6,188.94 L447.36,186.56 L448.11,184.08 L448.86,181.49 L449.62,178.79 L450.37,175.99 L451.12,173.16 L451.88,170.38 L452.63,167.72 L453.39,165.27 L454.14,163.07 L454.89,161.13 L455.65,159.39 L456.4,157.83 L457.16,156.42 L457.91,155.11 L458.66,153.91 L459.42,152.85 L460.17,151.96 L460.92,151.26 L461.68,150.76 L462.43,150.46 L463.19,150.36 L463.94,150.46 L464.69,150.71 L465.45,151.11 L466.2,151.61 L466.95,152.21 L467.71,152.87 L468.46,153.6 L469.22,154.37 L469.97,155.18 L470.72,156.02 L471.48,156.86 L472.23,157.71 L472.99,158.56 L473.74,159.4 L474.49,160.24 L475.25,161.06 L476,161.87 L476.75,162.67 L477.51,163.44 L478.26,164.21 L479.02,164.96 L479.77,165.7 L480.52,166.42 L481.28,167.14 L482.03,167.85 L482.79,168.55 L483.54,169.24 L484.29,169.92 L485.05,170.6 L485.8,171.28 L486.55,171.95 L487.31,172.61 L488.06,173.28 L488.82,173.94 L489.57,174.6 L490.32,175.26 L491.08,175.91 L491.83,176.57 L492.58,177.22 L493.34,177.87 L494.09,178.52 L494.85,179.17 L495.6,179.82 L495.6,179.82" fill="none" stroke="#5ff0f2" stroke-width="1.45" stroke-linejoin="round" stroke-linecap="round"/>
<path d="M288.3,218.17 L289.05,218.27 L289.81,218.37 L290.56,218.47 L291.32,218.57 L292.07,218.68 L292.82,218.78 L293.58,218.88 L294.33,218.98 L295.08,219.08 L295.84,219.17 L296.59,219.27 L297.35,219.36 L298.1,219.46 L298.85,219.55 L299.61,219.64 L300.36,219.73 L301.11,219.82 L301.87,219.9 L302.62,219.99 L303.38,220.07 L304.13,220.15 L304.88,220.23 L305.64,220.3 L306.39,220.37 L307.15,220.44 L307.9,220.51 L308.65,220.57 L309.41,220.63 L310.16,220.69 L310.91,220.75 L311.67,220.8 L312.42,220.85 L313.18,220.9 L313.93,220.95 L314.68,221 L315.44,221.04 L316.19,221.09 L316.95,221.13 L317.7,221.17 L318.45,221.21 L319.21,221.24 L319.96,221.28 L320.71,221.32 L321.47,221.35 L322.22,221.38 L322.98,221.42 L323.73,221.45 L324.48,221.48 L325.24,221.51 L325.99,221.54 L326.74,221.58 L327.5,221.61 L328.25,221.64 L329.01,221.67 L329.76,221.7 L330.51,221.73 L331.27,221.76 L332.02,221.79 L332.78,221.82 L333.53,221.85 L334.28,221.88 L335.04,221.9 L335.79,221.93 L336.54,221.96 L337.3,221.99 L338.05,222.02 L338.81,222.04 L339.56,222.07 L340.31,222.09 L341.07,222.12 L341.82,222.14 L342.57,222.17 L343.33,222.19 L344.08,222.22 L344.84,222.24 L345.59,222.26 L346.34,222.28 L347.1,222.3 L347.85,222.33 L348.61,222.35 L349.36,222.37 L350.11,222.38 L350.87,222.4 L351.62,222.42 L352.37,222.44 L353.13,222.45 L353.88,222.47 L354.64,222.48 L355.39,222.5 L356.14,222.51 L356.9,222.52 L357.65,222.53 L358.41,222.55 L359.16,222.56 L359.91,222.56 L360.67,222.57 L361.42,222.58 L362.17,222.59 L362.93,222.6 L363.68,222.6 L364.44,222.61 L365.19,222.61 L365.94,222.62 L366.7,222.62 L367.45,222.62 L368.2,222.63 L368.96,222.63 L369.71,222.63 L370.47,222.63 L371.22,222.63 L371.97,222.63 L372.73,222.63 L373.48,222.63 L374.24,222.63 L374.99,222.62 L375.74,222.62 L376.5,222.62 L377.25,222.61 L378,222.61 L378.76,222.61 L379.51,222.6 L380.27,222.6 L381.02,222.59 L381.77,222.59 L382.53,222.58 L383.28,222.57 L384.03,222.57 L384.79,222.56 L385.54,222.55 L386.3,222.54 L387.05,222.53 L387.8,222.52 L388.56,222.51 L389.31,222.5 L390.07,222.49 L390.82,222.48 L391.57,222.47 L392.33,222.45 L393.08,222.44 L393.83,222.42 L394.59,222.4 L395.34,222.38 L396.1,222.36 L396.85,222.34 L397.6,222.32 L398.36,222.3 L399.11,222.27 L399.87,222.25 L400.62,222.22 L401.37,222.19 L402.13,222.16 L402.88,222.13 L403.63,222.1 L404.39,222.06 L405.14,222.03 L405.9,221.99 L406.65,221.95 L407.4,221.91 L408.16,221.87 L408.91,221.83 L409.66,221.79 L410.42,221.75 L411.17,221.7 L411.93,221.66 L412.68,221.61 L413.43,221.57 L414.19,221.52 L414.94,221.47 L415.7,221.42 L416.45,221.36 L417.2,221.31 L417.96,221.24 L418.71,221.17 L419.46,221.1 L420.22,221.02 L420.97,220.93 L421.73,220.84 L422.48,220.73 L423.23,220.62 L423.99,220.48 L424.74,220.31 L425.49,220.11 L426.25,219.86 L427,219.56 L427.76,219.2 L428.51,218.77 L429.26,218.27 L430.02,217.71 L430.77,217.08 L431.53,216.4 L432.28,215.66 L433.03,214.86 L433.79,214.03 L434.54,213.16 L435.29,212.3 L436.05,211.44 L436.8,210.62 L437.56,209.86 L438.31,209.13 L439.06,208.41 L439.82,207.64 L440.57,206.79 L441.33,205.82 L442.08,204.69 L442.83,203.41 L443.59,201.97 L444.34,200.4 L445.09,198.69 L445.85,196.85 L446.6,194.9 L447.36,192.84 L448.11,190.67 L448.86,188.41 L449.62,186.08 L450.37,183.69 L451.12,181.25 L451.88,178.79 L452.63,176.31 L453.39,173.86 L454.14,171.49 L454.89,169.24 L455.65,167.15 L456.4,165.27 L457.16,163.62 L457.91,162.2 L458.66,160.97 L459.42,159.89 L460.17,158.95 L460.92,158.16 L461.68,157.54 L462.43,157.13 L463.19,156.94 L463.94,156.93 L464.69,157.08 L465.45,157.34 L466.2,157.68 L466.95,158.06 L467.71,158.48 L468.46,158.92 L469.22,159.38 L469.97,159.85 L470.72,160.33 L471.48,160.82 L472.23,161.31 L472.99,161.81 L473.74,162.32 L474.49,162.85 L475.25,163.4 L476,163.98 L476.75,164.58 L477.51,165.21 L478.26,165.86 L479.02,166.53 L479.77,167.22 L480.52,167.92 L481.28,168.63 L482.03,169.35 L482.79,170.07 L483.54,170.8 L484.29,171.53 L485.05,172.26 L485.8,172.98 L486.55,173.69 L487.31,174.4 L488.06,175.1 L488.82,175.79 L489.57,176.48 L490.32,177.16 L491.08,177.83 L491.83,178.5 L492.58,179.17 L493.34,179.83 L494.09,180.5 L494.85,181.16 L495.6,181.82 L495.6,181.82" fill="none" stroke="#5ff0f2" stroke-width="1.45" stroke-linejoin="round" stroke-linecap="round"/>
</g>
<path d="M288.3,32.3 H495.6" fill="none" stroke="#9c9c9c" stroke-width="1.15"/>
<path d="M495.6,32.3 V239.2" fill="none" stroke="#7a7a7a" stroke-width="1.1"/>
<path d="M288.3,32.3 V239.2 H495.6" fill="none" stroke="#484848" stroke-width="1.1"/>
<path d="M288.3,239.2 v-3.5 M307.15,239.2 v-2.2 M325.99,239.2 v-3.5 M344.84,239.2 v-2.2 M363.68,239.2 v-3.5 M382.53,239.2 v-2.2 M401.37,239.2 v-3.5 M420.22,239.2 v-2.2 M439.06,239.2 v-3.5 M457.91,239.2 v-2.2 M476.75,239.2 v-3.5 M495.6,239.2 v-2.2 M288.3,239.2 h3.5 M288.3,221.96 h2.2 M288.3,204.72 h3.5 M288.3,187.47 h2.2 M288.3,170.23 h3.5 M288.3,152.99 h2.2 M288.3,135.75 h3.5 M288.3,118.51 h2.2 M288.3,101.27 h3.5 M288.3,84.03 h2.2 M288.3,66.78 h3.5 M288.3,49.54 h2.2 M288.3,32.3 h3.5" stroke="#444" stroke-width="0.9" fill="none"/>
<text x="287.7" y="251.6" text-anchor="middle" font-size="10.1" fill="#222" stroke="#222">25</text>
<text x="325.39" y="251.6" text-anchor="middle" font-size="10.1" fill="#222" stroke="#222">35</text>
<text x="363.08" y="251.6" text-anchor="middle" font-size="10.1" fill="#222" stroke="#222">45</text>
<text x="400.77" y="251.6" text-anchor="middle" font-size="10.1" fill="#222" stroke="#222">55</text>
<text x="438.46" y="251.6" text-anchor="middle" font-size="10.1" fill="#222" stroke="#222">65</text>
<text x="476.15" y="251.6" text-anchor="middle" font-size="10.1" fill="#222" stroke="#222">75</text>
<text x="284.9" y="242.8" text-anchor="end" font-size="10.1" fill="#222" stroke="#222">0.0</text>
<text x="284.9" y="208.32" text-anchor="end" font-size="10.1" fill="#222" stroke="#222">0.5</text>
<text x="284.9" y="173.83" text-anchor="end" font-size="10.1" fill="#222" stroke="#222">1.0</text>
<text x="284.9" y="139.35" text-anchor="end" font-size="10.1" fill="#222" stroke="#222">1.5</text>
<text x="284.9" y="104.87" text-anchor="end" font-size="10.1" fill="#222" stroke="#222">2.0</text>
<text x="284.9" y="70.38" text-anchor="end" font-size="10.1" fill="#222" stroke="#222">2.5</text>
<text x="284.9" y="35.9" text-anchor="end" font-size="10.1" fill="#222" stroke="#222">3.0</text>
<text x="470.7" y="57.1" font-size="26.5" fill="#000" stroke="#000">B</text>
<path d="M298,40.7 H307.2" stroke="#000" stroke-width="1.5"/>
<text x="312.9" y="43.3" font-size="7.4" fill="#222" stroke="#222">FXN wild–type</text>
<path d="M298,50.9 H307.2" stroke="#1a1a1a" stroke-width="1.5"/>
<text x="312.9" y="53.5" font-size="7.4" fill="#222" stroke="#222">FXN wild–type</text>
<path d="M298,61.1 H307.2" stroke="#b0b0b0" stroke-width="1.5"/>
<text x="312.9" y="63.7" font-size="7.4" fill="#222" stroke="#222">FXN G130V</text>
<path d="M298,71.3 H307.2" stroke="#a0a0a0" stroke-width="1.5"/>
<text x="312.9" y="73.9" font-size="7.4" fill="#222" stroke="#222">FXN G130V</text>
<path d="M298,81.5 H307.2" stroke="#1c1cff" stroke-width="1.5"/>
<text x="312.9" y="84.1" font-size="7.4" fill="#222" stroke="#222">NB_6B1</text>
<path d="M298,91.7 H307.2" stroke="#1c1cff" stroke-width="1.5"/>
<text x="312.9" y="94.3" font-size="7.4" fill="#222" stroke="#222">NB_6B1</text>
<path d="M298,101.9 H307.2" stroke="#5ff0f2" stroke-width="1.5"/>
<text x="312.9" y="104.5" font-size="7.4" fill="#222" stroke="#222">NB_6B1:FXN G130V</text>
<path d="M298,112.1 H307.2" stroke="#5ff0f2" stroke-width="1.5"/>
<text x="312.9" y="114.7" font-size="7.4" fill="#222" stroke="#222">NB_6B1:FXN G130V</text>
<clipPath id="clipC"><rect x="47.2" y="284.5" width="207.6" height="207.3"/></clipPath>
<g clip-path="url(#clipC)">
<path d="M47.2,463.26 L47.95,463.35 L48.71,463.43 L49.46,463.51 L50.22,463.59 L50.97,463.68 L51.73,463.75 L52.48,463.83 L53.24,463.91 L53.99,463.98 L54.75,464.05 L55.5,464.12 L56.26,464.19 L57.01,464.25 L57.77,464.31 L58.52,464.37 L59.28,464.42 L60.03,464.47 L60.79,464.51 L61.54,464.55 L62.3,464.59 L63.05,464.62 L63.81,464.65 L64.56,464.67 L65.32,464.69 L66.07,464.71 L66.83,464.72 L67.58,464.73 L68.34,464.73 L69.09,464.74 L69.85,464.73 L70.6,464.73 L71.36,464.72 L72.11,464.71 L72.87,464.69 L73.62,464.67 L74.38,464.65 L75.13,464.62 L75.89,464.59 L76.64,464.56 L77.4,464.52 L78.15,464.48 L78.91,464.43 L79.66,464.39 L80.42,464.33 L81.17,464.28 L81.93,464.22 L82.68,464.16 L83.44,464.09 L84.19,464.03 L84.95,463.95 L85.7,463.88 L86.46,463.8 L87.21,463.71 L87.97,463.61 L88.72,463.51 L89.47,463.39 L90.23,463.26 L90.98,463.12 L91.74,462.96 L92.49,462.78 L93.25,462.58 L94,462.37 L94.76,462.15 L95.51,461.91 L96.27,461.67 L97.02,461.42 L97.78,461.17 L98.53,460.93 L99.29,460.68 L100.04,460.43 L100.8,460.18 L101.55,459.91 L102.31,459.63 L103.06,459.34 L103.82,459.02 L104.57,458.68 L105.33,458.3 L106.08,457.9 L106.84,457.47 L107.59,457 L108.35,456.5 L109.1,455.96 L109.86,455.39 L110.61,454.78 L111.37,454.14 L112.12,453.45 L112.88,452.72 L113.63,451.96 L114.39,451.16 L115.14,450.33 L115.9,449.46 L116.65,448.56 L117.41,447.64 L118.16,446.69 L118.92,445.72 L119.67,444.73 L120.43,443.71 L121.18,442.67 L121.94,441.59 L122.69,440.47 L123.45,439.31 L124.2,438.11 L124.96,436.84 L125.71,435.52 L126.47,434.15 L127.22,432.73 L127.98,431.28 L128.73,429.79 L129.49,428.29 L130.24,426.78 L130.99,425.25 L131.75,423.7 L132.5,422.09 L133.26,420.43 L134.01,418.68 L134.77,416.83 L135.52,414.87 L136.28,412.81 L137.03,410.67 L137.79,408.47 L138.54,406.22 L139.3,403.94 L140.05,401.64 L140.81,399.33 L141.56,397.02 L142.32,394.71 L143.07,392.42 L143.83,390.14 L144.58,387.86 L145.34,385.58 L146.09,383.3 L146.85,381.01 L147.6,378.72 L148.36,376.4 L149.11,374.07 L149.87,371.73 L150.62,369.37 L151.38,367.01 L152.13,364.66 L152.89,362.3 L153.64,359.96 L154.4,357.63 L155.15,355.33 L155.91,353.05 L156.66,350.81 L157.42,348.62 L158.17,346.51 L158.93,344.47 L159.68,342.54 L160.44,340.72 L161.19,339.02 L161.95,337.47 L162.7,336.07 L163.46,334.81 L164.21,333.68 L164.97,332.68 L165.72,331.79 L166.48,331.01 L167.23,330.33 L167.99,329.74 L168.74,329.22 L169.5,328.79 L170.25,328.42 L171.01,328.13 L171.76,327.92 L172.51,327.79 L173.27,327.73 L174.02,327.76 L174.78,327.86 L175.53,328.04 L176.29,328.29 L177.04,328.61 L177.8,329 L178.55,329.43 L179.31,329.93 L180.06,330.47 L180.82,331.07 L181.57,331.71 L182.33,332.39 L183.08,333.12 L183.84,333.88 L184.59,334.68 L185.35,335.52 L186.1,336.38 L186.86,337.27 L187.61,338.19 L188.37,339.14 L189.12,340.11 L189.88,341.1 L190.63,342.11 L191.39,343.13 L192.14,344.18 L192.9,345.23 L193.65,346.3 L194.41,347.38 L195.16,348.47 L195.92,349.57 L196.67,350.67 L197.43,351.79 L198.18,352.92 L198.94,354.05 L199.69,355.2 L200.45,356.36 L201.2,357.53 L201.96,358.72 L202.71,359.91 L203.47,361.12 L204.22,362.34 L204.98,363.57 L205.73,364.8 L206.49,366.05 L207.24,367.3 L208,368.55 L208.75,369.81 L209.51,371.06 L210.26,372.32 L211.02,373.58 L211.77,374.83 L212.53,376.08 L213.28,377.33 L214.03,378.59 L214.79,379.84 L215.54,381.09 L216.3,382.34 L217.05,383.59 L217.81,384.85 L218.56,386.11 L219.32,387.37 L220.07,388.63 L220.83,389.89 L221.58,391.16 L222.34,392.42 L223.09,393.68 L223.85,394.93 L224.6,396.18 L225.36,397.43 L226.11,398.67 L226.87,399.9 L227.62,401.12 L228.38,402.33 L229.13,403.53 L229.89,404.72 L230.64,405.9 L231.4,407.07 L232.15,408.23 L232.91,409.38 L233.66,410.52 L234.42,411.64 L235.17,412.75 L235.93,413.85 L236.68,414.93 L237.44,416 L238.19,417.05 L238.95,418.07 L239.7,419.08 L240.46,420.06 L241.21,421.01 L241.97,421.94 L242.72,422.83 L243.48,423.69 L244.23,424.51 L244.99,425.3 L245.74,426.05 L246.5,426.77 L247.25,427.45 L248.01,428.11 L248.76,428.74 L249.52,429.35 L250.27,429.93 L251.03,430.5 L251.78,431.06 L252.54,431.61 L253.29,432.14 L254.05,432.67 L254.8,433.2 L254.8,433.2" fill="none" stroke="#9a9a9a" stroke-width="1.55" stroke-linejoin="round" stroke-linecap="round"/>
<path d="M47.2,464.3 L47.95,464.38 L48.71,464.46 L49.46,464.54 L50.22,464.61 L50.97,464.69 L51.73,464.77 L52.48,464.84 L53.24,464.91 L53.99,464.98 L54.75,465.05 L55.5,465.11 L56.26,465.17 L57.01,465.23 L57.77,465.28 L58.52,465.33 L59.28,465.38 L60.03,465.42 L60.79,465.46 L61.54,465.49 L62.3,465.52 L63.05,465.55 L63.81,465.57 L64.56,465.59 L65.32,465.6 L66.07,465.62 L66.83,465.62 L67.58,465.63 L68.34,465.63 L69.09,465.63 L69.85,465.63 L70.6,465.62 L71.36,465.62 L72.11,465.61 L72.87,465.59 L73.62,465.58 L74.38,465.56 L75.13,465.54 L75.89,465.51 L76.64,465.48 L77.4,465.44 L78.15,465.41 L78.91,465.36 L79.66,465.31 L80.42,465.25 L81.17,465.19 L81.93,465.12 L82.68,465.05 L83.44,464.97 L84.19,464.88 L84.95,464.78 L85.7,464.68 L86.46,464.56 L87.21,464.44 L87.97,464.31 L88.72,464.17 L89.47,464.02 L90.23,463.87 L90.98,463.7 L91.74,463.52 L92.49,463.33 L93.25,463.13 L94,462.93 L94.76,462.71 L95.51,462.5 L96.27,462.28 L97.02,462.06 L97.78,461.85 L98.53,461.64 L99.29,461.43 L100.04,461.23 L100.8,461.02 L101.55,460.8 L102.31,460.57 L103.06,460.32 L103.82,460.05 L104.57,459.76 L105.33,459.43 L106.08,459.07 L106.84,458.68 L107.59,458.26 L108.35,457.8 L109.1,457.3 L109.86,456.77 L110.61,456.21 L111.37,455.61 L112.12,454.97 L112.88,454.3 L113.63,453.59 L114.39,452.84 L115.14,452.07 L115.9,451.26 L116.65,450.42 L117.41,449.54 L118.16,448.64 L118.92,447.71 L119.67,446.75 L120.43,445.76 L121.18,444.74 L121.94,443.68 L122.69,442.58 L123.45,441.45 L124.2,440.27 L124.96,439.05 L125.71,437.77 L126.47,436.45 L127.22,435.09 L127.98,433.7 L128.73,432.27 L129.49,430.83 L130.24,429.36 L130.99,427.87 L131.75,426.34 L132.5,424.76 L133.26,423.12 L134.01,421.4 L134.77,419.59 L135.52,417.68 L136.28,415.69 L137.03,413.65 L137.79,411.6 L138.54,409.55 L139.3,407.53 L140.05,405.57 L140.81,403.63 L141.56,401.72 L142.32,399.82 L143.07,397.93 L143.83,396.02 L144.58,394.09 L145.34,392.14 L146.09,390.16 L146.85,388.16 L147.6,386.13 L148.36,384.08 L149.11,382.01 L149.87,379.92 L150.62,377.81 L151.38,375.68 L152.13,373.54 L152.89,371.4 L153.64,369.25 L154.4,367.11 L155.15,364.98 L155.91,362.87 L156.66,360.8 L157.42,358.75 L158.17,356.75 L158.93,354.8 L159.68,352.9 L160.44,351.07 L161.19,349.32 L161.95,347.64 L162.7,346.06 L163.46,344.57 L164.21,343.19 L164.97,341.93 L165.72,340.78 L166.48,339.74 L167.23,338.82 L167.99,338 L168.74,337.29 L169.5,336.67 L170.25,336.15 L171.01,335.73 L171.76,335.4 L172.51,335.16 L173.27,335.01 L174.02,334.94 L174.78,334.96 L175.53,335.07 L176.29,335.24 L177.04,335.49 L177.8,335.8 L178.55,336.17 L179.31,336.6 L180.06,337.08 L180.82,337.6 L181.57,338.18 L182.33,338.8 L183.08,339.46 L183.84,340.16 L184.59,340.9 L185.35,341.67 L186.1,342.48 L186.86,343.31 L187.61,344.17 L188.37,345.05 L189.12,345.96 L189.88,346.89 L190.63,347.85 L191.39,348.82 L192.14,349.82 L192.9,350.83 L193.65,351.86 L194.41,352.91 L195.16,353.97 L195.92,355.05 L196.67,356.14 L197.43,357.24 L198.18,358.36 L198.94,359.49 L199.69,360.63 L200.45,361.78 L201.2,362.94 L201.96,364.12 L202.71,365.3 L203.47,366.49 L204.22,367.68 L204.98,368.88 L205.73,370.07 L206.49,371.25 L207.24,372.43 L208,373.58 L208.75,374.72 L209.51,375.83 L210.26,376.91 L211.02,377.96 L211.77,378.98 L212.53,379.97 L213.28,380.95 L214.03,381.92 L214.79,382.88 L215.54,383.85 L216.3,384.83 L217.05,385.82 L217.81,386.84 L218.56,387.88 L219.32,388.97 L220.07,390.09 L220.83,391.23 L221.58,392.41 L222.34,393.6 L223.09,394.82 L223.85,396.04 L224.6,397.26 L225.36,398.49 L226.11,399.72 L226.87,400.93 L227.62,402.14 L228.38,403.33 L229.13,404.5 L229.89,405.66 L230.64,406.81 L231.4,407.95 L232.15,409.07 L232.91,410.19 L233.66,411.29 L234.42,412.37 L235.17,413.45 L235.93,414.51 L236.68,415.57 L237.44,416.6 L238.19,417.62 L238.95,418.62 L239.7,419.61 L240.46,420.56 L241.21,421.49 L241.97,422.4 L242.72,423.28 L243.48,424.12 L244.23,424.93 L244.99,425.71 L245.74,426.45 L246.5,427.16 L247.25,427.84 L248.01,428.5 L248.76,429.13 L249.52,429.73 L250.27,430.32 L251.03,430.9 L251.78,431.46 L252.54,432.01 L253.29,432.55 L254.05,433.08 L254.8,433.62 L254.8,433.62" fill="none" stroke="#929292" stroke-width="1.55" stroke-linejoin="round" stroke-linecap="round"/>
<path d="M47.2,470.72 L47.95,470.8 L48.71,470.87 L49.46,470.94 L50.22,471.01 L50.97,471.08 L51.73,471.15 L52.48,471.22 L53.24,471.29 L53.99,471.36 L54.75,471.43 L55.5,471.49 L56.26,471.56 L57.01,471.63 L57.77,471.7 L58.52,471.76 L59.28,471.83 L60.03,471.89 L60.79,471.95 L61.54,472.02 L62.3,472.08 L63.05,472.14 L63.81,472.2 L64.56,472.26 L65.32,472.32 L66.07,472.38 L66.83,472.43 L67.58,472.49 L68.34,472.54 L69.09,472.6 L69.85,472.65 L70.6,472.7 L71.36,472.75 L72.11,472.8 L72.87,472.85 L73.62,472.9 L74.38,472.95 L75.13,473 L75.89,473.04 L76.64,473.09 L77.4,473.13 L78.15,473.18 L78.91,473.22 L79.66,473.26 L80.42,473.31 L81.17,473.35 L81.93,473.39 L82.68,473.43 L83.44,473.47 L84.19,473.52 L84.95,473.56 L85.7,473.6 L86.46,473.64 L87.21,473.68 L87.97,473.72 L88.72,473.76 L89.47,473.8 L90.23,473.83 L90.98,473.87 L91.74,473.9 L92.49,473.93 L93.25,473.96 L94,473.98 L94.76,474 L95.51,474.02 L96.27,474.03 L97.02,474.04 L97.78,474.04 L98.53,474.04 L99.29,474.04 L100.04,474.03 L100.8,474.02 L101.55,474 L102.31,473.98 L103.06,473.95 L103.82,473.92 L104.57,473.88 L105.33,473.84 L106.08,473.8 L106.84,473.75 L107.59,473.7 L108.35,473.64 L109.1,473.58 L109.86,473.51 L110.61,473.44 L111.37,473.37 L112.12,473.29 L112.88,473.2 L113.63,473.12 L114.39,473.03 L115.14,472.94 L115.9,472.84 L116.65,472.74 L117.41,472.63 L118.16,472.52 L118.92,472.41 L119.67,472.29 L120.43,472.17 L121.18,472.04 L121.94,471.9 L122.69,471.76 L123.45,471.61 L124.2,471.46 L124.96,471.3 L125.71,471.14 L126.47,470.97 L127.22,470.79 L127.98,470.61 L128.73,470.43 L129.49,470.24 L130.24,470.05 L130.99,469.85 L131.75,469.65 L132.5,469.45 L133.26,469.24 L134.01,469.04 L134.77,468.83 L135.52,468.62 L136.28,468.41 L137.03,468.19 L137.79,467.98 L138.54,467.77 L139.3,467.55 L140.05,467.34 L140.81,467.13 L141.56,466.92 L142.32,466.72 L143.07,466.51 L143.83,466.31 L144.58,466.11 L145.34,465.91 L146.09,465.72 L146.85,465.53 L147.6,465.34 L148.36,465.16 L149.11,464.98 L149.87,464.8 L150.62,464.63 L151.38,464.46 L152.13,464.29 L152.89,464.13 L153.64,463.97 L154.4,463.81 L155.15,463.65 L155.91,463.5 L156.66,463.34 L157.42,463.18 L158.17,463.02 L158.93,462.86 L159.68,462.7 L160.44,462.53 L161.19,462.36 L161.95,462.2 L162.7,462.04 L163.46,461.88 L164.21,461.73 L164.97,461.59 L165.72,461.46 L166.48,461.34 L167.23,461.23 L167.99,461.11 L168.74,460.99 L169.5,460.85 L170.25,460.67 L171.01,460.45 L171.76,460.19 L172.51,459.9 L173.27,459.56 L174.02,459.19 L174.78,458.8 L175.53,458.38 L176.29,457.94 L177.04,457.48 L177.8,457.01 L178.55,456.51 L179.31,455.98 L180.06,455.43 L180.82,454.85 L181.57,454.24 L182.33,453.59 L183.08,452.9 L183.84,452.18 L184.59,451.42 L185.35,450.63 L186.1,449.81 L186.86,448.96 L187.61,448.08 L188.37,447.17 L189.12,446.21 L189.88,445.2 L190.63,444.12 L191.39,442.97 L192.14,441.76 L192.9,440.5 L193.65,439.21 L194.41,437.9 L195.16,436.58 L195.92,435.24 L196.67,433.87 L197.43,432.46 L198.18,430.99 L198.94,429.47 L199.69,427.9 L200.45,426.32 L201.2,424.73 L201.96,423.17 L202.71,421.66 L203.47,420.22 L204.22,418.83 L204.98,417.49 L205.73,416.19 L206.49,414.92 L207.24,413.65 L208,412.4 L208.75,411.15 L209.51,409.95 L210.26,408.81 L211.02,407.77 L211.77,406.86 L212.53,406.1 L213.28,405.5 L214.03,405.03 L214.79,404.67 L215.54,404.4 L216.3,404.18 L217.05,404.01 L217.81,403.88 L218.56,403.79 L219.32,403.77 L220.07,403.8 L220.83,403.89 L221.58,404.06 L222.34,404.29 L223.09,404.6 L223.85,404.98 L224.6,405.44 L225.36,405.98 L226.11,406.6 L226.87,407.3 L227.62,408.07 L228.38,408.9 L229.13,409.78 L229.89,410.7 L230.64,411.64 L231.4,412.6 L232.15,413.57 L232.91,414.55 L233.66,415.53 L234.42,416.51 L235.17,417.48 L235.93,418.45 L236.68,419.4 L237.44,420.34 L238.19,421.27 L238.95,422.19 L239.7,423.1 L240.46,424 L241.21,424.89 L241.97,425.77 L242.72,426.64 L243.48,427.51 L244.23,428.36 L244.99,429.2 L245.74,430.04 L246.5,430.86 L247.25,431.68 L248.01,432.5 L248.76,433.3 L249.52,434.11 L250.27,434.9 L251.03,435.7 L251.78,436.49 L252.54,437.28 L253.29,438.06 L254.05,438.85 L254.8,439.63 L254.8,439.63" fill="none" stroke="#000000" stroke-width="1.45" stroke-linejoin="round" stroke-linecap="round"/>
<path d="M47.2,471.07 L47.95,471.15 L48.71,471.22 L49.46,471.3 L50.22,471.38 L50.97,471.45 L51.73,471.53 L52.48,471.6 L53.24,471.68 L53.99,471.75 L54.75,471.82 L55.5,471.9 L56.26,471.97 L57.01,472.04 L57.77,472.11 L58.52,472.18 L59.28,472.24 L60.03,472.31 L60.79,472.37 L61.54,472.44 L62.3,472.5 L63.05,472.56 L63.81,472.62 L64.56,472.68 L65.32,472.74 L66.07,472.8 L66.83,472.85 L67.58,472.91 L68.34,472.96 L69.09,473.02 L69.85,473.07 L70.6,473.12 L71.36,473.17 L72.11,473.22 L72.87,473.26 L73.62,473.31 L74.38,473.36 L75.13,473.4 L75.89,473.45 L76.64,473.49 L77.4,473.54 L78.15,473.58 L78.91,473.63 L79.66,473.67 L80.42,473.71 L81.17,473.76 L81.93,473.8 L82.68,473.84 L83.44,473.88 L84.19,473.93 L84.95,473.97 L85.7,474.02 L86.46,474.06 L87.21,474.1 L87.97,474.15 L88.72,474.19 L89.47,474.23 L90.23,474.27 L90.98,474.31 L91.74,474.35 L92.49,474.38 L93.25,474.41 L94,474.44 L94.76,474.47 L95.51,474.49 L96.27,474.51 L97.02,474.52 L97.78,474.53 L98.53,474.53 L99.29,474.53 L100.04,474.53 L100.8,474.52 L101.55,474.51 L102.31,474.49 L103.06,474.47 L103.82,474.44 L104.57,474.41 L105.33,474.38 L106.08,474.34 L106.84,474.3 L107.59,474.25 L108.35,474.2 L109.1,474.14 L109.86,474.08 L110.61,474.02 L111.37,473.95 L112.12,473.88 L112.88,473.8 L113.63,473.73 L114.39,473.64 L115.14,473.56 L115.9,473.47 L116.65,473.38 L117.41,473.28 L118.16,473.18 L118.92,473.08 L119.67,472.97 L120.43,472.86 L121.18,472.75 L121.94,472.64 L122.69,472.52 L123.45,472.4 L124.2,472.28 L124.96,472.16 L125.71,472.03 L126.47,471.9 L127.22,471.77 L127.98,471.64 L128.73,471.5 L129.49,471.37 L130.24,471.22 L130.99,471.08 L131.75,470.94 L132.5,470.79 L133.26,470.64 L134.01,470.49 L134.77,470.33 L135.52,470.18 L136.28,470.03 L137.03,469.87 L137.79,469.72 L138.54,469.57 L139.3,469.42 L140.05,469.28 L140.81,469.14 L141.56,469 L142.32,468.86 L143.07,468.73 L143.83,468.6 L144.58,468.48 L145.34,468.36 L146.09,468.24 L146.85,468.12 L147.6,468.01 L148.36,467.9 L149.11,467.78 L149.87,467.67 L150.62,467.56 L151.38,467.45 L152.13,467.34 L152.89,467.22 L153.64,467.11 L154.4,467 L155.15,466.88 L155.91,466.77 L156.66,466.65 L157.42,466.53 L158.17,466.41 L158.93,466.29 L159.68,466.17 L160.44,466.05 L161.19,465.92 L161.95,465.79 L162.7,465.65 L163.46,465.52 L164.21,465.37 L164.97,465.22 L165.72,465.07 L166.48,464.91 L167.23,464.74 L167.99,464.56 L168.74,464.37 L169.5,464.16 L170.25,463.93 L171.01,463.69 L171.76,463.42 L172.51,463.14 L173.27,462.83 L174.02,462.5 L174.78,462.15 L175.53,461.79 L176.29,461.4 L177.04,460.99 L177.8,460.55 L178.55,460.09 L179.31,459.6 L180.06,459.07 L180.82,458.51 L181.57,457.9 L182.33,457.25 L183.08,456.55 L183.84,455.81 L184.59,455.02 L185.35,454.19 L186.1,453.32 L186.86,452.41 L187.61,451.47 L188.37,450.49 L189.12,449.46 L189.88,448.38 L190.63,447.23 L191.39,446.02 L192.14,444.74 L192.9,443.42 L193.65,442.06 L194.41,440.67 L195.16,439.25 L195.92,437.82 L196.67,436.36 L197.43,434.9 L198.18,433.41 L198.94,431.91 L199.69,430.4 L200.45,428.9 L201.2,427.39 L201.96,425.9 L202.71,424.43 L203.47,422.98 L204.22,421.57 L204.98,420.2 L205.73,418.9 L206.49,417.66 L207.24,416.5 L208,415.42 L208.75,414.42 L209.51,413.5 L210.26,412.68 L211.02,411.95 L211.77,411.31 L212.53,410.76 L213.28,410.3 L214.03,409.92 L214.79,409.61 L215.54,409.38 L216.3,409.23 L217.05,409.14 L217.81,409.13 L218.56,409.2 L219.32,409.32 L220.07,409.52 L220.83,409.77 L221.58,410.09 L222.34,410.45 L223.09,410.87 L223.85,411.34 L224.6,411.87 L225.36,412.45 L226.11,413.1 L226.87,413.79 L227.62,414.54 L228.38,415.33 L229.13,416.15 L229.89,417 L230.64,417.86 L231.4,418.73 L232.15,419.61 L232.91,420.48 L233.66,421.36 L234.42,422.24 L235.17,423.11 L235.93,423.97 L236.68,424.83 L237.44,425.67 L238.19,426.52 L238.95,427.36 L239.7,428.19 L240.46,429.01 L241.21,429.84 L241.97,430.65 L242.72,431.46 L243.48,432.27 L244.23,433.08 L244.99,433.88 L245.74,434.68 L246.5,435.48 L247.25,436.27 L248.01,437.06 L248.76,437.85 L249.52,438.64 L250.27,439.42 L251.03,440.21 L251.78,440.99 L252.54,441.78 L253.29,442.56 L254.05,443.34 L254.8,444.12 L254.8,444.12" fill="none" stroke="#111111" stroke-width="1.45" stroke-linejoin="round" stroke-linecap="round"/>
<path d="M47.2,470.66 L47.95,470.71 L48.71,470.77 L49.46,470.83 L50.22,470.88 L50.97,470.94 L51.73,471 L52.48,471.05 L53.24,471.11 L53.99,471.17 L54.75,471.22 L55.5,471.28 L56.26,471.34 L57.01,471.39 L57.77,471.45 L58.52,471.5 L59.28,471.56 L60.03,471.62 L60.79,471.67 L61.54,471.73 L62.3,471.79 L63.05,471.84 L63.81,471.9 L64.56,471.95 L65.32,472.01 L66.07,472.06 L66.83,472.12 L67.58,472.18 L68.34,472.23 L69.09,472.29 L69.85,472.34 L70.6,472.4 L71.36,472.45 L72.11,472.51 L72.87,472.56 L73.62,472.62 L74.38,472.67 L75.13,472.72 L75.89,472.78 L76.64,472.83 L77.4,472.88 L78.15,472.93 L78.91,472.98 L79.66,473.04 L80.42,473.08 L81.17,473.13 L81.93,473.18 L82.68,473.23 L83.44,473.27 L84.19,473.32 L84.95,473.36 L85.7,473.4 L86.46,473.44 L87.21,473.48 L87.97,473.52 L88.72,473.55 L89.47,473.59 L90.23,473.62 L90.98,473.65 L91.74,473.68 L92.49,473.7 L93.25,473.73 L94,473.75 L94.76,473.77 L95.51,473.79 L96.27,473.81 L97.02,473.82 L97.78,473.83 L98.53,473.84 L99.29,473.85 L100.04,473.85 L100.8,473.86 L101.55,473.86 L102.31,473.86 L103.06,473.85 L103.82,473.85 L104.57,473.84 L105.33,473.83 L106.08,473.82 L106.84,473.8 L107.59,473.79 L108.35,473.77 L109.1,473.75 L109.86,473.73 L110.61,473.71 L111.37,473.69 L112.12,473.66 L112.88,473.63 L113.63,473.61 L114.39,473.58 L115.14,473.55 L115.9,473.52 L116.65,473.49 L117.41,473.45 L118.16,473.42 L118.92,473.39 L119.67,473.35 L120.43,473.31 L121.18,473.28 L121.94,473.24 L122.69,473.2 L123.45,473.16 L124.2,473.12 L124.96,473.08 L125.71,473.04 L126.47,473 L127.22,472.96 L127.98,472.92 L128.73,472.87 L129.49,472.83 L130.24,472.78 L130.99,472.73 L131.75,472.68 L132.5,472.62 L133.26,472.57 L134.01,472.51 L134.77,472.45 L135.52,472.38 L136.28,472.32 L137.03,472.25 L137.79,472.18 L138.54,472.1 L139.3,472.02 L140.05,471.94 L140.81,471.85 L141.56,471.76 L142.32,471.67 L143.07,471.57 L143.83,471.47 L144.58,471.37 L145.34,471.26 L146.09,471.16 L146.85,471.05 L147.6,470.95 L148.36,470.85 L149.11,470.75 L149.87,470.66 L150.62,470.56 L151.38,470.47 L152.13,470.39 L152.89,470.31 L153.64,470.23 L154.4,470.15 L155.15,470.07 L155.91,470 L156.66,469.92 L157.42,469.85 L158.17,469.77 L158.93,469.7 L159.68,469.63 L160.44,469.55 L161.19,469.47 L161.95,469.4 L162.7,469.35 L163.46,469.31 L164.21,469.31 L164.97,469.34 L165.72,469.41 L166.48,469.53 L167.23,469.7 L167.99,469.9 L168.74,470.12 L169.5,470.36 L170.25,470.6 L171.01,470.84 L171.76,471.07 L172.51,471.28 L173.27,471.47 L174.02,471.64 L174.78,471.8 L175.53,471.94 L176.29,472.07 L177.04,472.18 L177.8,472.28 L178.55,472.37 L179.31,472.46 L180.06,472.53 L180.82,472.6 L181.57,472.66 L182.33,472.72 L183.08,472.77 L183.84,472.82 L184.59,472.87 L185.35,472.91 L186.1,472.95 L186.86,472.98 L187.61,473.01 L188.37,473.04 L189.12,473.07 L189.88,473.09 L190.63,473.11 L191.39,473.12 L192.14,473.14 L192.9,473.15 L193.65,473.15 L194.41,473.16 L195.16,473.16 L195.92,473.16 L196.67,473.16 L197.43,473.15 L198.18,473.14 L198.94,473.13 L199.69,473.12 L200.45,473.11 L201.2,473.09 L201.96,473.08 L202.71,473.06 L203.47,473.04 L204.22,473.02 L204.98,473 L205.73,472.98 L206.49,472.96 L207.24,472.94 L208,472.92 L208.75,472.9 L209.51,472.88 L210.26,472.86 L211.02,472.84 L211.77,472.82 L212.53,472.8 L213.28,472.79 L214.03,472.77 L214.79,472.76 L215.54,472.75 L216.3,472.74 L217.05,472.73 L217.81,472.72 L218.56,472.72 L219.32,472.72 L220.07,472.72 L220.83,472.72 L221.58,472.73 L222.34,472.73 L223.09,472.74 L223.85,472.75 L224.6,472.76 L225.36,472.77 L226.11,472.78 L226.87,472.79 L227.62,472.81 L228.38,472.82 L229.13,472.84 L229.89,472.86 L230.64,472.88 L231.4,472.89 L232.15,472.91 L232.91,472.93 L233.66,472.95 L234.42,472.97 L235.17,472.99 L235.93,473 L236.68,473.02 L237.44,473.04 L238.19,473.06 L238.95,473.08 L239.7,473.09 L240.46,473.11 L241.21,473.13 L241.97,473.15 L242.72,473.16 L243.48,473.18 L244.23,473.2 L244.99,473.21 L245.74,473.23 L246.5,473.25 L247.25,473.26 L248.01,473.28 L248.76,473.29 L249.52,473.31 L250.27,473.33 L251.03,473.34 L251.78,473.36 L252.54,473.37 L253.29,473.39 L254.05,473.4 L254.8,473.42 L254.8,473.42" fill="none" stroke="#1c1cff" stroke-width="1.45" stroke-linejoin="round" stroke-linecap="round"/>
<path d="M47.2,471.76 L47.95,471.81 L48.71,471.86 L49.46,471.91 L50.22,471.95 L50.97,472 L51.73,472.05 L52.48,472.1 L53.24,472.15 L53.99,472.2 L54.75,472.24 L55.5,472.29 L56.26,472.34 L57.01,472.39 L57.77,472.44 L58.52,472.48 L59.28,472.53 L60.03,472.58 L60.79,472.63 L61.54,472.67 L62.3,472.72 L63.05,472.77 L63.81,472.82 L64.56,472.86 L65.32,472.91 L66.07,472.96 L66.83,473 L67.58,473.05 L68.34,473.1 L69.09,473.14 L69.85,473.19 L70.6,473.24 L71.36,473.28 L72.11,473.33 L72.87,473.37 L73.62,473.42 L74.38,473.46 L75.13,473.51 L75.89,473.55 L76.64,473.59 L77.4,473.64 L78.15,473.68 L78.91,473.72 L79.66,473.76 L80.42,473.8 L81.17,473.84 L81.93,473.88 L82.68,473.92 L83.44,473.96 L84.19,473.99 L84.95,474.03 L85.7,474.06 L86.46,474.09 L87.21,474.12 L87.97,474.15 L88.72,474.18 L89.47,474.21 L90.23,474.23 L90.98,474.25 L91.74,474.28 L92.49,474.3 L93.25,474.32 L94,474.33 L94.76,474.35 L95.51,474.36 L96.27,474.37 L97.02,474.38 L97.78,474.39 L98.53,474.39 L99.29,474.39 L100.04,474.4 L100.8,474.39 L101.55,474.39 L102.31,474.39 L103.06,474.38 L103.82,474.37 L104.57,474.36 L105.33,474.35 L106.08,474.34 L106.84,474.32 L107.59,474.3 L108.35,474.29 L109.1,474.27 L109.86,474.25 L110.61,474.22 L111.37,474.2 L112.12,474.18 L112.88,474.15 L113.63,474.13 L114.39,474.1 L115.14,474.07 L115.9,474.04 L116.65,474.01 L117.41,473.98 L118.16,473.95 L118.92,473.92 L119.67,473.88 L120.43,473.85 L121.18,473.82 L121.94,473.78 L122.69,473.75 L123.45,473.71 L124.2,473.68 L124.96,473.64 L125.71,473.61 L126.47,473.57 L127.22,473.53 L127.98,473.49 L128.73,473.45 L129.49,473.41 L130.24,473.37 L130.99,473.33 L131.75,473.28 L132.5,473.23 L133.26,473.18 L134.01,473.13 L134.77,473.08 L135.52,473.02 L136.28,472.96 L137.03,472.9 L137.79,472.83 L138.54,472.76 L139.3,472.69 L140.05,472.61 L140.81,472.54 L141.56,472.45 L142.32,472.36 L143.07,472.27 L143.83,472.18 L144.58,472.09 L145.34,471.99 L146.09,471.89 L146.85,471.79 L147.6,471.7 L148.36,471.6 L149.11,471.51 L149.87,471.42 L150.62,471.33 L151.38,471.24 L152.13,471.16 L152.89,471.08 L153.64,471 L154.4,470.92 L155.15,470.85 L155.91,470.78 L156.66,470.71 L157.42,470.64 L158.17,470.57 L158.93,470.51 L159.68,470.44 L160.44,470.38 L161.19,470.32 L161.95,470.26 L162.7,470.21 L163.46,470.18 L164.21,470.18 L164.97,470.19 L165.72,470.24 L166.48,470.32 L167.23,470.44 L167.99,470.57 L168.74,470.73 L169.5,470.9 L170.25,471.07 L171.01,471.25 L171.76,471.42 L172.51,471.57 L173.27,471.72 L174.02,471.86 L174.78,471.99 L175.53,472.11 L176.29,472.22 L177.04,472.32 L177.8,472.42 L178.55,472.51 L179.31,472.59 L180.06,472.66 L180.82,472.73 L181.57,472.8 L182.33,472.86 L183.08,472.91 L183.84,472.96 L184.59,473.01 L185.35,473.06 L186.1,473.09 L186.86,473.13 L187.61,473.16 L188.37,473.19 L189.12,473.21 L189.88,473.24 L190.63,473.25 L191.39,473.27 L192.14,473.28 L192.9,473.29 L193.65,473.3 L194.41,473.3 L195.16,473.3 L195.92,473.3 L196.67,473.3 L197.43,473.29 L198.18,473.28 L198.94,473.27 L199.69,473.26 L200.45,473.25 L201.2,473.23 L201.96,473.21 L202.71,473.2 L203.47,473.18 L204.22,473.16 L204.98,473.14 L205.73,473.12 L206.49,473.1 L207.24,473.08 L208,473.05 L208.75,473.03 L209.51,473.01 L210.26,472.99 L211.02,472.97 L211.77,472.96 L212.53,472.94 L213.28,472.92 L214.03,472.91 L214.79,472.9 L215.54,472.88 L216.3,472.87 L217.05,472.87 L217.81,472.86 L218.56,472.86 L219.32,472.86 L220.07,472.86 L220.83,472.86 L221.58,472.86 L222.34,472.87 L223.09,472.88 L223.85,472.89 L224.6,472.9 L225.36,472.91 L226.11,472.92 L226.87,472.93 L227.62,472.95 L228.38,472.96 L229.13,472.98 L229.89,473 L230.64,473.01 L231.4,473.03 L232.15,473.05 L232.91,473.07 L233.66,473.09 L234.42,473.11 L235.17,473.12 L235.93,473.14 L236.68,473.16 L237.44,473.18 L238.19,473.2 L238.95,473.22 L239.7,473.23 L240.46,473.25 L241.21,473.27 L241.97,473.28 L242.72,473.3 L243.48,473.32 L244.23,473.33 L244.99,473.35 L245.74,473.37 L246.5,473.38 L247.25,473.4 L248.01,473.42 L248.76,473.43 L249.52,473.45 L250.27,473.46 L251.03,473.48 L251.78,473.49 L252.54,473.51 L253.29,473.53 L254.05,473.54 L254.8,473.56 L254.8,473.56" fill="none" stroke="#1c1cff" stroke-width="1.45" stroke-linejoin="round" stroke-linecap="round"/>
<path d="M47.2,464.51 L47.95,464.62 L48.71,464.73 L49.46,464.84 L50.22,464.95 L50.97,465.06 L51.73,465.17 L52.48,465.28 L53.24,465.39 L53.99,465.5 L54.75,465.6 L55.5,465.71 L56.26,465.82 L57.01,465.93 L57.77,466.03 L58.52,466.14 L59.28,466.24 L60.03,466.34 L60.79,466.45 L61.54,466.55 L62.3,466.65 L63.05,466.75 L63.81,466.85 L64.56,466.94 L65.32,467.04 L66.07,467.13 L66.83,467.23 L67.58,467.32 L68.34,467.41 L69.09,467.5 L69.85,467.58 L70.6,467.67 L71.36,467.75 L72.11,467.84 L72.87,467.92 L73.62,467.99 L74.38,468.07 L75.13,468.15 L75.89,468.22 L76.64,468.29 L77.4,468.36 L78.15,468.43 L78.91,468.5 L79.66,468.57 L80.42,468.63 L81.17,468.69 L81.93,468.76 L82.68,468.82 L83.44,468.88 L84.19,468.94 L84.95,468.99 L85.7,469.05 L86.46,469.11 L87.21,469.16 L87.97,469.21 L88.72,469.26 L89.47,469.32 L90.23,469.37 L90.98,469.42 L91.74,469.46 L92.49,469.51 L93.25,469.56 L94,469.61 L94.76,469.65 L95.51,469.7 L96.27,469.74 L97.02,469.78 L97.78,469.83 L98.53,469.87 L99.29,469.91 L100.04,469.95 L100.8,469.99 L101.55,470.03 L102.31,470.06 L103.06,470.1 L103.82,470.13 L104.57,470.15 L105.33,470.18 L106.08,470.2 L106.84,470.22 L107.59,470.23 L108.35,470.24 L109.1,470.24 L109.86,470.24 L110.61,470.24 L111.37,470.23 L112.12,470.21 L112.88,470.19 L113.63,470.16 L114.39,470.12 L115.14,470.08 L115.9,470.03 L116.65,469.97 L117.41,469.91 L118.16,469.83 L118.92,469.75 L119.67,469.66 L120.43,469.56 L121.18,469.45 L121.94,469.34 L122.69,469.21 L123.45,469.07 L124.2,468.92 L124.96,468.76 L125.71,468.6 L126.47,468.42 L127.22,468.24 L127.98,468.04 L128.73,467.85 L129.49,467.64 L130.24,467.44 L130.99,467.22 L131.75,467.01 L132.5,466.79 L133.26,466.57 L134.01,466.35 L134.77,466.14 L135.52,465.92 L136.28,465.7 L137.03,465.49 L137.79,465.28 L138.54,465.07 L139.3,464.88 L140.05,464.69 L140.81,464.51 L141.56,464.34 L142.32,464.19 L143.07,464.05 L143.83,463.92 L144.58,463.81 L145.34,463.72 L146.09,463.65 L146.85,463.59 L147.6,463.54 L148.36,463.51 L149.11,463.49 L149.87,463.48 L150.62,463.47 L151.38,463.47 L152.13,463.48 L152.89,463.49 L153.64,463.5 L154.4,463.52 L155.15,463.53 L155.91,463.55 L156.66,463.57 L157.42,463.59 L158.17,463.6 L158.93,463.61 L159.68,463.62 L160.44,463.63 L161.19,463.63 L161.95,463.63 L162.7,463.63 L163.46,463.63 L164.21,463.62 L164.97,463.62 L165.72,463.61 L166.48,463.6 L167.23,463.59 L167.99,463.58 L168.74,463.57 L169.5,463.56 L170.25,463.55 L171.01,463.53 L171.76,463.52 L172.51,463.5 L173.27,463.48 L174.02,463.46 L174.78,463.43 L175.53,463.4 L176.29,463.36 L177.04,463.31 L177.8,463.24 L178.55,463.15 L179.31,463.05 L180.06,462.92 L180.82,462.76 L181.57,462.58 L182.33,462.37 L183.08,462.13 L183.84,461.86 L184.59,461.56 L185.35,461.23 L186.1,460.86 L186.86,460.46 L187.61,460.02 L188.37,459.55 L189.12,459.04 L189.88,458.49 L190.63,457.91 L191.39,457.29 L192.14,456.64 L192.9,455.96 L193.65,455.26 L194.41,454.54 L195.16,453.8 L195.92,453.04 L196.67,452.27 L197.43,451.49 L198.18,450.7 L198.94,449.9 L199.69,449.09 L200.45,448.27 L201.2,447.44 L201.96,446.6 L202.71,445.75 L203.47,444.87 L204.22,443.96 L204.98,443.03 L205.73,442.05 L206.49,441.03 L207.24,439.96 L208,438.84 L208.75,437.68 L209.51,436.46 L210.26,435.19 L211.02,433.86 L211.77,432.49 L212.53,431.09 L213.28,429.67 L214.03,428.23 L214.79,426.78 L215.54,425.35 L216.3,423.95 L217.05,422.6 L217.81,421.32 L218.56,420.12 L219.32,419.01 L220.07,417.99 L220.83,417.05 L221.58,416.21 L222.34,415.45 L223.09,414.77 L223.85,414.19 L224.6,413.69 L225.36,413.27 L226.11,412.94 L226.87,412.69 L227.62,412.51 L228.38,412.41 L229.13,412.39 L229.89,412.44 L230.64,412.56 L231.4,412.75 L232.15,413 L232.91,413.31 L233.66,413.68 L234.42,414.1 L235.17,414.58 L235.93,415.1 L236.68,415.66 L237.44,416.27 L238.19,416.91 L238.95,417.58 L239.7,418.28 L240.46,419 L241.21,419.75 L241.97,420.52 L242.72,421.3 L243.48,422.09 L244.23,422.88 L244.99,423.68 L245.74,424.48 L246.5,425.28 L247.25,426.07 L248.01,426.87 L248.76,427.66 L249.52,428.45 L250.27,429.24 L251.03,430.03 L251.78,430.82 L252.54,431.6 L253.29,432.39 L254.05,433.18 L254.8,433.96 L254.8,433.96" fill="none" stroke="#3cf024" stroke-width="1.45" stroke-linejoin="round" stroke-linecap="round"/>
<path d="M47.2,465.68 L47.95,465.78 L48.71,465.88 L49.46,465.98 L50.22,466.08 L50.97,466.18 L51.73,466.28 L52.48,466.37 L53.24,466.47 L53.99,466.57 L54.75,466.67 L55.5,466.77 L56.26,466.86 L57.01,466.96 L57.77,467.05 L58.52,467.15 L59.28,467.24 L60.03,467.34 L60.79,467.43 L61.54,467.53 L62.3,467.62 L63.05,467.71 L63.81,467.8 L64.56,467.89 L65.32,467.98 L66.07,468.07 L66.83,468.15 L67.58,468.24 L68.34,468.32 L69.09,468.41 L69.85,468.49 L70.6,468.57 L71.36,468.65 L72.11,468.73 L72.87,468.81 L73.62,468.88 L74.38,468.96 L75.13,469.03 L75.89,469.11 L76.64,469.18 L77.4,469.25 L78.15,469.32 L78.91,469.39 L79.66,469.45 L80.42,469.52 L81.17,469.58 L81.93,469.65 L82.68,469.71 L83.44,469.77 L84.19,469.83 L84.95,469.89 L85.7,469.95 L86.46,470.01 L87.21,470.06 L87.97,470.12 L88.72,470.17 L89.47,470.22 L90.23,470.27 L90.98,470.32 L91.74,470.37 L92.49,470.42 L93.25,470.47 L94,470.51 L94.76,470.56 L95.51,470.6 L96.27,470.64 L97.02,470.68 L97.78,470.72 L98.53,470.76 L99.29,470.8 L100.04,470.84 L100.8,470.87 L101.55,470.91 L102.31,470.94 L103.06,470.96 L103.82,470.99 L104.57,471.01 L105.33,471.03 L106.08,471.05 L106.84,471.06 L107.59,471.07 L108.35,471.07 L109.1,471.07 L109.86,471.07 L110.61,471.06 L111.37,471.04 L112.12,471.02 L112.88,470.99 L113.63,470.96 L114.39,470.92 L115.14,470.88 L115.9,470.83 L116.65,470.77 L117.41,470.7 L118.16,470.63 L118.92,470.55 L119.67,470.46 L120.43,470.37 L121.18,470.26 L121.94,470.15 L122.69,470.03 L123.45,469.9 L124.2,469.75 L124.96,469.61 L125.71,469.45 L126.47,469.28 L127.22,469.11 L127.98,468.93 L128.73,468.74 L129.49,468.54 L130.24,468.34 L130.99,468.14 L131.75,467.92 L132.5,467.71 L133.26,467.49 L134.01,467.27 L134.77,467.04 L135.52,466.81 L136.28,466.58 L137.03,466.35 L137.79,466.12 L138.54,465.9 L139.3,465.68 L140.05,465.47 L140.81,465.27 L141.56,465.09 L142.32,464.91 L143.07,464.76 L143.83,464.62 L144.58,464.51 L145.34,464.41 L146.09,464.34 L146.85,464.28 L147.6,464.23 L148.36,464.2 L149.11,464.18 L149.87,464.17 L150.62,464.16 L151.38,464.16 L152.13,464.15 L152.89,464.15 L153.64,464.15 L154.4,464.15 L155.15,464.15 L155.91,464.15 L156.66,464.15 L157.42,464.15 L158.17,464.16 L158.93,464.16 L159.68,464.17 L160.44,464.17 L161.19,464.17 L161.95,464.18 L162.7,464.18 L163.46,464.18 L164.21,464.18 L164.97,464.17 L165.72,464.16 L166.48,464.15 L167.23,464.14 L167.99,464.13 L168.74,464.11 L169.5,464.09 L170.25,464.07 L171.01,464.04 L171.76,464.02 L172.51,463.99 L173.27,463.97 L174.02,463.94 L174.78,463.91 L175.53,463.88 L176.29,463.84 L177.04,463.8 L177.8,463.74 L178.55,463.67 L179.31,463.58 L180.06,463.47 L180.82,463.34 L181.57,463.18 L182.33,463 L183.08,462.79 L183.84,462.54 L184.59,462.25 L185.35,461.92 L186.1,461.55 L186.86,461.14 L187.61,460.69 L188.37,460.22 L189.12,459.72 L189.88,459.2 L190.63,458.65 L191.39,458.08 L192.14,457.49 L192.9,456.87 L193.65,456.22 L194.41,455.54 L195.16,454.83 L195.92,454.09 L196.67,453.32 L197.43,452.54 L198.18,451.73 L198.94,450.92 L199.69,450.11 L200.45,449.3 L201.2,448.5 L201.96,447.71 L202.71,446.9 L203.47,446.08 L204.22,445.23 L204.98,444.35 L205.73,443.43 L206.49,442.46 L207.24,441.44 L208,440.38 L208.75,439.28 L209.51,438.14 L210.26,436.97 L211.02,435.77 L211.77,434.54 L212.53,433.27 L213.28,431.98 L214.03,430.65 L214.79,429.29 L215.54,427.92 L216.3,426.58 L217.05,425.29 L217.81,424.08 L218.56,422.98 L219.32,421.99 L220.07,421.08 L220.83,420.27 L221.58,419.53 L222.34,418.86 L223.09,418.26 L223.85,417.71 L224.6,417.22 L225.36,416.81 L226.11,416.46 L226.87,416.19 L227.62,415.99 L228.38,415.88 L229.13,415.86 L229.89,415.91 L230.64,416.04 L231.4,416.23 L232.15,416.49 L232.91,416.81 L233.66,417.18 L234.42,417.59 L235.17,418.06 L235.93,418.55 L236.68,419.09 L237.44,419.65 L238.19,420.24 L238.95,420.86 L239.7,421.5 L240.46,422.16 L241.21,422.84 L241.97,423.54 L242.72,424.26 L243.48,424.99 L244.23,425.72 L244.99,426.47 L245.74,427.22 L246.5,427.98 L247.25,428.74 L248.01,429.51 L248.76,430.28 L249.52,431.05 L250.27,431.83 L251.03,432.61 L251.78,433.39 L252.54,434.17 L253.29,434.95 L254.05,435.74 L254.8,436.52 L254.8,436.52" fill="none" stroke="#3cf024" stroke-width="1.45" stroke-linejoin="round" stroke-linecap="round"/>
</g>
<path d="M47.2,284.5 H254.8" fill="none" stroke="#9c9c9c" stroke-width="1.15"/>
<path d="M254.8,284.5 V491.8" fill="none" stroke="#7a7a7a" stroke-width="1.1"/>
<path d="M47.2,284.5 V491.8 H254.8" fill="none" stroke="#484848" stroke-width="1.1"/>
<path d="M47.2,491.8 v-3.5 M66.07,491.8 v-2.2 M84.95,491.8 v-3.5 M103.82,491.8 v-2.2 M122.69,491.8 v-3.5 M141.56,491.8 v-2.2 M160.44,491.8 v-3.5 M179.31,491.8 v-2.2 M198.18,491.8 v-3.5 M217.05,491.8 v-2.2 M235.93,491.8 v-3.5 M254.8,491.8 v-2.2 M47.2,491.8 h3.5 M47.2,474.53 h2.2 M47.2,457.25 h3.5 M47.2,439.98 h2.2 M47.2,422.7 h3.5 M47.2,405.43 h2.2 M47.2,388.15 h3.5 M47.2,370.88 h2.2 M47.2,353.6 h3.5 M47.2,336.32 h2.2 M47.2,319.05 h3.5 M47.2,301.77 h2.2 M47.2,284.5 h3.5" stroke="#444" stroke-width="0.9" fill="none"/>
<text x="46.6" y="504.2" text-anchor="middle" font-size="10.1" fill="#222" stroke="#222">25</text>
<text x="84.35" y="504.2" text-anchor="middle" font-size="10.1" fill="#222" stroke="#222">35</text>
<text x="122.09" y="504.2" text-anchor="middle" font-size="10.1" fill="#222" stroke="#222">45</text>
<text x="159.84" y="504.2" text-anchor="middle" font-size="10.1" fill="#222" stroke="#222">55</text>
<text x="197.58" y="504.2" text-anchor="middle" font-size="10.1" fill="#222" stroke="#222">65</text>
<text x="235.33" y="504.2" text-anchor="middle" font-size="10.1" fill="#222" stroke="#222">75</text>
<text x="43.8" y="495.4" text-anchor="end" font-size="10.1" fill="#222" stroke="#222">0.0</text>
<text x="43.8" y="460.85" text-anchor="end" font-size="10.1" fill="#222" stroke="#222">0.5</text>
<text x="43.8" y="426.3" text-anchor="end" font-size="10.1" fill="#222" stroke="#222">1.0</text>
<text x="43.8" y="391.75" text-anchor="end" font-size="10.1" fill="#222" stroke="#222">1.5</text>
<text x="43.8" y="357.2" text-anchor="end" font-size="10.1" fill="#222" stroke="#222">2.0</text>
<text x="43.8" y="322.65" text-anchor="end" font-size="10.1" fill="#222" stroke="#222">2.5</text>
<text x="43.8" y="288.1" text-anchor="end" font-size="10.1" fill="#222" stroke="#222">3.0</text>
<text x="230.6" y="310" font-size="26.5" fill="#000" stroke="#000">C</text>
<path d="M53.7,296 H62.5" stroke="#000" stroke-width="1.5"/>
<text x="68.6" y="298.6" font-size="7.4" fill="#222" stroke="#222">FXN wild–type</text>
<path d="M53.7,306.2 H62.5" stroke="#1a1a1a" stroke-width="1.5"/>
<text x="68.6" y="308.8" font-size="7.4" fill="#222" stroke="#222">FXN wild–type</text>
<path d="M53.7,316.4 H62.5" stroke="#b0b0b0" stroke-width="1.5"/>
<text x="68.6" y="319" font-size="7.4" fill="#222" stroke="#222">FXN G130V</text>
<path d="M53.7,326.6 H62.5" stroke="#a0a0a0" stroke-width="1.5"/>
<text x="68.6" y="329.2" font-size="7.4" fill="#222" stroke="#222">FXN G130V</text>
<path d="M53.7,336.8 H62.5" stroke="#1c1cff" stroke-width="1.5"/>
<text x="68.6" y="339.4" font-size="7.4" fill="#222" stroke="#222">NB_16C10</text>
<path d="M53.7,347 H62.5" stroke="#1c1cff" stroke-width="1.5"/>
<text x="68.6" y="349.6" font-size="7.4" fill="#222" stroke="#222">NB_16C10</text>
<path d="M53.7,357.2 H62.5" stroke="#3cf024" stroke-width="1.5"/>
<text x="68.6" y="359.8" font-size="7.4" fill="#222" stroke="#222">NB_16C10:FXN G130V</text>
<path d="M53.7,367.4 H62.5" stroke="#3cf024" stroke-width="1.5"/>
<text x="68.6" y="370" font-size="7.4" fill="#222" stroke="#222">NB_16C10:FXN G130V</text>
<clipPath id="clipD"><rect x="287.9" y="282.4" width="206.9" height="207.1"/></clipPath>
<g clip-path="url(#clipD)">
<path d="M287.9,460.99 L288.65,461.07 L289.4,461.16 L290.16,461.24 L290.91,461.32 L291.66,461.4 L292.41,461.48 L293.17,461.56 L293.92,461.64 L294.67,461.71 L295.42,461.78 L296.18,461.85 L296.93,461.92 L297.68,461.98 L298.43,462.04 L299.19,462.09 L299.94,462.15 L300.69,462.19 L301.44,462.24 L302.19,462.28 L302.95,462.31 L303.7,462.34 L304.45,462.37 L305.2,462.4 L305.96,462.42 L306.71,462.43 L307.46,462.44 L308.21,462.45 L308.97,462.46 L309.72,462.46 L310.47,462.46 L311.22,462.45 L311.98,462.44 L312.73,462.43 L313.48,462.42 L314.23,462.4 L314.99,462.37 L315.74,462.35 L316.49,462.32 L317.24,462.28 L317.99,462.25 L318.75,462.2 L319.5,462.16 L320.25,462.11 L321,462.06 L321.76,462.01 L322.51,461.95 L323.26,461.89 L324.01,461.82 L324.77,461.75 L325.52,461.68 L326.27,461.6 L327.02,461.52 L327.78,461.43 L328.53,461.34 L329.28,461.23 L330.03,461.12 L330.78,460.99 L331.54,460.84 L332.29,460.68 L333.04,460.51 L333.79,460.31 L334.55,460.1 L335.3,459.87 L336.05,459.64 L336.8,459.4 L337.56,459.15 L338.31,458.9 L339.06,458.66 L339.81,458.41 L340.57,458.16 L341.32,457.91 L342.07,457.64 L342.82,457.36 L343.57,457.07 L344.33,456.75 L345.08,456.41 L345.83,456.04 L346.58,455.64 L347.34,455.2 L348.09,454.74 L348.84,454.23 L349.59,453.7 L350.35,453.13 L351.1,452.52 L351.85,451.87 L352.6,451.19 L353.36,450.46 L354.11,449.7 L354.86,448.9 L355.61,448.07 L356.37,447.2 L357.12,446.31 L357.87,445.38 L358.62,444.44 L359.37,443.47 L360.13,442.47 L360.88,441.46 L361.63,440.41 L362.38,439.34 L363.14,438.22 L363.89,437.07 L364.64,435.86 L365.39,434.6 L366.15,433.28 L366.9,431.91 L367.65,430.49 L368.4,429.03 L369.16,427.55 L369.91,426.05 L370.66,424.54 L371.41,423.02 L372.16,421.46 L372.92,419.86 L373.67,418.19 L374.42,416.45 L375.17,414.6 L375.93,412.64 L376.68,410.59 L377.43,408.45 L378.18,406.25 L378.94,404 L379.69,401.72 L380.44,399.42 L381.19,397.12 L381.95,394.81 L382.7,392.51 L383.45,390.22 L384.2,387.94 L384.95,385.66 L385.71,383.38 L386.46,381.11 L387.21,378.82 L387.96,376.53 L388.72,374.21 L389.47,371.89 L390.22,369.54 L390.97,367.19 L391.73,364.83 L392.48,362.48 L393.23,360.13 L393.98,357.79 L394.74,355.46 L395.49,353.16 L396.24,350.88 L396.99,348.64 L397.75,346.46 L398.5,344.35 L399.25,342.31 L400,340.38 L400.75,338.56 L401.51,336.87 L402.26,335.32 L403.01,333.92 L403.76,332.66 L404.52,331.54 L405.27,330.53 L406.02,329.65 L406.77,328.87 L407.53,328.19 L408.28,327.59 L409.03,327.08 L409.78,326.64 L410.54,326.28 L411.29,325.99 L412.04,325.78 L412.79,325.65 L413.54,325.59 L414.3,325.61 L415.05,325.72 L415.8,325.9 L416.55,326.15 L417.31,326.47 L418.06,326.85 L418.81,327.29 L419.56,327.78 L420.32,328.33 L421.07,328.92 L421.82,329.56 L422.57,330.24 L423.33,330.97 L424.08,331.73 L424.83,332.53 L425.58,333.37 L426.33,334.23 L427.09,335.12 L427.84,336.04 L428.59,336.99 L429.34,337.96 L430.1,338.94 L430.85,339.95 L431.6,340.98 L432.35,342.02 L433.11,343.07 L433.86,344.14 L434.61,345.22 L435.36,346.31 L436.12,347.4 L436.87,348.51 L437.62,349.63 L438.37,350.75 L439.13,351.89 L439.88,353.03 L440.63,354.19 L441.38,355.36 L442.13,356.54 L442.89,357.74 L443.64,358.95 L444.39,360.16 L445.14,361.39 L445.9,362.63 L446.65,363.87 L447.4,365.12 L448.15,366.37 L448.91,367.62 L449.66,368.88 L450.41,370.14 L451.16,371.39 L451.92,372.64 L452.67,373.89 L453.42,375.14 L454.17,376.39 L454.92,377.64 L455.68,378.89 L456.43,380.15 L457.18,381.4 L457.93,382.65 L458.69,383.91 L459.44,385.17 L460.19,386.43 L460.94,387.69 L461.7,388.95 L462.45,390.21 L463.2,391.47 L463.95,392.73 L464.71,393.98 L465.46,395.22 L466.21,396.46 L466.96,397.69 L467.71,398.91 L468.47,400.12 L469.22,401.32 L469.97,402.51 L470.72,403.69 L471.48,404.86 L472.23,406.01 L472.98,407.16 L473.73,408.29 L474.49,409.42 L475.24,410.53 L475.99,411.62 L476.74,412.71 L477.5,413.77 L478.25,414.82 L479,415.85 L479.75,416.85 L480.51,417.83 L481.26,418.78 L482.01,419.7 L482.76,420.6 L483.51,421.45 L484.27,422.28 L485.02,423.06 L485.77,423.81 L486.52,424.53 L487.28,425.21 L488.03,425.87 L488.78,426.5 L489.53,427.11 L490.29,427.69 L491.04,428.26 L491.79,428.82 L492.54,429.37 L493.3,429.9 L494.05,430.43 L494.8,430.96 L494.8,430.96" fill="none" stroke="#9a9a9a" stroke-width="1.55" stroke-linejoin="round" stroke-linecap="round"/>
<path d="M287.9,462.02 L288.65,462.1 L289.4,462.18 L290.16,462.26 L290.91,462.34 L291.66,462.42 L292.41,462.49 L293.17,462.57 L293.92,462.64 L294.67,462.71 L295.42,462.77 L296.18,462.84 L296.93,462.9 L297.68,462.96 L298.43,463.01 L299.19,463.06 L299.94,463.11 L300.69,463.15 L301.44,463.18 L302.19,463.22 L302.95,463.25 L303.7,463.27 L304.45,463.29 L305.2,463.31 L305.96,463.33 L306.71,463.34 L307.46,463.35 L308.21,463.35 L308.97,463.36 L309.72,463.36 L310.47,463.35 L311.22,463.35 L311.98,463.34 L312.73,463.33 L313.48,463.32 L314.23,463.3 L314.99,463.28 L315.74,463.26 L316.49,463.23 L317.24,463.2 L317.99,463.17 L318.75,463.13 L319.5,463.09 L320.25,463.04 L321,462.98 L321.76,462.92 L322.51,462.85 L323.26,462.78 L324.01,462.69 L324.77,462.6 L325.52,462.51 L326.27,462.4 L327.02,462.29 L327.78,462.17 L328.53,462.04 L329.28,461.9 L330.03,461.75 L330.78,461.59 L331.54,461.42 L332.29,461.25 L333.04,461.06 L333.79,460.86 L334.55,460.65 L335.3,460.44 L336.05,460.22 L336.8,460.01 L337.56,459.79 L338.31,459.58 L339.06,459.37 L339.81,459.16 L340.57,458.96 L341.32,458.75 L342.07,458.53 L342.82,458.3 L343.57,458.05 L344.33,457.78 L345.08,457.49 L345.83,457.16 L346.58,456.8 L347.34,456.41 L348.09,455.99 L348.84,455.53 L349.59,455.03 L350.35,454.51 L351.1,453.94 L351.85,453.34 L352.6,452.71 L353.36,452.03 L354.11,451.32 L354.86,450.58 L355.61,449.81 L356.37,449 L357.12,448.16 L357.87,447.28 L358.62,446.38 L359.37,445.45 L360.13,444.49 L360.88,443.5 L361.63,442.48 L362.38,441.42 L363.14,440.33 L363.89,439.2 L364.64,438.02 L365.39,436.8 L366.15,435.52 L366.9,434.21 L367.65,432.85 L368.4,431.45 L369.16,430.03 L369.91,428.58 L370.66,427.12 L371.41,425.63 L372.16,424.1 L372.92,422.53 L373.67,420.89 L374.42,419.17 L375.17,417.36 L375.93,415.45 L376.68,413.46 L377.43,411.43 L378.18,409.37 L378.94,407.33 L379.69,405.32 L380.44,403.35 L381.19,401.42 L381.95,399.51 L382.7,397.61 L383.45,395.72 L384.2,393.81 L384.95,391.89 L385.71,389.93 L386.46,387.96 L387.21,385.96 L387.96,383.93 L388.72,381.88 L389.47,379.81 L390.22,377.73 L390.97,375.62 L391.73,373.5 L392.48,371.36 L393.23,369.21 L393.98,367.07 L394.74,364.93 L395.49,362.8 L396.24,360.7 L396.99,358.62 L397.75,356.58 L398.5,354.58 L399.25,352.63 L400,350.74 L400.75,348.91 L401.51,347.15 L402.26,345.48 L403.01,343.9 L403.76,342.41 L404.52,341.03 L405.27,339.77 L406.02,338.62 L406.77,337.59 L407.53,336.67 L408.28,335.85 L409.03,335.13 L409.78,334.52 L410.54,334 L411.29,333.58 L412.04,333.25 L412.79,333.01 L413.54,332.86 L414.3,332.79 L415.05,332.82 L415.8,332.92 L416.55,333.09 L417.31,333.34 L418.06,333.65 L418.81,334.02 L419.56,334.45 L420.32,334.93 L421.07,335.45 L421.82,336.03 L422.57,336.65 L423.33,337.31 L424.08,338.01 L424.83,338.75 L425.58,339.52 L426.33,340.32 L427.09,341.15 L427.84,342.01 L428.59,342.89 L429.34,343.8 L430.1,344.73 L430.85,345.69 L431.6,346.66 L432.35,347.65 L433.11,348.67 L433.86,349.7 L434.61,350.74 L435.36,351.8 L436.12,352.88 L436.87,353.97 L437.62,355.07 L438.37,356.19 L439.13,357.31 L439.88,358.45 L440.63,359.6 L441.38,360.77 L442.13,361.94 L442.89,363.12 L443.64,364.31 L444.39,365.5 L445.14,366.7 L445.9,367.89 L446.65,369.07 L447.4,370.24 L448.15,371.4 L448.91,372.53 L449.66,373.64 L450.41,374.72 L451.16,375.77 L451.92,376.79 L452.67,377.78 L453.42,378.76 L454.17,379.73 L454.92,380.69 L455.68,381.65 L456.43,382.63 L457.18,383.62 L457.93,384.64 L458.69,385.68 L459.44,386.77 L460.19,387.88 L460.94,389.03 L461.7,390.21 L462.45,391.4 L463.2,392.61 L463.95,393.83 L464.71,395.06 L465.46,396.28 L466.21,397.51 L466.96,398.72 L467.71,399.92 L468.47,401.11 L469.22,402.28 L469.97,403.45 L470.72,404.59 L471.48,405.73 L472.23,406.85 L472.98,407.96 L473.73,409.06 L474.49,410.15 L475.24,411.23 L475.99,412.29 L476.74,413.34 L477.5,414.38 L478.25,415.4 L479,416.4 L479.75,417.37 L480.51,418.33 L481.26,419.26 L482.01,420.17 L482.76,421.04 L483.51,421.89 L484.27,422.7 L485.02,423.47 L485.77,424.22 L486.52,424.92 L487.28,425.6 L488.03,426.26 L488.78,426.89 L489.53,427.49 L490.29,428.08 L491.04,428.66 L491.79,429.22 L492.54,429.76 L493.3,430.31 L494.05,430.84 L494.8,431.37 L494.8,431.37" fill="none" stroke="#929292" stroke-width="1.55" stroke-linejoin="round" stroke-linecap="round"/>
<path d="M287.9,468.44 L288.65,468.52 L289.4,468.59 L290.16,468.66 L290.91,468.73 L291.66,468.8 L292.41,468.87 L293.17,468.94 L293.92,469.01 L294.67,469.08 L295.42,469.15 L296.18,469.21 L296.93,469.28 L297.68,469.35 L298.43,469.41 L299.19,469.48 L299.94,469.55 L300.69,469.61 L301.44,469.67 L302.19,469.74 L302.95,469.8 L303.7,469.86 L304.45,469.92 L305.2,469.98 L305.96,470.04 L306.71,470.09 L307.46,470.15 L308.21,470.21 L308.97,470.26 L309.72,470.32 L310.47,470.37 L311.22,470.42 L311.98,470.47 L312.73,470.52 L313.48,470.57 L314.23,470.62 L314.99,470.67 L315.74,470.71 L316.49,470.76 L317.24,470.8 L317.99,470.85 L318.75,470.89 L319.5,470.94 L320.25,470.98 L321,471.02 L321.76,471.07 L322.51,471.11 L323.26,471.15 L324.01,471.19 L324.77,471.23 L325.52,471.28 L326.27,471.32 L327.02,471.36 L327.78,471.4 L328.53,471.44 L329.28,471.48 L330.03,471.52 L330.78,471.55 L331.54,471.59 L332.29,471.62 L333.04,471.65 L333.79,471.67 L334.55,471.7 L335.3,471.72 L336.05,471.73 L336.8,471.75 L337.56,471.76 L338.31,471.76 L339.06,471.76 L339.81,471.76 L340.57,471.75 L341.32,471.73 L342.07,471.72 L342.82,471.69 L343.57,471.67 L344.33,471.64 L345.08,471.6 L345.83,471.56 L346.58,471.52 L347.34,471.47 L348.09,471.41 L348.84,471.36 L349.59,471.29 L350.35,471.23 L351.1,471.16 L351.85,471.08 L352.6,471 L353.36,470.92 L354.11,470.84 L354.86,470.75 L355.61,470.65 L356.37,470.56 L357.12,470.46 L357.87,470.35 L358.62,470.24 L359.37,470.13 L360.13,470.01 L360.88,469.89 L361.63,469.76 L362.38,469.62 L363.14,469.48 L363.89,469.33 L364.64,469.18 L365.39,469.02 L366.15,468.86 L366.9,468.69 L367.65,468.51 L368.4,468.33 L369.16,468.15 L369.91,467.96 L370.66,467.77 L371.41,467.57 L372.16,467.37 L372.92,467.17 L373.67,466.97 L374.42,466.76 L375.17,466.55 L375.93,466.34 L376.68,466.13 L377.43,465.92 L378.18,465.7 L378.94,465.49 L379.69,465.28 L380.44,465.07 L381.19,464.86 L381.95,464.65 L382.7,464.44 L383.45,464.24 L384.2,464.03 L384.95,463.83 L385.71,463.64 L386.46,463.44 L387.21,463.25 L387.96,463.07 L388.72,462.88 L389.47,462.7 L390.22,462.53 L390.97,462.35 L391.73,462.19 L392.48,462.02 L393.23,461.86 L393.98,461.7 L394.74,461.54 L395.49,461.38 L396.24,461.22 L396.99,461.07 L397.75,460.91 L398.5,460.75 L399.25,460.59 L400,460.42 L400.75,460.26 L401.51,460.09 L402.26,459.93 L403.01,459.76 L403.76,459.61 L404.52,459.46 L405.27,459.32 L406.02,459.19 L406.77,459.07 L407.53,458.96 L408.28,458.84 L409.03,458.72 L409.78,458.57 L410.54,458.4 L411.29,458.18 L412.04,457.92 L412.79,457.63 L413.54,457.29 L414.3,456.93 L415.05,456.53 L415.8,456.11 L416.55,455.67 L417.31,455.22 L418.06,454.74 L418.81,454.24 L419.56,453.72 L420.32,453.17 L421.07,452.59 L421.82,451.97 L422.57,451.32 L423.33,450.64 L424.08,449.91 L424.83,449.16 L425.58,448.37 L426.33,447.55 L427.09,446.7 L427.84,445.82 L428.59,444.91 L429.34,443.96 L430.1,442.94 L430.85,441.87 L431.6,440.72 L432.35,439.51 L433.11,438.25 L433.86,436.96 L434.61,435.65 L435.36,434.33 L436.12,432.99 L436.87,431.62 L437.62,430.21 L438.37,428.75 L439.13,427.23 L439.88,425.66 L440.63,424.08 L441.38,422.5 L442.13,420.94 L442.89,419.43 L443.64,417.99 L444.39,416.6 L445.14,415.27 L445.9,413.97 L446.65,412.69 L447.4,411.43 L448.15,410.17 L448.91,408.93 L449.66,407.73 L450.41,406.59 L451.16,405.55 L451.92,404.64 L452.67,403.89 L453.42,403.28 L454.17,402.82 L454.92,402.46 L455.68,402.18 L456.43,401.97 L457.18,401.79 L457.93,401.66 L458.69,401.58 L459.44,401.55 L460.19,401.58 L460.94,401.68 L461.7,401.84 L462.45,402.08 L463.2,402.38 L463.95,402.77 L464.71,403.23 L465.46,403.76 L466.21,404.38 L466.96,405.08 L467.71,405.85 L468.47,406.68 L469.22,407.56 L469.97,408.48 L470.72,409.42 L471.48,410.38 L472.23,411.35 L472.98,412.33 L473.73,413.31 L474.49,414.28 L475.24,415.25 L475.99,416.22 L476.74,417.17 L477.5,418.11 L478.25,419.04 L479,419.96 L479.75,420.87 L480.51,421.77 L481.26,422.66 L482.01,423.54 L482.76,424.41 L483.51,425.27 L484.27,426.12 L485.02,426.96 L485.77,427.8 L486.52,428.62 L487.28,429.44 L488.03,430.25 L488.78,431.06 L489.53,431.86 L490.29,432.66 L491.04,433.45 L491.79,434.24 L492.54,435.03 L493.3,435.81 L494.05,436.6 L494.8,437.38 L494.8,437.38" fill="none" stroke="#000000" stroke-width="1.45" stroke-linejoin="round" stroke-linecap="round"/>
<path d="M287.9,468.79 L288.65,468.87 L289.4,468.94 L290.16,469.02 L290.91,469.1 L291.66,469.17 L292.41,469.25 L293.17,469.32 L293.92,469.4 L294.67,469.47 L295.42,469.54 L296.18,469.61 L296.93,469.69 L297.68,469.76 L298.43,469.83 L299.19,469.89 L299.94,469.96 L300.69,470.03 L301.44,470.09 L302.19,470.16 L302.95,470.22 L303.7,470.28 L304.45,470.34 L305.2,470.4 L305.96,470.46 L306.71,470.52 L307.46,470.57 L308.21,470.63 L308.97,470.68 L309.72,470.73 L310.47,470.79 L311.22,470.84 L311.98,470.89 L312.73,470.93 L313.48,470.98 L314.23,471.03 L314.99,471.08 L315.74,471.12 L316.49,471.17 L317.24,471.21 L317.99,471.26 L318.75,471.3 L319.5,471.34 L320.25,471.39 L321,471.43 L321.76,471.47 L322.51,471.52 L323.26,471.56 L324.01,471.6 L324.77,471.65 L325.52,471.69 L326.27,471.73 L327.02,471.78 L327.78,471.82 L328.53,471.87 L329.28,471.91 L330.03,471.95 L330.78,471.99 L331.54,472.03 L332.29,472.06 L333.04,472.1 L333.79,472.13 L334.55,472.16 L335.3,472.18 L336.05,472.2 L336.8,472.22 L337.56,472.24 L338.31,472.25 L339.06,472.25 L339.81,472.25 L340.57,472.25 L341.32,472.24 L342.07,472.23 L342.82,472.21 L343.57,472.19 L344.33,472.16 L345.08,472.13 L345.83,472.09 L346.58,472.06 L347.34,472.01 L348.09,471.97 L348.84,471.91 L349.59,471.86 L350.35,471.8 L351.1,471.74 L351.85,471.67 L352.6,471.6 L353.36,471.52 L354.11,471.44 L354.86,471.36 L355.61,471.28 L356.37,471.19 L357.12,471.09 L357.87,471 L358.62,470.9 L359.37,470.79 L360.13,470.69 L360.88,470.58 L361.63,470.47 L362.38,470.36 L363.14,470.24 L363.89,470.12 L364.64,470 L365.39,469.88 L366.15,469.75 L366.9,469.62 L367.65,469.49 L368.4,469.36 L369.16,469.22 L369.91,469.09 L370.66,468.94 L371.41,468.8 L372.16,468.66 L372.92,468.51 L373.67,468.36 L374.42,468.21 L375.17,468.05 L375.93,467.9 L376.68,467.75 L377.43,467.6 L378.18,467.44 L378.94,467.29 L379.69,467.15 L380.44,467 L381.19,466.86 L381.95,466.72 L382.7,466.58 L383.45,466.45 L384.2,466.33 L384.95,466.2 L385.71,466.08 L386.46,465.96 L387.21,465.85 L387.96,465.73 L388.72,465.62 L389.47,465.51 L390.22,465.39 L390.97,465.28 L391.73,465.17 L392.48,465.06 L393.23,464.95 L393.98,464.83 L394.74,464.72 L395.49,464.61 L396.24,464.49 L396.99,464.38 L397.75,464.26 L398.5,464.14 L399.25,464.02 L400,463.9 L400.75,463.77 L401.51,463.64 L402.26,463.51 L403.01,463.38 L403.76,463.24 L404.52,463.1 L405.27,462.95 L406.02,462.79 L406.77,462.63 L407.53,462.46 L408.28,462.29 L409.03,462.09 L409.78,461.89 L410.54,461.66 L411.29,461.42 L412.04,461.15 L412.79,460.87 L413.54,460.56 L414.3,460.23 L415.05,459.88 L415.8,459.51 L416.55,459.13 L417.31,458.72 L418.06,458.28 L418.81,457.82 L419.56,457.33 L420.32,456.8 L421.07,456.24 L421.82,455.63 L422.57,454.98 L423.33,454.29 L424.08,453.54 L424.83,452.75 L425.58,451.92 L426.33,451.06 L427.09,450.15 L427.84,449.21 L428.59,448.23 L429.34,447.2 L430.1,446.12 L430.85,444.97 L431.6,443.76 L432.35,442.49 L433.11,441.17 L433.86,439.81 L434.61,438.42 L435.36,437 L436.12,435.57 L436.87,434.12 L437.62,432.65 L438.37,431.17 L439.13,429.67 L439.88,428.16 L440.63,426.66 L441.38,425.15 L442.13,423.66 L442.89,422.19 L443.64,420.75 L444.39,419.34 L445.14,417.97 L445.9,416.67 L446.65,415.43 L447.4,414.27 L448.15,413.19 L448.91,412.19 L449.66,411.28 L450.41,410.46 L451.16,409.73 L451.92,409.09 L452.67,408.54 L453.42,408.08 L454.17,407.7 L454.92,407.39 L455.68,407.16 L456.43,407.01 L457.18,406.92 L457.93,406.91 L458.69,406.98 L459.44,407.1 L460.19,407.3 L460.94,407.55 L461.7,407.86 L462.45,408.23 L463.2,408.65 L463.95,409.12 L464.71,409.65 L465.46,410.23 L466.21,410.87 L466.96,411.57 L467.71,412.32 L468.47,413.11 L469.22,413.93 L469.97,414.77 L470.72,415.63 L471.48,416.5 L472.23,417.38 L472.98,418.25 L473.73,419.13 L474.49,420 L475.24,420.87 L475.99,421.73 L476.74,422.59 L477.5,423.44 L478.25,424.28 L479,425.12 L479.75,425.95 L480.51,426.77 L481.26,427.59 L482.01,428.41 L482.76,429.22 L483.51,430.03 L484.27,430.83 L485.02,431.64 L485.77,432.43 L486.52,433.23 L487.28,434.02 L488.03,434.81 L488.78,435.6 L489.53,436.39 L490.29,437.17 L491.04,437.96 L491.79,438.74 L492.54,439.52 L493.3,440.31 L494.05,441.09 L494.8,441.87 L494.8,441.87" fill="none" stroke="#111111" stroke-width="1.45" stroke-linejoin="round" stroke-linecap="round"/>
<path d="M287.9,448.91 L288.65,449.06 L289.4,449.22 L290.16,449.38 L290.91,449.53 L291.66,449.69 L292.41,449.84 L293.17,450 L293.92,450.15 L294.67,450.31 L295.42,450.46 L296.18,450.61 L296.93,450.77 L297.68,450.92 L298.43,451.08 L299.19,451.23 L299.94,451.38 L300.69,451.53 L301.44,451.68 L302.19,451.84 L302.95,451.99 L303.7,452.14 L304.45,452.29 L305.2,452.43 L305.96,452.58 L306.71,452.73 L307.46,452.88 L308.21,453.02 L308.97,453.17 L309.72,453.31 L310.47,453.46 L311.22,453.6 L311.98,453.74 L312.73,453.88 L313.48,454.02 L314.23,454.16 L314.99,454.3 L315.74,454.44 L316.49,454.58 L317.24,454.71 L317.99,454.85 L318.75,454.98 L319.5,455.12 L320.25,455.25 L321,455.38 L321.76,455.51 L322.51,455.64 L323.26,455.77 L324.01,455.9 L324.77,456.02 L325.52,456.15 L326.27,456.28 L327.02,456.4 L327.78,456.52 L328.53,456.64 L329.28,456.76 L330.03,456.88 L330.78,457 L331.54,457.12 L332.29,457.24 L333.04,457.35 L333.79,457.47 L334.55,457.58 L335.3,457.69 L336.05,457.8 L336.8,457.91 L337.56,458.02 L338.31,458.13 L339.06,458.23 L339.81,458.34 L340.57,458.44 L341.32,458.55 L342.07,458.65 L342.82,458.75 L343.57,458.85 L344.33,458.94 L345.08,459.04 L345.83,459.13 L346.58,459.22 L347.34,459.31 L348.09,459.4 L348.84,459.49 L349.59,459.57 L350.35,459.65 L351.1,459.73 L351.85,459.81 L352.6,459.88 L353.36,459.96 L354.11,460.03 L354.86,460.1 L355.61,460.16 L356.37,460.23 L357.12,460.29 L357.87,460.35 L358.62,460.4 L359.37,460.46 L360.13,460.51 L360.88,460.55 L361.63,460.6 L362.38,460.64 L363.14,460.68 L363.89,460.71 L364.64,460.75 L365.39,460.77 L366.15,460.8 L366.9,460.82 L367.65,460.84 L368.4,460.86 L369.16,460.88 L369.91,460.89 L370.66,460.9 L371.41,460.9 L372.16,460.9 L372.92,460.9 L373.67,460.9 L374.42,460.89 L375.17,460.88 L375.93,460.87 L376.68,460.86 L377.43,460.84 L378.18,460.82 L378.94,460.8 L379.69,460.77 L380.44,460.74 L381.19,460.71 L381.95,460.68 L382.7,460.64 L383.45,460.6 L384.2,460.56 L384.95,460.51 L385.71,460.47 L386.46,460.42 L387.21,460.36 L387.96,460.31 L388.72,460.25 L389.47,460.19 L390.22,460.13 L390.97,460.06 L391.73,460 L392.48,459.93 L393.23,459.86 L393.98,459.79 L394.74,459.72 L395.49,459.65 L396.24,459.58 L396.99,459.51 L397.75,459.44 L398.5,459.38 L399.25,459.31 L400,459.25 L400.75,459.19 L401.51,459.13 L402.26,459.08 L403.01,459.03 L403.76,458.98 L404.52,458.94 L405.27,458.9 L406.02,458.87 L406.77,458.84 L407.53,458.82 L408.28,458.8 L409.03,458.79 L409.78,458.78 L410.54,458.77 L411.29,458.77 L412.04,458.78 L412.79,458.79 L413.54,458.8 L414.3,458.82 L415.05,458.84 L415.8,458.87 L416.55,458.9 L417.31,458.93 L418.06,458.97 L418.81,459.01 L419.56,459.05 L420.32,459.1 L421.07,459.15 L421.82,459.21 L422.57,459.27 L423.33,459.33 L424.08,459.39 L424.83,459.45 L425.58,459.52 L426.33,459.59 L427.09,459.66 L427.84,459.74 L428.59,459.81 L429.34,459.89 L430.1,459.97 L430.85,460.05 L431.6,460.12 L432.35,460.2 L433.11,460.29 L433.86,460.37 L434.61,460.45 L435.36,460.53 L436.12,460.61 L436.87,460.69 L437.62,460.77 L438.37,460.85 L439.13,460.93 L439.88,461.01 L440.63,461.09 L441.38,461.16 L442.13,461.24 L442.89,461.31 L443.64,461.39 L444.39,461.46 L445.14,461.54 L445.9,461.61 L446.65,461.68 L447.4,461.76 L448.15,461.83 L448.91,461.9 L449.66,461.97 L450.41,462.05 L451.16,462.12 L451.92,462.19 L452.67,462.27 L453.42,462.34 L454.17,462.41 L454.92,462.49 L455.68,462.56 L456.43,462.64 L457.18,462.72 L457.93,462.79 L458.69,462.87 L459.44,462.95 L460.19,463.02 L460.94,463.1 L461.7,463.18 L462.45,463.26 L463.2,463.34 L463.95,463.42 L464.71,463.5 L465.46,463.58 L466.21,463.66 L466.96,463.73 L467.71,463.81 L468.47,463.89 L469.22,463.97 L469.97,464.05 L470.72,464.13 L471.48,464.2 L472.23,464.28 L472.98,464.35 L473.73,464.43 L474.49,464.5 L475.24,464.58 L475.99,464.65 L476.74,464.72 L477.5,464.79 L478.25,464.86 L479,464.93 L479.75,465 L480.51,465.06 L481.26,465.13 L482.01,465.19 L482.76,465.26 L483.51,465.32 L484.27,465.39 L485.02,465.45 L485.77,465.51 L486.52,465.57 L487.28,465.64 L488.03,465.7 L488.78,465.76 L489.53,465.82 L490.29,465.88 L491.04,465.94 L491.79,466 L492.54,466.06 L493.3,466.12 L494.05,466.18 L494.8,466.24 L494.8,466.24" fill="none" stroke="#1c1cff" stroke-width="1.45" stroke-linejoin="round" stroke-linecap="round"/>
<path d="M287.9,451.88 L288.65,451.99 L289.4,452.11 L290.16,452.23 L290.91,452.35 L291.66,452.47 L292.41,452.58 L293.17,452.7 L293.92,452.82 L294.67,452.94 L295.42,453.06 L296.18,453.17 L296.93,453.29 L297.68,453.41 L298.43,453.53 L299.19,453.65 L299.94,453.77 L300.69,453.89 L301.44,454.01 L302.19,454.13 L302.95,454.25 L303.7,454.37 L304.45,454.5 L305.2,454.62 L305.96,454.74 L306.71,454.86 L307.46,454.99 L308.21,455.11 L308.97,455.23 L309.72,455.36 L310.47,455.48 L311.22,455.61 L311.98,455.74 L312.73,455.86 L313.48,455.99 L314.23,456.12 L314.99,456.25 L315.74,456.37 L316.49,456.5 L317.24,456.63 L317.99,456.76 L318.75,456.88 L319.5,457.01 L320.25,457.14 L321,457.26 L321.76,457.39 L322.51,457.51 L323.26,457.64 L324.01,457.76 L324.77,457.88 L325.52,458 L326.27,458.12 L327.02,458.24 L327.78,458.35 L328.53,458.47 L329.28,458.58 L330.03,458.69 L330.78,458.8 L331.54,458.91 L332.29,459.01 L333.04,459.11 L333.79,459.21 L334.55,459.31 L335.3,459.41 L336.05,459.5 L336.8,459.59 L337.56,459.68 L338.31,459.76 L339.06,459.84 L339.81,459.92 L340.57,460 L341.32,460.07 L342.07,460.14 L342.82,460.21 L343.57,460.28 L344.33,460.34 L345.08,460.4 L345.83,460.46 L346.58,460.51 L347.34,460.56 L348.09,460.62 L348.84,460.66 L349.59,460.71 L350.35,460.75 L351.1,460.79 L351.85,460.83 L352.6,460.87 L353.36,460.91 L354.11,460.94 L354.86,460.97 L355.61,461 L356.37,461.03 L357.12,461.05 L357.87,461.07 L358.62,461.09 L359.37,461.11 L360.13,461.13 L360.88,461.15 L361.63,461.16 L362.38,461.18 L363.14,461.19 L363.89,461.2 L364.64,461.2 L365.39,461.21 L366.15,461.22 L366.9,461.22 L367.65,461.22 L368.4,461.22 L369.16,461.22 L369.91,461.22 L370.66,461.21 L371.41,461.21 L372.16,461.2 L372.92,461.19 L373.67,461.18 L374.42,461.17 L375.17,461.15 L375.93,461.14 L376.68,461.12 L377.43,461.1 L378.18,461.08 L378.94,461.05 L379.69,461.03 L380.44,461 L381.19,460.97 L381.95,460.94 L382.7,460.91 L383.45,460.88 L384.2,460.84 L384.95,460.8 L385.71,460.76 L386.46,460.72 L387.21,460.68 L387.96,460.63 L388.72,460.58 L389.47,460.53 L390.22,460.48 L390.97,460.43 L391.73,460.37 L392.48,460.31 L393.23,460.26 L393.98,460.2 L394.74,460.14 L395.49,460.08 L396.24,460.02 L396.99,459.96 L397.75,459.9 L398.5,459.84 L399.25,459.78 L400,459.73 L400.75,459.67 L401.51,459.62 L402.26,459.56 L403.01,459.51 L403.76,459.47 L404.52,459.42 L405.27,459.38 L406.02,459.34 L406.77,459.31 L407.53,459.27 L408.28,459.25 L409.03,459.22 L409.78,459.2 L410.54,459.18 L411.29,459.17 L412.04,459.16 L412.79,459.15 L413.54,459.15 L414.3,459.16 L415.05,459.17 L415.8,459.18 L416.55,459.2 L417.31,459.22 L418.06,459.25 L418.81,459.28 L419.56,459.32 L420.32,459.36 L421.07,459.41 L421.82,459.46 L422.57,459.52 L423.33,459.58 L424.08,459.64 L424.83,459.71 L425.58,459.78 L426.33,459.85 L427.09,459.93 L427.84,460.01 L428.59,460.09 L429.34,460.17 L430.1,460.25 L430.85,460.34 L431.6,460.42 L432.35,460.51 L433.11,460.59 L433.86,460.68 L434.61,460.77 L435.36,460.86 L436.12,460.94 L436.87,461.03 L437.62,461.11 L438.37,461.2 L439.13,461.28 L439.88,461.36 L440.63,461.44 L441.38,461.52 L442.13,461.59 L442.89,461.67 L443.64,461.74 L444.39,461.81 L445.14,461.89 L445.9,461.96 L446.65,462.03 L447.4,462.1 L448.15,462.17 L448.91,462.24 L449.66,462.31 L450.41,462.38 L451.16,462.44 L451.92,462.51 L452.67,462.58 L453.42,462.65 L454.17,462.72 L454.92,462.78 L455.68,462.85 L456.43,462.92 L457.18,462.99 L457.93,463.06 L458.69,463.13 L459.44,463.2 L460.19,463.27 L460.94,463.34 L461.7,463.42 L462.45,463.49 L463.2,463.56 L463.95,463.63 L464.71,463.71 L465.46,463.78 L466.21,463.85 L466.96,463.92 L467.71,464 L468.47,464.07 L469.22,464.14 L469.97,464.21 L470.72,464.29 L471.48,464.36 L472.23,464.43 L472.98,464.5 L473.73,464.57 L474.49,464.65 L475.24,464.72 L475.99,464.79 L476.74,464.86 L477.5,464.93 L478.25,464.99 L479,465.06 L479.75,465.13 L480.51,465.2 L481.26,465.27 L482.01,465.33 L482.76,465.4 L483.51,465.47 L484.27,465.53 L485.02,465.6 L485.77,465.67 L486.52,465.73 L487.28,465.8 L488.03,465.86 L488.78,465.93 L489.53,465.99 L490.29,466.06 L491.04,466.12 L491.79,466.19 L492.54,466.25 L493.3,466.31 L494.05,466.38 L494.8,466.44 L494.8,466.44" fill="none" stroke="#1c1cff" stroke-width="1.45" stroke-linejoin="round" stroke-linecap="round"/>
<path d="M287.9,452.91 L288.65,452.99 L289.4,453.06 L290.16,453.14 L290.91,453.21 L291.66,453.29 L292.41,453.36 L293.17,453.44 L293.92,453.51 L294.67,453.59 L295.42,453.66 L296.18,453.74 L296.93,453.82 L297.68,453.89 L298.43,453.97 L299.19,454.05 L299.94,454.13 L300.69,454.2 L301.44,454.28 L302.19,454.36 L302.95,454.44 L303.7,454.52 L304.45,454.6 L305.2,454.68 L305.96,454.76 L306.71,454.85 L307.46,454.93 L308.21,455.01 L308.97,455.1 L309.72,455.18 L310.47,455.27 L311.22,455.35 L311.98,455.44 L312.73,455.53 L313.48,455.62 L314.23,455.71 L314.99,455.8 L315.74,455.88 L316.49,455.97 L317.24,456.06 L317.99,456.15 L318.75,456.24 L319.5,456.33 L320.25,456.42 L321,456.51 L321.76,456.59 L322.51,456.68 L323.26,456.76 L324.01,456.85 L324.77,456.93 L325.52,457.01 L326.27,457.09 L327.02,457.17 L327.78,457.24 L328.53,457.32 L329.28,457.39 L330.03,457.46 L330.78,457.53 L331.54,457.59 L332.29,457.66 L333.04,457.72 L333.79,457.78 L334.55,457.83 L335.3,457.88 L336.05,457.93 L336.8,457.98 L337.56,458.02 L338.31,458.06 L339.06,458.1 L339.81,458.13 L340.57,458.16 L341.32,458.18 L342.07,458.2 L342.82,458.22 L343.57,458.23 L344.33,458.24 L345.08,458.25 L345.83,458.26 L346.58,458.26 L347.34,458.25 L348.09,458.24 L348.84,458.23 L349.59,458.22 L350.35,458.2 L351.1,458.18 L351.85,458.15 L352.6,458.12 L353.36,458.08 L354.11,458.05 L354.86,458 L355.61,457.96 L356.37,457.91 L357.12,457.86 L357.87,457.8 L358.62,457.74 L359.37,457.67 L360.13,457.6 L360.88,457.53 L361.63,457.45 L362.38,457.37 L363.14,457.28 L363.89,457.19 L364.64,457.1 L365.39,457 L366.15,456.9 L366.9,456.79 L367.65,456.68 L368.4,456.57 L369.16,456.46 L369.91,456.34 L370.66,456.22 L371.41,456.09 L372.16,455.96 L372.92,455.83 L373.67,455.7 L374.42,455.57 L375.17,455.43 L375.93,455.29 L376.68,455.15 L377.43,455.01 L378.18,454.87 L378.94,454.72 L379.69,454.58 L380.44,454.43 L381.19,454.28 L381.95,454.14 L382.7,453.99 L383.45,453.84 L384.2,453.69 L384.95,453.54 L385.71,453.39 L386.46,453.24 L387.21,453.09 L387.96,452.94 L388.72,452.79 L389.47,452.64 L390.22,452.49 L390.97,452.35 L391.73,452.2 L392.48,452.06 L393.23,451.91 L393.98,451.77 L394.74,451.62 L395.49,451.48 L396.24,451.33 L396.99,451.19 L397.75,451.04 L398.5,450.89 L399.25,450.75 L400,450.6 L400.75,450.45 L401.51,450.3 L402.26,450.14 L403.01,449.99 L403.76,449.83 L404.52,449.67 L405.27,449.51 L406.02,449.35 L406.77,449.18 L407.53,449.02 L408.28,448.84 L409.03,448.66 L409.78,448.48 L410.54,448.28 L411.29,448.07 L412.04,447.85 L412.79,447.62 L413.54,447.37 L414.3,447.1 L415.05,446.81 L415.8,446.49 L416.55,446.16 L417.31,445.8 L418.06,445.41 L418.81,445 L419.56,444.55 L420.32,444.08 L421.07,443.57 L421.82,443.02 L422.57,442.44 L423.33,441.83 L424.08,441.19 L424.83,440.51 L425.58,439.8 L426.33,439.05 L427.09,438.25 L427.84,437.39 L428.59,436.45 L429.34,435.42 L430.1,434.27 L430.85,433.01 L431.6,431.62 L432.35,430.1 L433.11,428.46 L433.86,426.68 L434.61,424.78 L435.36,422.79 L436.12,420.76 L436.87,418.74 L437.62,416.77 L438.37,414.84 L439.13,412.94 L439.88,411.05 L440.63,409.17 L441.38,407.28 L442.13,405.42 L442.89,403.59 L443.64,401.83 L444.39,400.14 L445.14,398.55 L445.9,397.07 L446.65,395.73 L447.4,394.55 L448.15,393.54 L448.91,392.73 L449.66,392.09 L450.41,391.61 L451.16,391.27 L451.92,391.06 L452.67,390.94 L453.42,390.92 L454.17,390.97 L454.92,391.08 L455.68,391.27 L456.43,391.52 L457.18,391.83 L457.93,392.2 L458.69,392.62 L459.44,393.1 L460.19,393.61 L460.94,394.17 L461.7,394.77 L462.45,395.4 L463.2,396.06 L463.95,396.75 L464.71,397.46 L465.46,398.18 L466.21,398.91 L466.96,399.65 L467.71,400.39 L468.47,401.14 L469.22,401.87 L469.97,402.61 L470.72,403.33 L471.48,404.05 L472.23,404.77 L472.98,405.47 L473.73,406.17 L474.49,406.86 L475.24,407.55 L475.99,408.23 L476.74,408.9 L477.5,409.56 L478.25,410.21 L479,410.86 L479.75,411.49 L480.51,412.12 L481.26,412.74 L482.01,413.35 L482.76,413.95 L483.51,414.55 L484.27,415.14 L485.02,415.72 L485.77,416.3 L486.52,416.88 L487.28,417.44 L488.03,418.01 L488.78,418.57 L489.53,419.12 L490.29,419.68 L491.04,420.23 L491.79,420.77 L492.54,421.32 L493.3,421.86 L494.05,422.41 L494.8,422.95 L494.8,422.95" fill="none" stroke="#ff3cff" stroke-width="1.45" stroke-linejoin="round" stroke-linecap="round"/>
<path d="M287.9,455.67 L288.65,455.7 L289.4,455.73 L290.16,455.77 L290.91,455.8 L291.66,455.83 L292.41,455.86 L293.17,455.89 L293.92,455.92 L294.67,455.96 L295.42,455.99 L296.18,456.03 L296.93,456.06 L297.68,456.1 L298.43,456.14 L299.19,456.17 L299.94,456.22 L300.69,456.26 L301.44,456.3 L302.19,456.34 L302.95,456.39 L303.7,456.44 L304.45,456.49 L305.2,456.54 L305.96,456.59 L306.71,456.64 L307.46,456.7 L308.21,456.76 L308.97,456.82 L309.72,456.89 L310.47,456.95 L311.22,457.02 L311.98,457.09 L312.73,457.16 L313.48,457.24 L314.23,457.32 L314.99,457.4 L315.74,457.48 L316.49,457.56 L317.24,457.64 L317.99,457.73 L318.75,457.81 L319.5,457.9 L320.25,457.99 L321,458.08 L321.76,458.16 L322.51,458.25 L323.26,458.34 L324.01,458.42 L324.77,458.51 L325.52,458.6 L326.27,458.68 L327.02,458.76 L327.78,458.84 L328.53,458.92 L329.28,459 L330.03,459.08 L330.78,459.15 L331.54,459.22 L332.29,459.29 L333.04,459.35 L333.79,459.42 L334.55,459.48 L335.3,459.53 L336.05,459.58 L336.8,459.63 L337.56,459.68 L338.31,459.72 L339.06,459.75 L339.81,459.79 L340.57,459.81 L341.32,459.84 L342.07,459.86 L342.82,459.87 L343.57,459.88 L344.33,459.89 L345.08,459.89 L345.83,459.89 L346.58,459.88 L347.34,459.87 L348.09,459.86 L348.84,459.84 L349.59,459.81 L350.35,459.79 L351.1,459.76 L351.85,459.72 L352.6,459.68 L353.36,459.64 L354.11,459.59 L354.86,459.53 L355.61,459.48 L356.37,459.42 L357.12,459.35 L357.87,459.28 L358.62,459.21 L359.37,459.13 L360.13,459.05 L360.88,458.96 L361.63,458.87 L362.38,458.78 L363.14,458.68 L363.89,458.57 L364.64,458.47 L365.39,458.35 L366.15,458.24 L366.9,458.12 L367.65,458 L368.4,457.87 L369.16,457.74 L369.91,457.61 L370.66,457.47 L371.41,457.33 L372.16,457.19 L372.92,457.05 L373.67,456.91 L374.42,456.76 L375.17,456.61 L375.93,456.46 L376.68,456.31 L377.43,456.16 L378.18,456 L378.94,455.85 L379.69,455.69 L380.44,455.54 L381.19,455.38 L381.95,455.22 L382.7,455.06 L383.45,454.91 L384.2,454.75 L384.95,454.59 L385.71,454.44 L386.46,454.28 L387.21,454.13 L387.96,453.98 L388.72,453.83 L389.47,453.68 L390.22,453.53 L390.97,453.38 L391.73,453.24 L392.48,453.09 L393.23,452.95 L393.98,452.81 L394.74,452.67 L395.49,452.53 L396.24,452.38 L396.99,452.24 L397.75,452.1 L398.5,451.96 L399.25,451.82 L400,451.67 L400.75,451.53 L401.51,451.38 L402.26,451.23 L403.01,451.08 L403.76,450.93 L404.52,450.77 L405.27,450.61 L406.02,450.45 L406.77,450.29 L407.53,450.12 L408.28,449.95 L409.03,449.77 L409.78,449.58 L410.54,449.39 L411.29,449.18 L412.04,448.96 L412.79,448.73 L413.54,448.48 L414.3,448.22 L415.05,447.93 L415.8,447.63 L416.55,447.31 L417.31,446.96 L418.06,446.59 L418.81,446.19 L419.56,445.77 L420.32,445.32 L421.07,444.84 L421.82,444.32 L422.57,443.77 L423.33,443.18 L424.08,442.56 L424.83,441.89 L425.58,441.18 L426.33,440.42 L427.09,439.6 L427.84,438.73 L428.59,437.78 L429.34,436.76 L430.1,435.65 L430.85,434.45 L431.6,433.15 L432.35,431.71 L433.11,430.14 L433.86,428.41 L434.61,426.51 L435.36,424.52 L436.12,422.48 L436.87,420.47 L437.62,418.53 L438.37,416.67 L439.13,414.86 L439.88,413.07 L440.63,411.29 L441.38,409.52 L442.13,407.79 L442.89,406.14 L443.64,404.59 L444.39,403.18 L445.14,401.9 L445.9,400.75 L446.65,399.72 L447.4,398.82 L448.15,398.03 L448.91,397.34 L449.66,396.76 L450.41,396.27 L451.16,395.88 L451.92,395.57 L452.67,395.35 L453.42,395.21 L454.17,395.13 L454.92,395.13 L455.68,395.19 L456.43,395.32 L457.18,395.5 L457.93,395.75 L458.69,396.06 L459.44,396.43 L460.19,396.85 L460.94,397.34 L461.7,397.89 L462.45,398.48 L463.2,399.12 L463.95,399.8 L464.71,400.51 L465.46,401.24 L466.21,401.98 L466.96,402.74 L467.71,403.49 L468.47,404.24 L469.22,404.98 L469.97,405.71 L470.72,406.43 L471.48,407.13 L472.23,407.82 L472.98,408.51 L473.73,409.18 L474.49,409.84 L475.24,410.5 L475.99,411.14 L476.74,411.78 L477.5,412.41 L478.25,413.03 L479,413.64 L479.75,414.25 L480.51,414.86 L481.26,415.45 L482.01,416.05 L482.76,416.63 L483.51,417.21 L484.27,417.79 L485.02,418.37 L485.77,418.93 L486.52,419.5 L487.28,420.06 L488.03,420.62 L488.78,421.18 L489.53,421.73 L490.29,422.29 L491.04,422.84 L491.79,423.39 L492.54,423.94 L493.3,424.48 L494.05,425.03 L494.8,425.58 L494.8,425.58" fill="none" stroke="#ff3cff" stroke-width="1.45" stroke-linejoin="round" stroke-linecap="round"/>
</g>
<path d="M287.9,282.4 H494.8" fill="none" stroke="#9c9c9c" stroke-width="1.15"/>
<path d="M494.8,282.4 V489.5" fill="none" stroke="#7a7a7a" stroke-width="1.1"/>
<path d="M287.9,282.4 V489.5 H494.8" fill="none" stroke="#484848" stroke-width="1.1"/>
<path d="M287.9,489.5 v-3.5 M306.71,489.5 v-2.2 M325.52,489.5 v-3.5 M344.33,489.5 v-2.2 M363.14,489.5 v-3.5 M381.95,489.5 v-2.2 M400.75,489.5 v-3.5 M419.56,489.5 v-2.2 M438.37,489.5 v-3.5 M457.18,489.5 v-2.2 M475.99,489.5 v-3.5 M494.8,489.5 v-2.2 M287.9,489.5 h3.5 M287.9,472.24 h2.2 M287.9,454.98 h3.5 M287.9,437.73 h2.2 M287.9,420.47 h3.5 M287.9,403.21 h2.2 M287.9,385.95 h3.5 M287.9,368.69 h2.2 M287.9,351.43 h3.5 M287.9,334.17 h2.2 M287.9,316.92 h3.5 M287.9,299.66 h2.2 M287.9,282.4 h3.5" stroke="#444" stroke-width="0.9" fill="none"/>
<text x="287.3" y="501.9" text-anchor="middle" font-size="10.1" fill="#222" stroke="#222">25</text>
<text x="324.92" y="501.9" text-anchor="middle" font-size="10.1" fill="#222" stroke="#222">35</text>
<text x="362.54" y="501.9" text-anchor="middle" font-size="10.1" fill="#222" stroke="#222">45</text>
<text x="400.15" y="501.9" text-anchor="middle" font-size="10.1" fill="#222" stroke="#222">55</text>
<text x="437.77" y="501.9" text-anchor="middle" font-size="10.1" fill="#222" stroke="#222">65</text>
<text x="475.39" y="501.9" text-anchor="middle" font-size="10.1" fill="#222" stroke="#222">75</text>
<text x="284.5" y="493.1" text-anchor="end" font-size="10.1" fill="#222" stroke="#222">0.0</text>
<text x="284.5" y="458.58" text-anchor="end" font-size="10.1" fill="#222" stroke="#222">0.5</text>
<text x="284.5" y="424.07" text-anchor="end" font-size="10.1" fill="#222" stroke="#222">1.0</text>
<text x="284.5" y="389.55" text-anchor="end" font-size="10.1" fill="#222" stroke="#222">1.5</text>
<text x="284.5" y="355.03" text-anchor="end" font-size="10.1" fill="#222" stroke="#222">2.0</text>
<text x="284.5" y="320.52" text-anchor="end" font-size="10.1" fill="#222" stroke="#222">2.5</text>
<text x="284.5" y="286" text-anchor="end" font-size="10.1" fill="#222" stroke="#222">3.0</text>
<text x="470.8" y="308.5" font-size="26.5" fill="#000" stroke="#000">D</text>
<path d="M293.9,293.2 H303" stroke="#000" stroke-width="1.5"/>
<text x="308.6" y="295.8" font-size="7.4" fill="#222" stroke="#222">FXN wild–type</text>
<path d="M293.9,303.4 H303" stroke="#1a1a1a" stroke-width="1.5"/>
<text x="308.6" y="306" font-size="7.4" fill="#222" stroke="#222">FXN wild–type</text>
<path d="M293.9,313.6 H303" stroke="#b0b0b0" stroke-width="1.5"/>
<text x="308.6" y="316.2" font-size="7.4" fill="#222" stroke="#222">FXN G130V</text>
<path d="M293.9,323.8 H303" stroke="#a0a0a0" stroke-width="1.5"/>
<text x="308.6" y="326.4" font-size="7.4" fill="#222" stroke="#222">FXN G130V</text>
<path d="M293.9,334 H303" stroke="#1c1cff" stroke-width="1.5"/>
<text x="308.6" y="336.6" font-size="7.4" fill="#222" stroke="#222">NB_28F6</text>
<path d="M293.9,344.2 H303" stroke="#1c1cff" stroke-width="1.5"/>
<text x="308.6" y="346.8" font-size="7.4" fill="#222" stroke="#222">NB_28F6</text>
<path d="M293.9,354.4 H303" stroke="#ff3cff" stroke-width="1.5"/>
<text x="308.6" y="357" font-size="7.4" fill="#222" stroke="#222">NB_28F6:FXN G130V</text>
<path d="M293.9,364.6 H303" stroke="#ff3cff" stroke-width="1.5"/>
<text x="308.6" y="367.2" font-size="7.4" fill="#222" stroke="#222">NB_28F6:FXN G130V</text>
<text x="212.1" y="269.4" font-size="17.6" fill="#111" stroke="#111">Temperature (°C)</text>
<text x="210.1" y="527.3" font-size="17.55" fill="#111" stroke="#111">Temperature (°C)</text>
<text transform="translate(13.9,239.2) rotate(-90)" text-anchor="middle" font-size="17.55" fill="#111" stroke="#111">Fluorescence intensity (a.u.)</text>
<rect x="558" y="55.2" width="12.8" height="83.1" fill="#d0da98" stroke="#151515" stroke-width="1.15"/>
<circle cx="558.9" cy="54.4" r="2.4" fill="#000"/>
<circle cx="564.2" cy="51.73" r="2.4" fill="#000"/>
<circle cx="569.1" cy="53.86" r="2.4" fill="#000"/>
<rect x="579.2" y="129.75" width="12.8" height="8.55" fill="#d0da98" stroke="#151515" stroke-width="1.15"/>
<circle cx="581" cy="130.28" r="2.4" fill="#000"/>
<circle cx="586.3" cy="127.61" r="2.4" fill="#000"/>
<circle cx="590.4" cy="127.61" r="2.4" fill="#000"/>
<rect x="600.3" y="32.76" width="12.8" height="105.54" fill="#d0da98" stroke="#151515" stroke-width="1.15"/>
<circle cx="601.6" cy="31.42" r="2.4" fill="#000"/>
<circle cx="606.6" cy="30.35" r="2.4" fill="#000"/>
<circle cx="611.4" cy="31.95" r="2.4" fill="#000"/>
<rect x="621.3" y="39.97" width="12.8" height="98.33" fill="#d0da98" stroke="#151515" stroke-width="1.15"/>
<circle cx="622.9" cy="39.44" r="2.4" fill="#000"/>
<circle cx="627.6" cy="37.83" r="2.4" fill="#000"/>
<circle cx="632.4" cy="38.37" r="2.4" fill="#000"/>
<rect x="642.4" y="32.11" width="12.8" height="106.19" fill="#d0da98" stroke="#151515" stroke-width="1.15"/>
<path d="M648.8,36.76 V27.31 M646.6,27.31 h4.4" stroke="#333" stroke-width="0.9" fill="none"/>
<circle cx="643.9" cy="34.09" r="2.4" fill="#000"/>
<circle cx="648.5" cy="27.31" r="2.4" fill="#000"/>
<circle cx="653.4" cy="34.09" r="2.4" fill="#000"/>
<rect x="663.2" y="55.2" width="12.8" height="83.1" fill="#d0da98" stroke="#151515" stroke-width="1.15"/>
<circle cx="664.9" cy="55.47" r="2.4" fill="#000"/>
<circle cx="669.6" cy="51.73" r="2.4" fill="#000"/>
<circle cx="674.1" cy="53.86" r="2.4" fill="#000"/>
<path d="M550.6,4.7 V138.3 H682" fill="none" stroke="#111" stroke-width="1.3"/>
<text x="543" y="142.1" text-anchor="end" font-size="10.5" fill="#222" stroke="#222">50</text>
<text x="543" y="115.38" text-anchor="end" font-size="10.5" fill="#222" stroke="#222">55</text>
<text x="543" y="88.66" text-anchor="end" font-size="10.5" fill="#222" stroke="#222">60</text>
<text x="543" y="61.94" text-anchor="end" font-size="10.5" fill="#222" stroke="#222">65</text>
<text x="543" y="35.22" text-anchor="end" font-size="10.5" fill="#222" stroke="#222">70</text>
<text x="543" y="8.5" text-anchor="end" font-size="10.5" fill="#222" stroke="#222">75</text>
<path d="M550.6,138.3 h-5 M550.6,111.58 h-5 M550.6,84.86 h-5 M550.6,58.14 h-5 M550.6,31.42 h-5 M550.6,4.7 h-5 M564.4,138.3 v5 M585.6,138.3 v5 M606.7,138.3 v5 M627.7,138.3 v5 M648.8,138.3 v5 M669.6,138.3 v5" stroke="#111" stroke-width="1.2" fill="none"/>
<text transform="translate(566.3,152.2) rotate(-45)" text-anchor="end" font-size="10" fill="#222" stroke="#222">WT</text>
<text transform="translate(587.5,152.2) rotate(-45)" text-anchor="end" font-size="10" fill="#222" stroke="#222">G130V</text>
<text transform="translate(606.5,154.3) rotate(-45)" text-anchor="end" font-size="10" fill="#222" stroke="#222">4A7</text>
<text transform="translate(629.6,152.2) rotate(-45)" text-anchor="end" font-size="10" fill="#222" stroke="#222">6B1</text>
<text transform="translate(650.7,152.2) rotate(-45)" text-anchor="end" font-size="10" fill="#222" stroke="#222">16C10</text>
<text transform="translate(671.5,152.2) rotate(-45)" text-anchor="end" font-size="10" fill="#222" stroke="#222">28F7</text>
<text transform="translate(525.3,71.2) rotate(-90)" text-anchor="middle" font-size="11.2" fill="#222" stroke="#222">Tm (°C)</text>
<text x="560.6" y="25" font-size="26.5" fill="#000" stroke="#000">E</text>
<text x="545.4" y="184.6" font-size="10.1" text-anchor="start" fill="#222" stroke="#222">FXN alone</text>
<text x="602.8" y="184.6" font-size="10.0" text-anchor="start" fill="#222" stroke="#222">FXN G130V : NB</text>
<rect x="559.9" y="295.86" width="12.4" height="39.74" fill="#eecd70" stroke="#151515" stroke-width="1.15"/>
<circle cx="561.7" cy="295.86" r="2.4" fill="#000"/>
<circle cx="565.9" cy="292.16" r="2.4" fill="#000"/>
<circle cx="570.8" cy="294.32" r="2.4" fill="#000"/>
<rect x="580.3" y="316.5" width="12.4" height="19.1" fill="#eecd70" stroke="#151515" stroke-width="1.15"/>
<path d="M586.5,318.96 V312.37 M584.3,312.37 h4.4" stroke="#333" stroke-width="0.9" fill="none"/>
<circle cx="582.4" cy="312.37" r="2.4" fill="#000"/>
<circle cx="582.4" cy="318.65" r="2.4" fill="#000"/>
<circle cx="591.2" cy="316.19" r="2.4" fill="#000"/>
<rect x="601.3" y="240.09" width="12.4" height="95.51" fill="#eecd70" stroke="#151515" stroke-width="1.15"/>
<circle cx="602.6" cy="240.71" r="2.4" fill="#000"/>
<circle cx="607.5" cy="237.01" r="2.4" fill="#000"/>
<circle cx="611.6" cy="238.86" r="2.4" fill="#000"/>
<rect x="621.6" y="308.67" width="12.4" height="26.93" fill="#eecd70" stroke="#151515" stroke-width="1.15"/>
<path d="M627.8,309.6 V307.56 M625.6,307.56 h4.4" stroke="#333" stroke-width="0.9" fill="none"/>
<circle cx="623.1" cy="309.6" r="2.4" fill="#000"/>
<circle cx="631.9" cy="307.32" r="2.4" fill="#000"/>
<rect x="641.9" y="269.3" width="12.4" height="66.3" fill="#eecd70" stroke="#151515" stroke-width="1.15"/>
<path d="M648.1,270.22 V268.44 M645.9,268.44 h4.4" stroke="#333" stroke-width="0.9" fill="none"/>
<circle cx="644" cy="270.22" r="2.4" fill="#000"/>
<circle cx="652.8" cy="268.31" r="2.4" fill="#000"/>
<rect x="662.9" y="230.97" width="12.4" height="104.63" fill="#eecd70" stroke="#151515" stroke-width="1.15"/>
<path d="M669.1,233.93 V227.15 M666.9,227.15 h4.4" stroke="#333" stroke-width="0.9" fill="none"/>
<circle cx="665" cy="232.08" r="2.4" fill="#000"/>
<circle cx="668.6" cy="224.38" r="2.4" fill="#000"/>
<circle cx="672.8" cy="232.08" r="2.4" fill="#000"/>
<path d="M552.6,206.2 V335.6 H682" fill="none" stroke="#111" stroke-width="1.3"/>
<text x="545" y="339.4" text-anchor="end" font-size="10.5" fill="#222" stroke="#222">0</text>
<text x="545" y="320.91" text-anchor="end" font-size="10.5" fill="#222" stroke="#222">3</text>
<text x="545" y="302.43" text-anchor="end" font-size="10.5" fill="#222" stroke="#222">6</text>
<text x="545" y="283.94" text-anchor="end" font-size="10.5" fill="#222" stroke="#222">9</text>
<text x="545" y="265.46" text-anchor="end" font-size="10.5" fill="#222" stroke="#222">12</text>
<text x="545" y="246.97" text-anchor="end" font-size="10.5" fill="#222" stroke="#222">15</text>
<text x="545" y="228.49" text-anchor="end" font-size="10.5" fill="#222" stroke="#222">18</text>
<text x="545" y="210" text-anchor="end" font-size="10.5" fill="#222" stroke="#222">21</text>
<path d="M552.6,335.6 h-5 M552.6,317.11 h-5 M552.6,298.63 h-5 M552.6,280.14 h-5 M552.6,261.66 h-5 M552.6,243.17 h-5 M552.6,224.69 h-5 M552.6,206.2 h-5 M566.1,335.6 v5 M586.5,335.6 v5 M607.5,335.6 v5 M627.8,335.6 v5 M648.1,335.6 v5 M669.1,335.6 v5" stroke="#111" stroke-width="1.2" fill="none"/>
<text transform="translate(568,349.5) rotate(-45)" text-anchor="end" font-size="10" fill="#222" stroke="#222">WT</text>
<text transform="translate(588.4,349.5) rotate(-45)" text-anchor="end" font-size="10" fill="#222" stroke="#222">D122Y</text>
<text transform="translate(609.4,349.5) rotate(-45)" text-anchor="end" font-size="10" fill="#222" stroke="#222">G130V</text>
<text transform="translate(629.7,349.5) rotate(-45)" text-anchor="end" font-size="10" fill="#222" stroke="#222">G137V</text>
<text transform="translate(650,349.5) rotate(-45)" text-anchor="end" font-size="10" fill="#222" stroke="#222">W155R</text>
<text transform="translate(671,349.5) rotate(-45)" text-anchor="end" font-size="10" fill="#222" stroke="#222">L198R</text>
<text transform="translate(525.7,271.1) rotate(-90)" text-anchor="middle" font-size="10.9" fill="#222" stroke="#222">ΔTm (°C)</text>
<text x="563" y="225.1" font-size="26.5" fill="#000" stroke="#000">F</text>
<text x="602.4" y="225.4" font-size="10.8" text-anchor="start" fill="#222" stroke="#222">NB_4A7</text>
<text x="617.5" y="388.3" font-size="10.8" text-anchor="middle" fill="#222" stroke="#222">FXN variants</text>
<rect x="560.4" y="505.58" width="12.4" height="33.12" fill="#de8ae2" stroke="#151515" stroke-width="1.15"/>
<circle cx="562.7" cy="505.58" r="2.4" fill="#000"/>
<circle cx="566.6" cy="503.39" r="2.4" fill="#000"/>
<circle cx="571.3" cy="505.16" r="2.4" fill="#000"/>
<rect x="581" y="472.56" width="12.4" height="66.14" fill="#de8ae2" stroke="#151515" stroke-width="1.15"/>
<circle cx="583" cy="473.92" r="2.4" fill="#000"/>
<circle cx="587.2" cy="470.94" r="2.4" fill="#000"/>
<circle cx="591.6" cy="470.94" r="2.4" fill="#000"/>
<rect x="601.6" y="453.03" width="12.4" height="85.67" fill="#de8ae2" stroke="#151515" stroke-width="1.15"/>
<circle cx="603.3" cy="453.24" r="2.4" fill="#000"/>
<circle cx="607.7" cy="450.57" r="2.4" fill="#000"/>
<circle cx="612.4" cy="452.5" r="2.4" fill="#000"/>
<rect x="622.2" y="429.73" width="12.4" height="108.97" fill="#de8ae2" stroke="#151515" stroke-width="1.15"/>
<circle cx="624.1" cy="430.2" r="2.4" fill="#000"/>
<circle cx="628.3" cy="426.28" r="2.4" fill="#000"/>
<circle cx="632.7" cy="429.2" r="2.4" fill="#000"/>
<rect x="642.8" y="479.46" width="12.4" height="59.24" fill="#de8ae2" stroke="#151515" stroke-width="1.15"/>
<circle cx="644.9" cy="480.03" r="2.4" fill="#000"/>
<circle cx="649" cy="477.84" r="2.4" fill="#000"/>
<circle cx="653.4" cy="478.73" r="2.4" fill="#000"/>
<rect x="663.4" y="441.53" width="12.4" height="97.17" fill="#de8ae2" stroke="#151515" stroke-width="1.15"/>
<path d="M669.6,443.1 V438.4 M667.4,438.4 h4.4" stroke="#333" stroke-width="0.9" fill="none"/>
<circle cx="665.4" cy="437.04" r="2.4" fill="#000"/>
<circle cx="665.4" cy="443.1" r="2.4" fill="#000"/>
<circle cx="674.2" cy="441.95" r="2.4" fill="#000"/>
<path d="M553.1,408.1 V538.7 H682" fill="none" stroke="#111" stroke-width="1.3"/>
<text x="545.5" y="542.5" text-anchor="end" font-size="10.5" fill="#222" stroke="#222">0</text>
<text x="545.5" y="516.38" text-anchor="end" font-size="10.5" fill="#222" stroke="#222">5</text>
<text x="545.5" y="490.26" text-anchor="end" font-size="10.5" fill="#222" stroke="#222">10</text>
<text x="545.5" y="464.14" text-anchor="end" font-size="10.5" fill="#222" stroke="#222">15</text>
<text x="545.5" y="438.02" text-anchor="end" font-size="10.5" fill="#222" stroke="#222">20</text>
<text x="545.5" y="411.9" text-anchor="end" font-size="10.5" fill="#222" stroke="#222">25</text>
<path d="M553.1,538.7 h-5 M553.1,512.58 h-5 M553.1,486.46 h-5 M553.1,460.34 h-5 M553.1,434.22 h-5 M553.1,408.1 h-5 M566.6,538.7 v5 M587.2,538.7 v5 M607.8,538.7 v5 M628.4,538.7 v5 M649,538.7 v5 M669.6,538.7 v5" stroke="#111" stroke-width="1.2" fill="none"/>
<text transform="translate(568.5,552.6) rotate(-45)" text-anchor="end" font-size="10" fill="#222" stroke="#222">WT</text>
<text transform="translate(589.1,552.6) rotate(-45)" text-anchor="end" font-size="10" fill="#222" stroke="#222">D122Y</text>
<text transform="translate(609.7,552.6) rotate(-45)" text-anchor="end" font-size="10" fill="#222" stroke="#222">G130V</text>
<text transform="translate(630.3,552.6) rotate(-45)" text-anchor="end" font-size="10" fill="#222" stroke="#222">G137V</text>
<text transform="translate(650.9,552.6) rotate(-45)" text-anchor="end" font-size="10" fill="#222" stroke="#222">W155R</text>
<text transform="translate(671.5,552.6) rotate(-45)" text-anchor="end" font-size="10" fill="#222" stroke="#222">L198R</text>
<text transform="translate(525.8,473.2) rotate(-90)" text-anchor="middle" font-size="11.0" fill="#222" stroke="#222">ΔTm (°C)</text>
<text x="564.1" y="428.3" font-size="26.5" fill="#000" stroke="#000">G</text>
<text x="601.3" y="417.9" font-size="12.4" text-anchor="start" fill="#222" stroke="#222">NB_28F6</text>
<text x="618.45" y="590.8" font-size="10.8" text-anchor="middle" fill="#222" stroke="#222">FXN variants</text>
</svg></body></html>
